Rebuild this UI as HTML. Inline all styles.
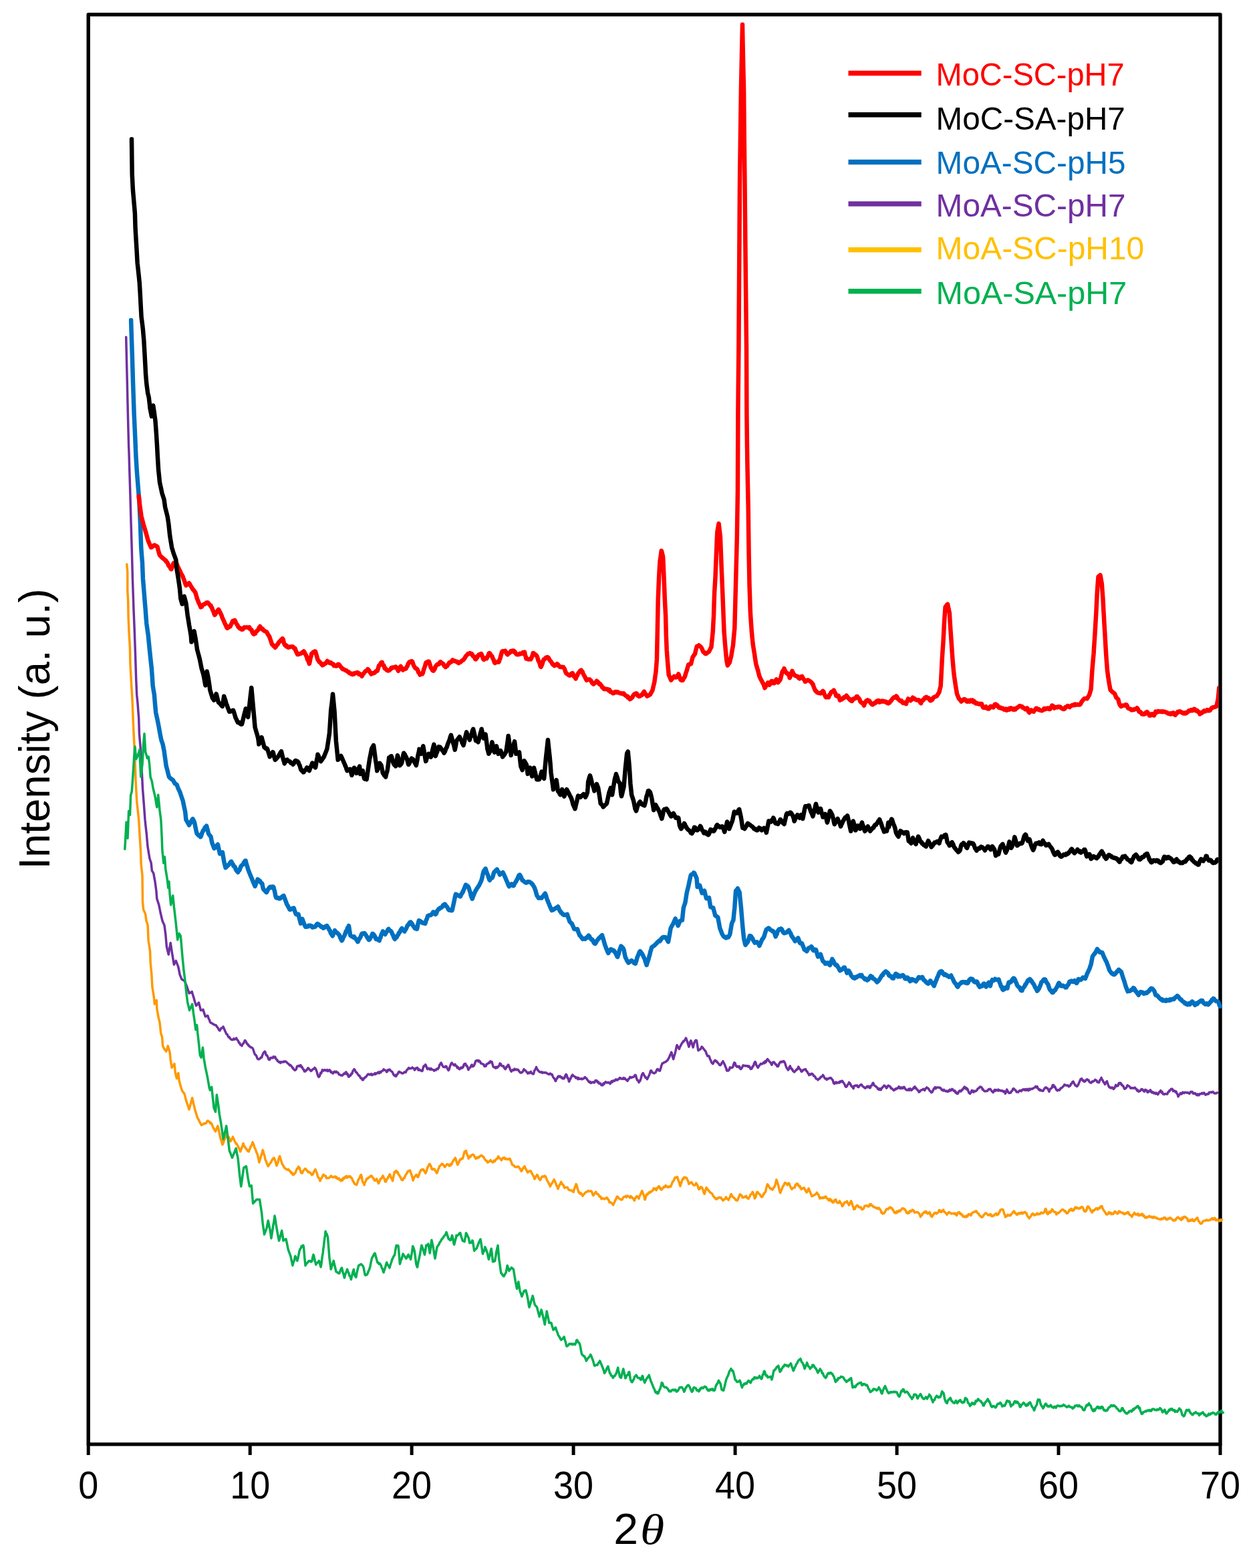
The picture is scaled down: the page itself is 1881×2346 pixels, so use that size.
<!DOCTYPE html>
<html lang="en"><head><meta charset="utf-8"><title>XRD patterns</title>
<style>html,body{margin:0;padding:0;background:#fff;width:1881px;height:2346px;overflow:hidden}svg{display:block}text{font-family:"Liberation Sans",sans-serif;fill:#000}.th{font-family:"Liberation Serif",serif;font-style:italic}</style></head><body>
<svg width="1881" height="2346" viewBox="0 0 1881 2346">
<rect width="1881" height="2346" fill="#fff"/>
<defs><clipPath id="cl"><rect x="0" y="0" width="1823.4" height="2346"/></clipPath></defs>
<g stroke="#000" stroke-width="5.4" fill="none" stroke-linecap="square">
<path d="M132.2 21.8 L1826.0 21.8 L1826.0 2160.9 L132.2 2160.9 Z" stroke-linejoin="round"/>
<path d="M132.2 2160.9 L132.2 2177" stroke-linecap="butt" stroke-width="5.0"/>
<path d="M374.2 2160.9 L374.2 2177" stroke-linecap="butt" stroke-width="5.0"/>
<path d="M616.1 2160.9 L616.1 2177" stroke-linecap="butt" stroke-width="5.0"/>
<path d="M858.1 2160.9 L858.1 2177" stroke-linecap="butt" stroke-width="5.0"/>
<path d="M1100.1 2160.9 L1100.1 2177" stroke-linecap="butt" stroke-width="5.0"/>
<path d="M1342.1 2160.9 L1342.1 2177" stroke-linecap="butt" stroke-width="5.0"/>
<path d="M1584.0 2160.9 L1584.0 2177" stroke-linecap="butt" stroke-width="5.0"/>
<path d="M1826.0 2160.9 L1826.0 2177" stroke-linecap="butt" stroke-width="5.0"/>
</g>
<path d="M188.7 504.2 L189.2 526.4 L189.8 551.0 L190.3 572.0 L191.4 620.6 L192.6 667.0 L193.1 680.0 L193.6 698.1 L194.5 726.4 L196.1 784.3 L197.2 819.1 L198.0 849.9 L198.4 865.5 L199.1 885.8 L200.0 911.9 L201.4 946.7 L202.6 981.4 L203.7 1016.2 L204.7 1039.4 L206.1 1053.3 L206.8 1063.1 L207.7 1074.2 L208.4 1097.4 L209.0 1104.7 L210.0 1115.9 L211.2 1134.5 L212.3 1155.4 L213.5 1180.0 L214.5 1193.0 L215.3 1203.2 L217.0 1226.4 L217.8 1234.1 L218.9 1244.0 L219.3 1247.2 L220.0 1255.7 L220.9 1265.8 L222.2 1273.9 L223.3 1280.7 L223.9 1284.3 L224.4 1285.8 L225.5 1289.2 L226.2 1291.3 L226.6 1295.2 L227.4 1302.9 L228.8 1305.0 L229.7 1306.4 L231.0 1313.6 L232.0 1319.1 L233.2 1328.1 L233.9 1333.0 L234.3 1338.5 L234.8 1344.6 L235.4 1346.5 L236.5 1349.9 L237.8 1353.9 L238.7 1358.3 L240.1 1365.5 L240.9 1368.8 L242.0 1373.5 L243.2 1378.3 L244.2 1380.5 L245.3 1382.7 L245.9 1384.0 L246.4 1387.6 L247.8 1398.0 L248.6 1407.4 L249.4 1416.5 L250.8 1422.3 L252.2 1428.1 L253.0 1423.4 L254.1 1417.0 L255.2 1410.7 L256.3 1418.0 L257.5 1425.8 L258.5 1431.9 L259.6 1438.8 L260.3 1443.2 L260.7 1442.6 L261.8 1440.2 L262.9 1438.1 L263.3 1437.4 L264.0 1439.4 L265.1 1442.1 L266.2 1445.0 L266.8 1446.7 L267.3 1449.1 L268.4 1454.6 L269.1 1458.3 L269.5 1459.1 L270.6 1461.9 L271.9 1465.2 L272.8 1465.5 L273.9 1466.5 L275.0 1466.8 L276.1 1467.5 L277.2 1469.9 L278.3 1472.6 L279.6 1475.6 L280.5 1478.8 L281.6 1481.6 L283.0 1486.1 L283.8 1485.5 L284.9 1485.3 L286.0 1484.4 L287.2 1483.7 L288.2 1487.3 L289.3 1490.7 L290.0 1493.1 L290.4 1494.5 L291.5 1498.4 L292.6 1501.9 L293.5 1504.6 L294.8 1503.4 L295.9 1502.0 L297.0 1500.6 L297.4 1500.0 L298.1 1502.5 L299.2 1506.6 L300.4 1511.6 L301.4 1511.4 L302.5 1511.4 L303.9 1510.4 L304.7 1513.2 L305.8 1516.3 L306.9 1519.9 L307.4 1520.9 L308.0 1520.8 L309.1 1520.6 L310.2 1519.6 L310.9 1519.8 L311.3 1520.9 L312.4 1524.4 L313.5 1526.2 L314.3 1529.0 L315.7 1530.5 L316.8 1530.8 L317.9 1531.3 L319.0 1532.4 L320.1 1532.7 L321.2 1533.6 L322.5 1533.7 L323.4 1534.1 L324.5 1536.1 L325.6 1537.3 L326.7 1538.9 L327.8 1541.2 L328.3 1541.7 L328.9 1542.0 L330.0 1540.1 L331.1 1538.2 L332.2 1538.1 L333.3 1537.3 L334.1 1536.0 L334.4 1537.0 L335.5 1539.5 L336.6 1542.2 L337.5 1544.1 L338.8 1546.9 L339.9 1547.5 L341.0 1549.8 L342.1 1551.8 L343.2 1551.6 L344.3 1553.6 L345.4 1554.9 L346.8 1555.6 L347.6 1555.8 L348.7 1555.6 L349.8 1553.9 L350.9 1555.1 L352.0 1554.5 L353.1 1553.8 L353.8 1553.2 L354.2 1555.1 L355.3 1555.9 L356.4 1557.1 L357.5 1560.3 L358.4 1560.1 L359.7 1563.1 L360.8 1563.7 L361.9 1564.8 L363.0 1562.0 L364.1 1561.5 L365.2 1559.2 L366.5 1556.6 L367.4 1557.4 L368.5 1559.4 L369.6 1561.6 L370.7 1562.3 L371.2 1563.7 L371.8 1563.4 L372.9 1565.3 L374.0 1565.8 L375.1 1566.9 L376.2 1566.9 L377.3 1567.8 L378.1 1568.4 L379.5 1571.9 L380.6 1575.6 L381.6 1577.7 L382.8 1578.5 L383.9 1580.2 L385.0 1583.5 L386.2 1584.7 L387.2 1584.8 L388.3 1584.5 L389.4 1583.3 L390.5 1582.0 L390.9 1582.4 L391.6 1582.2 L392.7 1578.7 L393.8 1576.1 L394.9 1574.4 L396.2 1573.2 L397.1 1574.3 L398.2 1578.7 L399.0 1578.6 L400.4 1580.6 L401.5 1583.8 L402.5 1585.6 L403.7 1585.5 L404.8 1582.6 L405.9 1582.4 L407.0 1582.8 L408.1 1582.9 L409.2 1580.8 L410.3 1582.3 L411.7 1581.1 L412.5 1583.1 L413.6 1585.2 L414.7 1585.7 L415.2 1587.0 L415.8 1588.0 L416.9 1588.2 L418.0 1589.5 L419.1 1588.7 L419.9 1590.4 L420.2 1589.6 L421.3 1588.9 L422.4 1588.8 L423.5 1589.2 L424.5 1588.0 L425.7 1588.8 L426.8 1587.9 L427.9 1588.4 L429.1 1589.3 L430.1 1590.7 L431.2 1591.3 L432.3 1592.4 L433.4 1593.5 L433.8 1593.9 L434.5 1593.3 L435.6 1594.7 L436.7 1595.9 L437.8 1598.0 L438.4 1597.6 L438.9 1599.1 L440.0 1600.0 L441.1 1601.3 L441.9 1601.0 L443.3 1599.7 L444.4 1595.6 L445.4 1595.0 L446.6 1594.5 L447.7 1595.5 L448.8 1593.9 L450.0 1593.7 L451.0 1596.8 L452.1 1596.3 L453.5 1599.9 L454.3 1600.0 L455.4 1603.0 L456.5 1601.6 L457.0 1603.0 L457.6 1601.7 L458.7 1601.5 L459.8 1599.5 L460.9 1597.9 L461.6 1598.4 L462.0 1598.6 L463.1 1600.4 L464.2 1600.8 L465.3 1602.5 L466.2 1601.9 L467.5 1600.2 L468.6 1599.5 L469.7 1599.2 L470.9 1597.4 L471.9 1598.5 L473.0 1600.4 L474.3 1604.2 L475.2 1607.8 L476.3 1610.5 L477.1 1611.4 L478.5 1609.7 L479.6 1605.2 L480.7 1605.7 L481.8 1602.4 L482.5 1600.6 L482.9 1601.8 L484.0 1602.2 L485.1 1600.9 L486.2 1600.6 L487.3 1601.7 L488.3 1601.9 L489.5 1600.6 L490.6 1602.7 L491.7 1602.1 L492.9 1600.7 L493.9 1601.4 L495.0 1604.2 L496.1 1603.6 L497.5 1605.7 L498.3 1606.0 L499.4 1604.1 L500.5 1603.1 L501.6 1604.3 L502.7 1604.4 L503.3 1603.2 L503.8 1604.4 L504.9 1604.5 L506.0 1604.9 L507.1 1607.6 L508.0 1607.7 L509.3 1608.3 L510.4 1609.2 L511.5 1608.8 L512.6 1609.0 L513.7 1607.3 L514.8 1606.1 L515.9 1606.8 L517.2 1604.2 L518.1 1604.1 L519.2 1607.4 L520.3 1606.9 L521.4 1610.9 L521.9 1609.9 L522.5 1610.9 L523.6 1608.7 L524.7 1609.1 L525.8 1606.3 L526.5 1606.9 L526.9 1606.4 L528.0 1602.4 L529.3 1600.7 L530.0 1599.7 L531.3 1601.2 L532.4 1604.1 L533.5 1604.5 L534.6 1605.8 L535.7 1607.7 L536.8 1609.3 L537.9 1609.2 L539.3 1612.4 L540.1 1613.3 L541.2 1613.1 L542.3 1615.7 L542.8 1614.8 L543.4 1615.7 L544.5 1613.2 L545.6 1613.1 L546.7 1611.5 L547.4 1611.4 L547.8 1611.1 L548.9 1609.5 L550.0 1607.9 L550.9 1606.9 L552.2 1607.2 L553.3 1608.0 L554.4 1607.7 L555.5 1606.6 L556.6 1608.6 L557.8 1607.7 L558.8 1607.3 L559.9 1607.5 L561.0 1605.5 L562.1 1607.2 L563.2 1605.8 L564.3 1605.8 L564.8 1605.8 L565.4 1604.4 L566.5 1604.1 L567.6 1605.7 L568.7 1603.7 L569.8 1604.6 L570.6 1603.0 L572.0 1602.1 L573.1 1601.9 L574.1 1599.9 L575.3 1600.9 L576.4 1601.2 L577.5 1601.4 L578.7 1604.0 L579.7 1603.1 L580.8 1600.6 L581.9 1601.2 L582.9 1600.0 L584.1 1601.4 L585.2 1602.5 L586.3 1603.2 L587.4 1604.3 L588.0 1605.8 L588.5 1607.1 L589.6 1608.6 L590.7 1609.7 L591.8 1608.4 L592.6 1610.4 L594.0 1607.8 L595.1 1606.7 L596.2 1604.4 L597.2 1603.3 L598.4 1604.6 L599.5 1604.4 L600.6 1605.2 L601.9 1606.1 L602.8 1605.9 L603.9 1605.2 L605.0 1604.1 L606.1 1604.0 L606.5 1604.4 L607.2 1604.5 L608.3 1601.6 L609.4 1600.5 L610.5 1599.3 L611.2 1598.2 L611.6 1597.7 L612.7 1598.9 L613.8 1598.5 L614.9 1598.6 L616.0 1598.1 L617.0 1597.0 L618.2 1598.2 L619.3 1598.6 L620.4 1601.0 L621.5 1599.9 L622.6 1597.9 L623.9 1597.6 L624.8 1597.4 L625.9 1600.9 L627.0 1600.2 L627.4 1601.1 L628.1 1600.3 L629.2 1601.2 L630.3 1602.0 L631.4 1602.6 L632.0 1602.3 L632.5 1600.4 L633.9 1595.2 L634.7 1594.5 L635.8 1594.9 L636.7 1592.8 L638.0 1595.5 L639.1 1599.0 L640.1 1599.7 L641.3 1598.2 L642.4 1598.7 L643.5 1600.4 L644.8 1598.5 L645.7 1600.2 L646.8 1600.1 L647.9 1600.6 L649.0 1600.7 L649.4 1602.1 L650.1 1601.8 L651.2 1600.7 L652.3 1601.1 L653.4 1599.2 L654.5 1599.2 L655.2 1599.7 L655.6 1598.4 L656.7 1597.4 L657.8 1592.9 L658.9 1592.7 L659.4 1590.6 L660.0 1590.1 L661.1 1592.1 L662.2 1594.6 L663.3 1596.3 L664.5 1596.4 L665.5 1596.7 L666.6 1595.3 L668.0 1595.4 L668.8 1597.7 L669.9 1599.5 L671.0 1601.4 L671.4 1601.2 L672.1 1600.1 L673.2 1595.9 L674.3 1593.3 L675.4 1590.6 L676.1 1590.1 L676.5 1591.6 L677.6 1591.9 L678.7 1593.3 L679.8 1593.9 L680.9 1592.3 L681.9 1594.6 L683.1 1594.7 L684.2 1597.7 L685.3 1596.6 L686.4 1598.9 L687.7 1599.8 L688.6 1598.4 L689.7 1597.0 L690.8 1598.3 L691.9 1597.5 L692.3 1596.2 L693.0 1596.8 L694.1 1593.0 L695.2 1591.7 L696.5 1591.4 L697.4 1594.2 L698.5 1594.2 L699.6 1596.6 L700.7 1600.3 L701.1 1600.6 L701.8 1598.2 L702.9 1597.9 L704.0 1596.7 L705.1 1594.2 L706.2 1593.1 L707.3 1595.8 L708.6 1595.0 L709.5 1594.0 L710.6 1591.1 L712.0 1587.2 L712.8 1586.8 L713.9 1587.0 L715.0 1586.6 L716.1 1588.3 L716.7 1586.9 L717.2 1587.9 L718.3 1587.9 L719.4 1590.9 L720.5 1590.9 L721.3 1591.6 L722.7 1592.3 L723.8 1592.4 L724.9 1595.4 L725.9 1595.3 L727.1 1595.2 L728.2 1592.0 L729.3 1592.0 L730.6 1590.8 L731.5 1589.9 L732.6 1590.5 L733.7 1587.8 L734.8 1589.0 L735.9 1588.5 L737.0 1592.1 L738.1 1596.1 L738.7 1596.5 L739.2 1596.8 L740.3 1596.7 L741.5 1598.1 L742.5 1596.2 L743.6 1597.6 L744.7 1597.0 L745.7 1595.3 L746.9 1594.8 L748.0 1591.1 L749.1 1591.4 L750.2 1593.9 L751.3 1594.9 L752.6 1595.0 L753.5 1595.1 L754.6 1598.1 L755.7 1598.9 L756.1 1599.7 L756.8 1599.1 L757.9 1596.1 L759.0 1596.3 L760.1 1593.4 L760.7 1593.0 L761.2 1594.3 L762.3 1596.4 L763.4 1599.9 L764.5 1602.4 L765.4 1603.2 L766.7 1600.8 L767.8 1600.4 L768.9 1601.3 L770.0 1599.2 L771.1 1600.1 L772.2 1600.8 L773.3 1599.9 L774.6 1600.7 L775.5 1600.6 L776.6 1602.5 L777.7 1603.8 L778.8 1605.0 L779.9 1605.0 L780.4 1605.1 L781.0 1604.2 L782.1 1603.8 L783.2 1601.6 L783.9 1599.7 L784.3 1600.6 L785.4 1601.3 L786.5 1601.7 L787.6 1603.4 L788.7 1604.5 L789.7 1606.1 L790.9 1604.5 L792.0 1605.7 L793.1 1605.1 L794.3 1603.3 L795.3 1605.4 L796.4 1606.3 L797.8 1607.0 L798.6 1606.2 L799.7 1601.9 L800.8 1600.6 L801.9 1598.2 L802.5 1596.5 L803.0 1598.4 L804.1 1599.8 L805.2 1601.6 L806.3 1602.6 L807.1 1603.6 L808.5 1604.3 L809.6 1604.0 L810.7 1603.8 L811.8 1605.4 L812.9 1604.5 L814.0 1604.7 L815.1 1605.0 L816.2 1604.7 L817.3 1605.0 L818.4 1605.8 L819.9 1606.9 L820.6 1607.0 L821.7 1607.4 L822.8 1606.3 L823.9 1606.3 L825.0 1607.7 L825.7 1607.9 L826.1 1607.5 L827.2 1610.5 L828.3 1612.5 L829.4 1613.6 L830.5 1615.3 L831.0 1617.2 L831.6 1617.5 L832.7 1614.1 L833.8 1613.4 L834.9 1610.7 L836.1 1610.0 L837.1 1611.2 L838.2 1610.0 L839.3 1612.0 L840.4 1611.7 L841.5 1613.6 L842.6 1612.7 L843.0 1613.6 L843.7 1614.0 L844.8 1612.5 L845.9 1609.1 L847.2 1607.4 L848.1 1608.7 L849.2 1613.0 L850.3 1613.3 L851.4 1618.2 L851.9 1618.2 L852.5 1615.8 L853.6 1614.2 L854.7 1611.7 L855.8 1609.1 L856.5 1609.2 L856.9 1608.1 L858.0 1609.9 L859.1 1610.2 L860.2 1610.8 L861.6 1612.8 L862.4 1612.0 L863.5 1612.3 L864.6 1614.6 L865.7 1612.5 L866.2 1614.0 L866.8 1614.4 L867.9 1614.1 L869.0 1614.4 L870.1 1613.6 L870.9 1614.8 L872.3 1614.1 L873.4 1613.8 L874.5 1612.2 L875.5 1611.5 L876.7 1613.1 L877.8 1613.6 L878.9 1615.7 L880.0 1616.6 L881.1 1618.6 L882.5 1619.7 L883.3 1618.4 L884.4 1620.5 L885.5 1619.9 L886.6 1619.0 L887.7 1618.9 L888.3 1619.0 L888.8 1620.0 L889.9 1619.4 L891.0 1616.5 L892.1 1616.9 L892.9 1616.7 L894.3 1619.3 L895.4 1618.7 L896.5 1621.2 L897.5 1620.9 L898.7 1621.1 L899.8 1623.6 L901.0 1623.0 L902.0 1623.7 L903.1 1620.7 L904.2 1621.7 L905.3 1619.8 L906.4 1618.5 L906.8 1619.6 L907.5 1619.7 L908.6 1620.1 L909.7 1619.3 L910.8 1620.0 L911.9 1619.7 L912.6 1620.9 L913.0 1621.6 L914.1 1619.8 L915.2 1617.5 L916.3 1619.1 L917.2 1617.1 L918.5 1617.0 L919.6 1617.3 L920.7 1615.5 L921.9 1614.9 L922.9 1616.0 L924.0 1615.9 L925.1 1614.7 L926.2 1614.5 L927.3 1612.6 L928.4 1612.8 L929.3 1613.9 L930.0 1614.0 L930.6 1614.2 L931.7 1614.4 L932.8 1612.7 L933.9 1614.4 L934.6 1613.3 L935.0 1613.0 L936.1 1614.7 L937.2 1615.8 L938.3 1615.6 L938.8 1617.3 L939.4 1616.8 L940.5 1614.6 L941.6 1613.8 L942.8 1611.3 L943.8 1611.9 L944.9 1612.6 L946.0 1611.4 L947.4 1611.6 L948.2 1611.3 L949.3 1610.0 L950.4 1608.3 L950.9 1608.5 L951.5 1609.0 L952.6 1613.8 L953.2 1614.7 L953.7 1616.3 L954.8 1616.2 L956.0 1619.5 L957.0 1618.1 L958.1 1616.6 L959.0 1613.7 L960.3 1608.7 L961.4 1606.5 L962.0 1605.6 L962.5 1605.7 L963.6 1608.4 L964.8 1610.1 L965.8 1612.2 L966.9 1612.3 L968.3 1614.7 L969.1 1613.5 L970.2 1611.0 L971.3 1609.0 L972.4 1606.0 L973.6 1601.9 L974.6 1601.7 L975.7 1604.3 L976.8 1604.9 L977.5 1605.4 L977.9 1605.5 L979.0 1605.9 L980.1 1604.9 L981.0 1604.8 L982.3 1601.9 L983.4 1599.9 L983.8 1600.2 L984.5 1599.7 L985.6 1601.7 L986.7 1601.4 L987.5 1602.1 L988.9 1597.6 L990.0 1593.7 L990.8 1591.7 L991.1 1591.0 L992.2 1590.8 L993.3 1589.9 L994.5 1589.3 L995.5 1589.1 L996.6 1588.4 L997.7 1587.1 L998.4 1586.9 L998.8 1586.6 L999.9 1584.7 L1001.0 1582.6 L1001.4 1582.3 L1002.1 1580.1 L1003.2 1577.4 L1004.3 1575.6 L1004.7 1574.2 L1005.4 1576.3 L1006.5 1581.1 L1007.7 1584.6 L1008.7 1580.6 L1010.0 1576.5 L1010.9 1572.9 L1012.0 1567.5 L1013.0 1563.7 L1014.2 1565.9 L1015.3 1567.9 L1016.3 1569.5 L1017.5 1566.4 L1018.6 1564.5 L1019.3 1562.6 L1019.7 1562.4 L1020.8 1560.3 L1021.9 1559.4 L1022.3 1558.0 L1023.0 1558.4 L1024.1 1556.7 L1025.2 1555.9 L1026.3 1553.1 L1026.9 1553.7 L1027.4 1556.0 L1028.5 1558.2 L1029.6 1562.2 L1030.9 1566.2 L1031.8 1563.6 L1032.9 1558.6 L1033.9 1556.9 L1035.1 1560.6 L1036.2 1563.7 L1037.1 1567.1 L1038.4 1561.8 L1039.4 1559.0 L1040.6 1556.8 L1041.7 1556.2 L1042.5 1556.9 L1042.8 1558.7 L1043.9 1566.0 L1044.8 1571.8 L1046.1 1570.8 L1047.2 1570.2 L1048.3 1569.6 L1049.4 1567.6 L1050.1 1566.1 L1050.5 1566.8 L1051.6 1567.4 L1052.7 1569.1 L1054.1 1570.7 L1054.9 1572.2 L1056.0 1573.0 L1056.4 1574.2 L1057.1 1576.4 L1058.2 1578.7 L1058.7 1580.0 L1059.3 1580.1 L1060.4 1580.0 L1061.0 1580.0 L1061.5 1581.4 L1062.6 1584.8 L1063.7 1586.7 L1064.5 1589.3 L1065.9 1590.9 L1066.8 1591.7 L1068.1 1588.9 L1069.1 1587.0 L1070.3 1586.4 L1071.4 1588.0 L1072.5 1587.7 L1073.3 1589.5 L1074.7 1590.5 L1075.8 1592.1 L1076.9 1593.6 L1077.9 1593.8 L1079.1 1592.5 L1080.2 1589.8 L1081.3 1589.4 L1081.9 1587.7 L1082.4 1589.3 L1083.5 1590.8 L1084.2 1592.7 L1084.6 1593.1 L1085.7 1596.4 L1086.8 1598.3 L1087.2 1601.0 L1087.9 1602.1 L1089.0 1601.0 L1090.0 1601.8 L1091.2 1600.4 L1092.3 1596.9 L1093.4 1598.0 L1094.5 1597.4 L1095.8 1597.3 L1096.7 1596.3 L1097.8 1592.1 L1098.8 1589.9 L1100.0 1590.5 L1101.1 1594.8 L1102.2 1594.8 L1102.8 1596.2 L1103.3 1595.0 L1104.4 1595.6 L1105.5 1596.8 L1106.2 1595.3 L1106.6 1595.7 L1107.7 1599.0 L1108.6 1599.6 L1109.9 1598.2 L1111.0 1596.1 L1112.0 1593.9 L1113.2 1594.6 L1114.3 1594.3 L1115.5 1595.0 L1116.5 1594.6 L1117.6 1595.0 L1119.0 1594.7 L1119.8 1596.2 L1120.9 1595.1 L1122.0 1596.6 L1123.1 1599.5 L1124.3 1599.3 L1125.3 1598.3 L1126.4 1595.2 L1127.1 1595.0 L1127.5 1594.7 L1128.6 1590.7 L1129.9 1588.6 L1130.8 1589.6 L1131.9 1593.8 L1133.0 1595.4 L1134.1 1597.5 L1135.2 1595.6 L1136.3 1594.1 L1137.5 1592.8 L1138.5 1591.4 L1139.6 1592.1 L1141.0 1591.6 L1141.8 1590.7 L1142.9 1589.3 L1144.0 1590.8 L1144.5 1589.4 L1145.1 1587.6 L1146.2 1589.2 L1147.3 1586.5 L1148.4 1584.6 L1149.1 1585.2 L1149.5 1585.9 L1150.6 1587.2 L1151.7 1588.9 L1152.6 1589.2 L1153.9 1591.4 L1154.5 1592.7 L1155.0 1593.2 L1156.1 1590.2 L1157.2 1588.9 L1158.4 1589.2 L1159.4 1590.7 L1160.5 1592.7 L1161.9 1592.7 L1162.7 1595.2 L1163.8 1594.3 L1164.2 1595.6 L1164.9 1594.7 L1166.0 1591.3 L1167.1 1590.1 L1167.7 1588.7 L1168.2 1589.0 L1169.3 1589.3 L1170.4 1588.1 L1171.5 1588.8 L1172.6 1587.6 L1173.5 1588.4 L1174.8 1590.9 L1175.9 1594.6 L1177.0 1597.5 L1178.1 1598.9 L1179.3 1601.0 L1180.3 1599.9 L1181.4 1596.2 L1182.3 1594.9 L1183.6 1598.6 L1184.7 1598.7 L1185.1 1600.3 L1185.8 1600.0 L1186.9 1602.9 L1188.0 1603.1 L1188.6 1604.0 L1189.1 1603.2 L1190.2 1602.3 L1191.3 1601.0 L1192.0 1600.1 L1192.4 1600.5 L1193.5 1599.4 L1194.8 1596.1 L1195.7 1597.4 L1196.8 1599.7 L1197.9 1600.1 L1199.0 1603.2 L1200.1 1603.3 L1201.2 1601.8 L1202.3 1600.5 L1203.4 1600.7 L1204.8 1599.7 L1205.6 1599.8 L1206.7 1602.5 L1207.8 1603.0 L1208.9 1605.6 L1210.0 1606.5 L1210.6 1608.6 L1211.1 1608.0 L1212.2 1606.9 L1213.3 1607.8 L1214.8 1606.3 L1215.5 1606.7 L1216.6 1607.5 L1217.7 1610.0 L1218.8 1609.9 L1219.9 1611.1 L1221.0 1613.7 L1222.1 1614.3 L1223.2 1614.4 L1224.0 1615.8 L1225.4 1613.9 L1226.5 1613.9 L1227.6 1612.5 L1228.0 1611.3 L1228.7 1611.5 L1229.8 1610.7 L1230.9 1609.7 L1231.4 1608.4 L1232.0 1609.0 L1233.1 1611.2 L1234.2 1613.3 L1235.3 1614.1 L1236.4 1613.7 L1237.2 1615.4 L1238.6 1614.0 L1239.7 1613.9 L1240.7 1613.0 L1241.9 1613.3 L1243.0 1612.5 L1244.2 1613.6 L1245.2 1615.1 L1246.3 1616.3 L1247.4 1620.6 L1248.1 1620.6 L1248.5 1621.6 L1249.6 1619.7 L1250.7 1619.0 L1251.8 1620.7 L1252.3 1619.4 L1252.9 1619.5 L1254.0 1620.0 L1255.1 1619.3 L1255.8 1620.1 L1256.2 1618.6 L1257.3 1617.9 L1258.4 1618.9 L1259.3 1617.3 L1260.6 1617.3 L1261.7 1619.4 L1262.8 1620.6 L1263.9 1622.4 L1265.0 1625.3 L1266.2 1626.3 L1267.2 1625.5 L1268.3 1623.2 L1269.4 1622.1 L1270.5 1619.4 L1270.9 1620.0 L1271.6 1620.3 L1272.7 1622.9 L1273.2 1622.7 L1273.8 1624.8 L1274.9 1625.9 L1276.0 1625.8 L1276.7 1628.2 L1277.1 1628.7 L1278.2 1624.8 L1279.3 1624.5 L1280.1 1623.9 L1281.5 1624.6 L1282.6 1623.9 L1283.7 1626.3 L1284.8 1626.5 L1285.9 1624.6 L1287.0 1623.8 L1288.1 1622.8 L1289.4 1622.8 L1290.3 1624.7 L1291.4 1625.4 L1292.5 1626.6 L1293.6 1627.4 L1294.1 1626.9 L1294.7 1628.2 L1295.8 1626.9 L1296.9 1627.0 L1297.5 1625.2 L1298.0 1626.8 L1299.1 1625.3 L1300.2 1625.2 L1301.3 1627.8 L1302.2 1627.6 L1303.5 1624.2 L1304.6 1624.1 L1305.7 1621.2 L1306.1 1620.5 L1306.8 1620.3 L1307.9 1623.4 L1309.0 1624.6 L1310.3 1625.0 L1311.2 1626.1 L1312.3 1626.7 L1313.4 1629.0 L1314.5 1629.8 L1314.9 1628.6 L1315.6 1630.4 L1316.7 1628.9 L1317.8 1630.7 L1318.4 1630.5 L1318.9 1628.3 L1320.0 1627.8 L1321.1 1626.2 L1322.2 1625.7 L1323.0 1624.0 L1324.4 1624.9 L1325.5 1625.7 L1326.5 1628.1 L1327.7 1626.5 L1328.8 1624.7 L1329.3 1624.1 L1330.0 1625.0 L1331.0 1625.0 L1332.1 1625.7 L1333.2 1628.4 L1334.2 1628.1 L1335.4 1629.4 L1336.5 1630.4 L1337.6 1631.5 L1338.1 1631.1 L1338.7 1630.9 L1339.8 1629.0 L1340.9 1629.6 L1341.6 1628.4 L1342.0 1628.3 L1343.1 1628.4 L1344.2 1627.3 L1345.1 1625.7 L1346.4 1628.3 L1347.5 1626.8 L1348.1 1628.5 L1348.6 1628.0 L1349.7 1627.0 L1350.8 1628.3 L1352.0 1626.4 L1353.0 1626.2 L1354.1 1628.6 L1355.5 1629.9 L1356.3 1630.7 L1357.4 1631.0 L1358.5 1630.9 L1359.6 1629.3 L1360.1 1630.3 L1360.7 1631.2 L1361.8 1628.7 L1362.9 1630.1 L1364.0 1631.3 L1364.8 1630.1 L1366.2 1629.0 L1367.3 1627.0 L1368.4 1628.0 L1369.0 1625.8 L1369.5 1628.1 L1370.6 1627.6 L1371.7 1629.4 L1372.8 1630.5 L1373.9 1631.8 L1375.2 1634.0 L1376.1 1633.6 L1377.2 1631.5 L1378.3 1631.0 L1378.7 1631.1 L1379.4 1630.8 L1380.5 1630.3 L1381.6 1629.3 L1382.7 1630.5 L1383.3 1630.7 L1383.8 1631.3 L1384.9 1628.7 L1386.0 1628.3 L1386.8 1626.9 L1388.2 1628.2 L1389.3 1628.6 L1390.3 1630.5 L1391.5 1632.2 L1392.6 1632.8 L1393.7 1634.6 L1394.5 1634.1 L1394.8 1634.2 L1395.9 1632.3 L1397.0 1629.7 L1397.7 1628.4 L1398.1 1629.1 L1399.2 1626.6 L1400.3 1628.6 L1401.4 1627.2 L1401.9 1627.0 L1402.5 1626.9 L1403.6 1627.1 L1404.7 1627.1 L1405.4 1627.6 L1405.8 1627.6 L1406.9 1627.3 L1408.0 1628.6 L1409.1 1630.7 L1410.0 1630.3 L1411.3 1631.9 L1412.4 1630.3 L1413.5 1632.1 L1414.6 1631.9 L1415.7 1632.9 L1416.8 1632.0 L1418.1 1633.4 L1419.0 1632.1 L1420.1 1632.7 L1421.2 1630.2 L1421.6 1630.5 L1422.3 1631.8 L1423.4 1631.5 L1424.5 1629.4 L1425.1 1629.9 L1425.6 1629.7 L1426.7 1631.8 L1427.8 1632.5 L1428.6 1632.4 L1428.9 1631.8 L1430.0 1635.0 L1431.1 1634.2 L1432.0 1636.4 L1433.3 1636.3 L1434.4 1634.1 L1435.5 1632.2 L1436.6 1631.8 L1437.7 1632.9 L1438.8 1632.3 L1439.4 1630.5 L1439.9 1630.9 L1441.0 1629.4 L1442.5 1627.0 L1443.2 1626.0 L1444.3 1628.4 L1445.5 1627.3 L1446.5 1629.9 L1447.6 1628.9 L1448.7 1631.6 L1449.8 1634.6 L1450.9 1636.0 L1451.7 1636.4 L1453.1 1634.1 L1454.2 1631.3 L1454.8 1631.7 L1455.3 1633.5 L1456.4 1632.0 L1457.1 1634.1 L1457.5 1632.6 L1458.6 1632.5 L1459.7 1632.7 L1461.0 1631.8 L1461.9 1631.4 L1463.0 1628.9 L1464.0 1628.5 L1465.2 1627.6 L1466.3 1626.2 L1467.3 1625.9 L1468.5 1626.7 L1469.6 1627.9 L1470.3 1630.1 L1470.7 1629.5 L1471.8 1630.9 L1472.9 1632.6 L1473.8 1632.8 L1475.1 1632.6 L1476.2 1632.2 L1477.3 1632.5 L1478.4 1631.1 L1479.5 1629.6 L1480.6 1629.8 L1481.9 1629.2 L1482.8 1630.9 L1483.9 1632.1 L1485.4 1633.9 L1486.1 1634.5 L1487.2 1632.5 L1488.3 1630.7 L1489.4 1632.3 L1490.0 1630.5 L1490.5 1631.0 L1491.6 1631.1 L1492.7 1631.6 L1493.8 1630.2 L1494.6 1631.9 L1496.0 1631.1 L1497.1 1631.6 L1498.2 1632.3 L1499.3 1631.8 L1500.4 1631.9 L1501.5 1633.6 L1502.8 1632.6 L1503.7 1633.5 L1504.4 1636.2 L1504.8 1635.4 L1505.9 1632.7 L1506.7 1630.1 L1508.1 1632.9 L1509.2 1635.0 L1510.4 1635.5 L1511.4 1634.8 L1512.5 1635.0 L1513.2 1633.4 L1513.6 1632.7 L1514.7 1632.2 L1515.8 1629.2 L1516.7 1628.6 L1518.0 1629.8 L1519.1 1630.9 L1520.2 1631.9 L1521.3 1633.9 L1522.4 1633.7 L1523.5 1634.2 L1524.6 1632.7 L1525.9 1631.7 L1526.8 1631.4 L1527.9 1632.7 L1529.0 1631.2 L1529.4 1631.7 L1530.1 1630.3 L1531.2 1629.8 L1532.3 1630.4 L1533.4 1631.1 L1534.1 1629.6 L1534.5 1630.8 L1535.6 1631.2 L1536.7 1629.3 L1537.5 1630.9 L1538.9 1631.6 L1540.0 1629.0 L1541.1 1630.5 L1541.5 1629.3 L1542.2 1629.8 L1543.3 1628.9 L1544.5 1629.4 L1545.5 1628.5 L1546.6 1628.1 L1548.0 1627.1 L1548.8 1626.8 L1549.9 1625.3 L1551.0 1626.9 L1551.4 1626.0 L1552.1 1625.6 L1553.2 1628.3 L1554.5 1630.4 L1555.4 1629.6 L1556.5 1631.6 L1557.6 1630.9 L1558.4 1631.6 L1559.8 1632.3 L1560.9 1632.2 L1561.9 1630.4 L1563.1 1628.5 L1564.2 1627.2 L1565.3 1626.9 L1566.1 1627.3 L1566.4 1628.2 L1567.5 1628.2 L1568.6 1630.2 L1570.0 1633.3 L1570.8 1630.7 L1571.9 1629.0 L1573.0 1628.4 L1574.1 1627.3 L1575.2 1623.5 L1575.8 1623.9 L1576.3 1623.3 L1577.4 1626.4 L1578.5 1625.7 L1579.3 1627.2 L1580.7 1630.6 L1581.8 1631.0 L1582.3 1631.8 L1582.9 1630.8 L1584.0 1630.4 L1585.1 1631.2 L1586.2 1630.1 L1587.3 1627.9 L1588.4 1627.9 L1589.7 1626.9 L1590.6 1625.6 L1591.7 1624.8 L1592.8 1622.8 L1593.2 1623.0 L1593.9 1623.0 L1595.0 1624.0 L1596.1 1624.1 L1596.7 1624.0 L1597.2 1623.7 L1598.3 1624.2 L1599.4 1625.9 L1600.5 1624.4 L1601.6 1624.4 L1602.5 1621.7 L1603.8 1621.2 L1604.9 1618.7 L1605.5 1618.5 L1606.0 1618.0 L1607.1 1620.3 L1608.3 1622.6 L1609.3 1624.2 L1610.4 1624.2 L1611.5 1625.5 L1612.4 1624.7 L1613.7 1622.5 L1614.8 1619.7 L1615.7 1617.8 L1617.0 1614.7 L1618.1 1614.0 L1618.7 1613.8 L1619.2 1615.1 L1620.3 1616.9 L1621.4 1616.3 L1622.2 1618.4 L1623.6 1618.1 L1624.7 1616.6 L1625.7 1615.4 L1626.9 1614.8 L1628.0 1616.3 L1629.1 1616.1 L1630.2 1618.7 L1631.3 1619.4 L1632.6 1620.2 L1633.5 1619.4 L1634.6 1617.9 L1635.6 1618.4 L1636.8 1617.6 L1637.9 1616.7 L1638.9 1615.4 L1640.1 1616.4 L1641.2 1616.9 L1641.9 1618.9 L1642.3 1618.9 L1643.4 1619.4 L1644.5 1619.7 L1644.9 1618.7 L1645.6 1616.4 L1646.7 1615.3 L1648.1 1612.4 L1648.9 1615.2 L1650.0 1615.9 L1651.2 1619.0 L1652.2 1620.0 L1653.5 1622.5 L1654.4 1620.1 L1655.5 1618.6 L1656.5 1617.7 L1657.7 1621.7 L1658.8 1624.4 L1659.3 1626.0 L1659.9 1625.9 L1661.0 1627.4 L1662.1 1627.0 L1662.8 1628.0 L1663.2 1627.7 L1664.3 1627.0 L1665.4 1627.7 L1666.2 1629.5 L1667.6 1628.2 L1669.0 1625.0 L1669.8 1623.3 L1670.9 1625.2 L1672.0 1624.2 L1672.7 1623.8 L1673.1 1624.5 L1674.2 1620.6 L1675.3 1620.8 L1676.0 1620.0 L1676.4 1621.7 L1677.5 1620.8 L1678.6 1623.5 L1679.0 1623.0 L1679.7 1624.4 L1680.8 1624.7 L1681.9 1627.7 L1682.9 1629.3 L1684.1 1628.7 L1685.2 1627.5 L1686.3 1625.9 L1687.1 1623.7 L1688.5 1624.6 L1689.6 1625.2 L1690.6 1626.0 L1691.8 1628.1 L1692.9 1627.6 L1694.1 1628.1 L1695.1 1627.7 L1696.2 1628.3 L1697.3 1627.5 L1698.2 1627.1 L1699.5 1628.9 L1700.6 1629.5 L1701.0 1630.5 L1701.7 1631.9 L1702.8 1631.0 L1703.8 1633.3 L1705.0 1632.7 L1706.1 1632.1 L1707.2 1631.1 L1708.0 1629.6 L1709.4 1629.8 L1710.5 1631.0 L1711.4 1632.6 L1712.7 1633.1 L1713.8 1630.4 L1714.9 1630.9 L1716.0 1631.4 L1717.1 1634.3 L1718.4 1634.0 L1719.3 1632.2 L1720.4 1632.7 L1721.5 1630.8 L1721.9 1631.6 L1722.6 1633.7 L1723.7 1634.7 L1724.8 1633.6 L1725.4 1635.1 L1725.9 1634.2 L1727.0 1635.8 L1728.1 1635.1 L1729.3 1636.6 L1730.3 1635.0 L1731.5 1636.3 L1732.5 1637.6 L1732.9 1636.9 L1733.6 1636.2 L1734.7 1633.9 L1735.8 1633.4 L1736.8 1631.6 L1738.0 1634.6 L1739.1 1633.5 L1740.2 1636.8 L1740.8 1637.0 L1741.3 1636.5 L1742.4 1637.5 L1743.5 1636.6 L1744.6 1636.6 L1745.7 1636.8 L1746.1 1637.1 L1746.8 1637.0 L1747.9 1634.0 L1749.0 1633.8 L1749.6 1632.1 L1750.1 1632.3 L1751.2 1630.9 L1752.4 1629.4 L1753.4 1629.0 L1754.5 1629.6 L1755.6 1632.6 L1756.6 1632.0 L1757.8 1632.0 L1758.9 1633.9 L1760.0 1633.2 L1761.1 1636.1 L1762.2 1637.3 L1763.1 1640.7 L1764.4 1638.3 L1765.5 1637.3 L1766.6 1635.4 L1767.0 1636.1 L1767.7 1637.0 L1768.8 1636.3 L1769.9 1634.1 L1771.0 1635.3 L1771.6 1635.0 L1772.1 1635.5 L1773.2 1634.2 L1774.3 1634.6 L1775.6 1634.8 L1776.5 1635.2 L1777.6 1634.7 L1778.7 1635.2 L1779.8 1636.4 L1780.9 1634.9 L1782.0 1633.3 L1783.2 1633.7 L1784.2 1633.5 L1785.3 1636.0 L1786.4 1636.4 L1787.2 1635.4 L1788.6 1635.8 L1789.7 1637.7 L1790.8 1638.3 L1791.4 1638.6 L1791.9 1636.9 L1793.0 1638.3 L1794.1 1638.8 L1795.2 1636.6 L1796.0 1636.8 L1797.4 1636.7 L1798.5 1635.3 L1799.6 1636.4 L1800.2 1635.5 L1800.7 1635.4 L1801.8 1635.0 L1802.9 1636.9 L1804.0 1638.2 L1805.3 1637.7 L1806.2 1636.6 L1807.3 1637.0 L1808.4 1636.8 L1809.5 1634.3 L1809.9 1634.9 L1810.6 1634.3 L1811.7 1633.9 L1812.8 1634.5 L1814.1 1634.0 L1815.0 1633.4 L1816.1 1634.6 L1817.2 1635.9 L1818.1 1635.6 L1819.4 1636.0 L1820.5 1634.9 L1821.6 1635.1 L1822.7 1634.9" fill="none" stroke="#7030A0" stroke-width="3.5" stroke-linejoin="round" stroke-linecap="round" clip-path="url(#cl)"/>
<path d="M189.8 844.2 L190.4 851.3 L190.8 856.2 L190.8 884.1 L191.7 898.0 L192.1 923.5 L192.6 934.3 L193.1 946.7 L193.7 956.7 L194.5 969.9 L194.9 993.0 L195.9 1010.8 L196.8 1027.8 L197.7 1041.7 L198.1 1050.0 L198.6 1062.6 L199.2 1077.4 L199.6 1088.1 L200.3 1100.9 L200.7 1109.0 L201.4 1122.9 L202.3 1143.8 L203.0 1167.0 L203.7 1180.0 L204.7 1198.6 L205.8 1208.8 L206.9 1218.9 L207.7 1226.4 L208.8 1244.9 L210.5 1272.8 L211.2 1293.6 L212.4 1304.3 L213.0 1309.9 L213.5 1349.3 L214.6 1360.9 L215.7 1363.3 L216.8 1365.8 L217.7 1367.8 L218.8 1377.1 L220.1 1380.9 L221.1 1384.1 L222.1 1407.2 L223.4 1415.6 L224.6 1423.5 L225.1 1439.7 L225.6 1444.8 L226.9 1458.3 L227.9 1476.8 L228.9 1482.9 L230.2 1490.7 L231.3 1502.3 L232.2 1500.7 L233.3 1498.6 L234.3 1496.5 L234.8 1509.3 L235.5 1512.9 L236.6 1519.0 L237.1 1522.0 L237.7 1524.4 L239.0 1530.1 L239.9 1537.9 L240.8 1546.4 L242.1 1550.0 L242.5 1551.0 L243.2 1559.5 L243.6 1564.9 L244.3 1566.2 L245.4 1568.5 L245.9 1569.6 L246.5 1570.3 L247.6 1571.5 L248.7 1573.1 L249.8 1569.8 L250.9 1566.3 L251.3 1564.9 L252.0 1567.3 L253.1 1571.0 L254.1 1574.2 L255.2 1585.8 L256.4 1593.2 L257.1 1597.4 L257.5 1596.6 L258.6 1595.1 L259.7 1593.6 L261.0 1591.6 L262.2 1604.3 L263.0 1607.6 L264.1 1612.0 L264.5 1613.6 L265.2 1611.2 L266.3 1607.4 L266.8 1605.5 L267.4 1610.6 L268.0 1616.0 L268.5 1618.0 L269.6 1622.4 L270.3 1625.2 L270.7 1626.3 L271.8 1629.7 L272.6 1632.2 L274.0 1633.9 L275.1 1635.4 L276.1 1636.8 L277.3 1641.7 L278.4 1646.1 L279.5 1649.4 L280.7 1653.1 L281.7 1655.6 L283.0 1660.0 L283.9 1656.6 L285.0 1652.8 L286.1 1648.5 L287.2 1644.2 L287.7 1642.6 L288.3 1645.3 L289.4 1650.3 L290.0 1653.0 L290.5 1654.8 L291.6 1659.8 L292.3 1662.4 L292.7 1663.2 L293.8 1667.1 L295.1 1671.5 L296.0 1673.3 L297.1 1675.0 L298.1 1677.4 L299.3 1679.5 L300.4 1681.7 L301.6 1683.4 L302.6 1682.2 L303.7 1682.5 L304.8 1681.5 L305.9 1680.6 L306.2 1681.2 L307.0 1680.8 L308.1 1680.7 L309.2 1679.1 L310.3 1677.1 L310.9 1677.6 L311.4 1676.9 L312.5 1678.1 L313.6 1678.5 L314.7 1681.0 L315.5 1679.9 L316.9 1681.6 L318.0 1684.3 L319.0 1687.0 L320.2 1688.7 L321.3 1691.1 L322.5 1692.8 L323.5 1690.4 L324.6 1687.8 L325.9 1684.6 L326.8 1688.0 L327.9 1693.9 L329.0 1698.4 L329.4 1701.0 L330.1 1703.6 L331.2 1706.2 L332.3 1710.8 L332.9 1712.6 L333.4 1712.0 L334.5 1708.9 L335.6 1705.7 L336.4 1703.1 L337.8 1701.1 L338.9 1697.4 L339.9 1696.1 L341.1 1700.6 L342.2 1700.9 L343.3 1704.3 L344.5 1707.8 L345.5 1706.7 L346.6 1704.8 L347.7 1702.5 L348.4 1700.9 L349.9 1704.3 L351.0 1707.2 L352.1 1708.8 L352.6 1710.2 L353.2 1711.3 L354.3 1711.4 L355.4 1713.9 L356.1 1714.7 L356.5 1716.3 L357.6 1717.6 L358.7 1720.9 L359.6 1723.0 L360.9 1719.9 L362.0 1716.8 L363.1 1714.2 L363.7 1711.1 L364.2 1710.8 L365.3 1715.2 L366.4 1715.7 L367.7 1718.3 L368.6 1719.0 L369.7 1720.1 L370.8 1722.2 L371.9 1721.6 L372.3 1723.0 L373.0 1720.4 L374.1 1718.3 L375.2 1715.3 L376.3 1713.8 L377.4 1710.9 L378.1 1708.9 L378.5 1710.5 L379.6 1711.9 L380.7 1716.6 L381.6 1718.1 L382.9 1721.2 L384.0 1724.8 L385.1 1726.4 L386.2 1731.3 L387.3 1736.5 L387.9 1739.1 L388.4 1737.2 L389.5 1733.8 L390.6 1729.6 L391.7 1726.2 L392.8 1722.5 L393.2 1720.6 L393.9 1722.5 L395.0 1727.3 L396.1 1729.9 L396.7 1733.3 L397.2 1735.7 L398.3 1737.5 L399.4 1741.1 L400.5 1743.4 L401.3 1744.8 L402.7 1742.6 L403.8 1740.9 L404.9 1739.7 L405.9 1738.1 L407.1 1735.7 L408.2 1733.6 L409.3 1733.9 L410.1 1732.4 L411.5 1735.7 L412.6 1739.0 L413.7 1743.5 L414.1 1743.9 L414.8 1741.5 L415.9 1739.4 L417.0 1733.9 L418.1 1731.1 L418.7 1729.8 L419.2 1732.2 L420.3 1735.3 L421.4 1739.0 L422.2 1741.4 L423.6 1743.5 L424.7 1745.7 L425.8 1747.3 L426.8 1748.4 L428.0 1749.0 L429.1 1749.7 L430.2 1750.3 L431.3 1749.4 L432.6 1750.8 L433.5 1752.2 L434.6 1752.7 L435.7 1755.1 L436.8 1754.6 L437.9 1757.4 L439.0 1756.3 L439.6 1757.7 L440.1 1756.2 L441.2 1755.7 L442.3 1754.2 L443.0 1751.9 L444.5 1748.5 L445.6 1748.1 L446.7 1745.5 L447.2 1746.2 L447.8 1746.5 L448.9 1749.3 L450.0 1753.6 L451.2 1755.2 L452.2 1755.2 L453.3 1752.6 L454.4 1751.2 L455.5 1749.7 L456.6 1748.4 L457.0 1748.4 L457.7 1749.8 L458.8 1750.4 L459.9 1752.4 L461.0 1752.4 L461.6 1754.1 L462.1 1754.1 L463.2 1753.8 L464.3 1755.0 L465.4 1755.5 L466.5 1757.9 L467.4 1757.7 L468.7 1756.1 L469.8 1752.7 L470.9 1751.2 L472.0 1749.5 L473.1 1752.8 L474.2 1755.0 L475.5 1760.0 L476.4 1762.0 L477.5 1762.6 L478.6 1765.6 L479.0 1766.9 L479.7 1764.6 L480.8 1763.2 L481.9 1761.4 L483.0 1758.9 L483.6 1757.9 L484.1 1757.3 L485.2 1759.1 L486.3 1759.1 L487.4 1759.5 L488.5 1762.7 L489.4 1762.4 L490.7 1762.4 L491.8 1762.6 L492.9 1761.9 L494.0 1761.0 L495.1 1759.4 L496.4 1759.9 L497.3 1761.3 L498.4 1761.6 L499.5 1761.0 L500.6 1761.0 L501.7 1760.0 L502.8 1762.4 L503.3 1761.0 L503.9 1761.4 L505.0 1763.9 L506.1 1763.7 L507.2 1762.9 L508.3 1765.6 L509.4 1765.5 L510.3 1766.9 L511.6 1764.3 L512.7 1765.9 L513.8 1762.4 L514.9 1763.3 L516.1 1761.2 L517.1 1762.0 L518.2 1759.6 L519.3 1762.1 L520.4 1761.1 L521.5 1759.9 L522.6 1760.8 L523.7 1759.9 L524.2 1760.0 L524.8 1761.9 L525.9 1761.9 L527.0 1764.0 L528.1 1767.1 L529.3 1768.2 L530.0 1770.4 L531.4 1771.6 L532.5 1772.2 L533.5 1772.8 L534.7 1770.1 L535.8 1766.1 L537.0 1763.7 L538.0 1762.7 L539.1 1759.3 L540.4 1757.7 L541.3 1760.6 L542.4 1767.1 L542.8 1768.1 L543.5 1769.3 L544.6 1771.1 L545.1 1773.0 L545.7 1770.4 L546.8 1767.7 L547.9 1766.2 L548.6 1763.4 L549.0 1763.3 L550.1 1763.6 L551.2 1762.1 L552.0 1761.5 L553.4 1761.1 L554.5 1759.5 L555.6 1759.0 L556.7 1760.1 L557.8 1762.3 L558.9 1762.8 L560.1 1765.9 L561.1 1766.6 L562.2 1765.8 L563.6 1763.8 L564.4 1765.5 L565.5 1768.7 L566.6 1770.6 L567.7 1767.8 L568.8 1765.2 L569.4 1763.7 L569.9 1764.0 L571.0 1762.7 L572.1 1761.0 L572.9 1759.1 L574.3 1762.1 L575.4 1764.4 L576.4 1768.1 L577.6 1768.0 L578.7 1764.3 L579.9 1763.6 L580.9 1761.0 L582.0 1759.2 L583.3 1756.9 L584.2 1758.9 L585.3 1762.7 L586.4 1763.3 L587.5 1766.9 L588.6 1761.3 L589.7 1756.4 L590.3 1753.3 L590.8 1754.4 L591.9 1753.0 L593.1 1751.5 L594.1 1754.3 L595.2 1753.9 L596.3 1757.1 L597.2 1757.7 L598.5 1760.3 L599.6 1762.0 L600.7 1764.9 L601.9 1765.7 L602.9 1765.4 L604.0 1762.8 L605.1 1762.6 L606.5 1759.0 L607.3 1757.6 L608.4 1755.9 L609.5 1754.8 L610.0 1753.1 L610.6 1752.3 L611.7 1751.8 L612.8 1751.6 L613.5 1751.0 L613.9 1752.7 L615.0 1755.3 L616.1 1758.6 L617.2 1762.5 L618.1 1766.1 L619.4 1762.6 L620.5 1760.4 L621.6 1759.5 L622.8 1757.7 L623.8 1757.7 L624.9 1761.1 L625.5 1761.3 L626.0 1760.2 L627.1 1757.7 L628.2 1753.8 L629.3 1751.9 L629.7 1750.8 L630.4 1751.1 L631.5 1749.5 L632.6 1750.3 L633.2 1749.7 L633.7 1749.8 L634.8 1752.3 L635.9 1753.8 L636.7 1755.4 L638.1 1752.4 L639.2 1748.6 L640.3 1745.7 L640.8 1745.1 L641.4 1744.0 L642.5 1741.7 L643.2 1741.5 L643.6 1743.5 L644.7 1743.9 L645.9 1748.6 L646.9 1749.8 L648.0 1748.7 L649.4 1749.1 L650.2 1749.3 L651.3 1751.9 L652.4 1752.3 L653.5 1755.1 L654.1 1754.7 L654.6 1753.6 L655.7 1749.4 L656.8 1747.8 L657.5 1745.1 L659.0 1743.8 L660.1 1742.9 L661.2 1741.3 L662.2 1741.6 L663.4 1742.8 L664.5 1744.5 L665.7 1746.1 L666.7 1744.7 L667.8 1743.2 L669.1 1741.7 L670.0 1742.2 L671.1 1742.6 L672.2 1744.3 L673.3 1742.4 L673.8 1743.9 L674.4 1741.9 L675.5 1742.7 L676.6 1739.7 L677.7 1737.5 L678.4 1737.0 L678.8 1735.5 L679.9 1734.7 L681.2 1732.3 L682.1 1734.2 L683.2 1738.4 L684.3 1741.4 L684.9 1742.7 L685.4 1741.2 L686.5 1739.6 L687.6 1736.6 L688.8 1734.6 L689.8 1734.9 L690.9 1733.2 L692.3 1733.4 L693.1 1730.8 L694.2 1726.6 L695.1 1723.1 L696.4 1723.1 L697.4 1721.7 L698.6 1726.5 L699.7 1729.1 L700.8 1731.3 L701.1 1733.4 L701.9 1731.8 L703.0 1730.0 L704.1 1730.9 L705.1 1728.7 L706.3 1727.9 L707.4 1727.5 L708.6 1727.5 L709.6 1729.6 L710.7 1731.5 L712.0 1733.6 L712.9 1731.9 L714.0 1732.6 L715.1 1731.7 L715.5 1732.5 L716.2 1730.7 L717.3 1731.3 L718.4 1729.8 L719.5 1729.0 L720.6 1728.7 L721.7 1729.5 L722.8 1731.1 L723.9 1731.1 L724.8 1733.5 L726.1 1735.3 L727.2 1736.4 L728.3 1736.7 L729.4 1739.2 L730.5 1738.9 L731.6 1737.8 L732.7 1737.3 L734.1 1735.6 L734.9 1736.8 L736.0 1738.4 L737.1 1738.7 L737.5 1739.2 L738.2 1738.6 L739.3 1736.4 L740.4 1737.6 L741.5 1735.9 L742.6 1734.2 L743.7 1733.8 L744.8 1731.9 L745.7 1730.0 L747.0 1732.9 L748.1 1733.0 L749.2 1733.9 L750.3 1736.0 L751.4 1734.4 L752.5 1732.5 L753.8 1732.2 L754.7 1732.1 L755.8 1734.1 L756.9 1733.2 L758.0 1734.1 L758.4 1734.6 L759.1 1734.6 L760.2 1734.6 L761.3 1733.7 L762.4 1734.7 L763.0 1733.6 L763.5 1734.9 L764.6 1737.3 L765.7 1739.9 L766.5 1742.9 L767.9 1743.2 L769.0 1743.8 L770.1 1745.5 L771.2 1746.1 L772.3 1746.2 L773.4 1745.8 L774.5 1745.8 L775.8 1745.2 L776.7 1747.0 L777.8 1748.1 L778.9 1750.0 L780.0 1752.3 L780.4 1752.1 L781.1 1751.4 L782.2 1748.3 L783.3 1747.8 L784.4 1745.2 L785.1 1745.1 L785.5 1746.4 L786.6 1748.6 L787.7 1750.4 L788.8 1752.8 L789.7 1754.2 L791.0 1752.8 L792.1 1752.1 L793.2 1751.9 L794.3 1752.0 L795.4 1754.8 L796.5 1756.3 L797.6 1758.9 L798.7 1760.1 L799.8 1764.0 L800.1 1763.8 L800.9 1762.6 L802.0 1759.9 L803.1 1759.3 L803.6 1757.7 L804.2 1758.0 L805.3 1760.4 L806.4 1763.5 L807.5 1764.0 L808.3 1765.8 L809.7 1762.8 L810.8 1760.9 L811.7 1760.1 L813.0 1760.2 L814.1 1760.5 L815.2 1759.3 L816.4 1760.1 L817.4 1762.5 L818.5 1765.5 L819.9 1768.1 L820.7 1769.5 L821.8 1772.0 L822.9 1774.0 L823.3 1775.1 L824.0 1773.7 L825.1 1771.5 L826.2 1770.3 L827.3 1768.2 L828.4 1766.5 L829.1 1764.8 L830.6 1767.6 L831.7 1770.7 L832.8 1773.8 L833.9 1775.3 L834.9 1778.8 L836.1 1775.6 L837.2 1772.8 L838.3 1771.9 L839.6 1768.4 L840.5 1769.7 L841.6 1772.0 L842.7 1772.7 L843.8 1774.7 L844.2 1776.5 L844.9 1777.3 L846.0 1776.4 L847.1 1776.6 L848.2 1776.7 L848.8 1776.5 L849.3 1776.6 L850.4 1779.1 L851.5 1780.4 L852.6 1780.8 L853.5 1780.9 L854.8 1780.9 L855.9 1781.5 L857.0 1782.5 L858.1 1783.5 L859.2 1779.6 L860.3 1776.3 L861.4 1773.8 L862.1 1771.6 L862.5 1772.3 L863.6 1775.8 L864.7 1779.9 L865.8 1783.5 L866.2 1783.1 L866.9 1784.9 L868.0 1786.1 L869.1 1784.9 L870.2 1786.4 L871.3 1788.5 L872.0 1789.3 L873.5 1786.8 L874.6 1786.0 L875.7 1784.5 L876.8 1783.6 L877.8 1783.2 L879.0 1782.9 L880.1 1781.6 L881.2 1782.6 L882.3 1782.4 L883.6 1782.0 L884.5 1782.1 L885.6 1783.2 L886.7 1786.6 L887.8 1788.7 L888.3 1788.1 L888.9 1787.1 L890.0 1785.3 L891.1 1784.6 L891.7 1783.2 L892.2 1784.0 L893.3 1786.1 L894.4 1786.6 L895.5 1787.1 L896.4 1789.2 L897.7 1790.7 L898.8 1790.3 L899.9 1793.8 L901.0 1793.7 L902.1 1792.8 L903.2 1793.1 L904.3 1794.0 L905.4 1793.8 L906.5 1792.6 L907.6 1791.8 L908.0 1792.7 L908.7 1792.3 L909.8 1794.7 L910.9 1795.2 L912.0 1798.9 L912.6 1798.4 L913.1 1799.0 L914.2 1799.2 L915.3 1800.1 L916.4 1801.1 L917.7 1802.9 L918.6 1800.5 L919.7 1798.3 L920.8 1795.7 L921.9 1794.1 L923.0 1790.5 L924.1 1790.2 L925.2 1792.0 L926.3 1793.1 L927.4 1793.6 L928.5 1794.5 L929.3 1794.9 L930.0 1794.5 L930.7 1795.0 L931.8 1793.3 L932.9 1791.2 L934.0 1790.6 L935.1 1790.3 L935.8 1789.8 L936.2 1789.9 L937.3 1791.4 L938.4 1789.1 L939.5 1789.5 L940.4 1790.2 L941.7 1790.7 L942.8 1792.1 L943.9 1789.6 L945.1 1790.8 L946.1 1792.3 L947.2 1792.6 L948.3 1794.8 L949.0 1795.7 L949.4 1796.3 L950.5 1792.6 L951.6 1791.8 L952.7 1789.7 L953.2 1790.0 L953.8 1790.6 L954.9 1791.5 L956.0 1793.4 L957.1 1789.3 L958.3 1787.6 L959.3 1784.9 L960.6 1781.9 L961.5 1783.1 L962.6 1786.8 L963.6 1788.5 L964.8 1794.4 L965.2 1794.9 L965.9 1793.0 L967.0 1788.8 L967.6 1787.4 L968.1 1786.4 L969.2 1787.1 L970.3 1785.3 L971.4 1783.8 L971.7 1784.2 L972.5 1784.5 L973.6 1782.7 L974.7 1782.9 L975.9 1781.7 L976.9 1781.2 L978.0 1778.1 L978.7 1778.3 L979.1 1779.4 L980.2 1778.0 L981.3 1779.9 L982.2 1780.8 L983.5 1777.3 L984.6 1776.7 L985.7 1774.8 L986.8 1775.7 L987.9 1778.6 L989.0 1778.1 L989.8 1780.2 L991.2 1778.3 L992.6 1777.1 L993.4 1775.5 L994.5 1776.2 L995.6 1774.5 L996.1 1773.6 L996.7 1775.1 L997.8 1775.7 L998.9 1775.0 L999.6 1776.0 L1000.0 1776.4 L1001.1 1775.4 L1002.2 1774.9 L1003.3 1775.8 L1003.7 1774.9 L1004.4 1773.8 L1005.5 1770.7 L1006.5 1768.0 L1007.7 1767.2 L1008.8 1764.7 L1010.0 1761.9 L1011.0 1762.3 L1012.1 1761.5 L1013.5 1760.8 L1014.3 1763.5 L1015.4 1766.8 L1016.3 1769.0 L1017.6 1774.0 L1018.1 1774.7 L1018.7 1772.2 L1019.8 1768.9 L1020.9 1765.3 L1021.6 1764.2 L1022.0 1763.3 L1023.1 1763.7 L1023.9 1761.4 L1025.3 1761.6 L1026.4 1762.2 L1027.4 1762.2 L1028.6 1764.9 L1029.7 1767.2 L1030.9 1771.4 L1031.9 1770.6 L1033.0 1770.1 L1034.1 1768.8 L1034.8 1768.9 L1035.2 1769.4 L1036.3 1771.3 L1037.4 1772.8 L1038.5 1773.1 L1039.0 1773.5 L1039.6 1773.5 L1040.7 1772.5 L1041.8 1770.1 L1042.9 1771.9 L1044.0 1774.1 L1045.1 1777.9 L1045.9 1779.5 L1047.3 1778.5 L1048.7 1775.8 L1049.5 1776.4 L1050.6 1776.9 L1051.7 1779.6 L1052.8 1783.3 L1054.1 1786.5 L1055.0 1783.9 L1056.1 1779.4 L1057.1 1776.9 L1058.3 1778.3 L1059.4 1780.2 L1060.5 1781.6 L1061.0 1781.8 L1061.6 1782.8 L1062.7 1784.0 L1063.8 1785.1 L1065.0 1785.3 L1066.0 1786.5 L1067.1 1789.4 L1068.0 1790.0 L1069.3 1792.1 L1070.4 1792.3 L1071.4 1794.1 L1072.6 1794.2 L1073.7 1792.3 L1074.9 1792.7 L1075.9 1791.5 L1077.0 1791.5 L1078.1 1792.3 L1078.9 1791.9 L1080.3 1794.5 L1081.4 1794.5 L1081.9 1796.4 L1082.5 1794.6 L1083.6 1794.8 L1084.7 1794.0 L1085.8 1792.6 L1086.5 1790.9 L1086.9 1792.0 L1088.0 1793.8 L1089.1 1793.9 L1090.0 1795.5 L1091.3 1792.8 L1092.4 1790.9 L1093.5 1787.4 L1094.2 1786.5 L1094.6 1787.6 L1095.7 1789.5 L1096.8 1791.3 L1098.1 1791.9 L1099.0 1792.7 L1100.1 1794.1 L1101.2 1795.7 L1102.3 1795.2 L1102.8 1796.2 L1103.4 1796.0 L1104.5 1794.0 L1105.6 1790.6 L1106.7 1789.0 L1107.4 1786.9 L1107.8 1788.4 L1108.9 1787.9 L1110.0 1789.0 L1111.1 1791.9 L1112.0 1791.7 L1113.3 1791.4 L1114.4 1790.2 L1115.5 1791.0 L1116.7 1789.4 L1117.7 1791.8 L1118.8 1793.0 L1120.1 1793.4 L1121.0 1791.8 L1122.1 1789.8 L1123.2 1786.9 L1124.3 1786.6 L1125.4 1785.6 L1125.9 1783.5 L1126.5 1783.5 L1127.6 1786.6 L1128.7 1790.0 L1129.4 1793.1 L1129.8 1792.4 L1130.9 1790.5 L1132.0 1785.5 L1132.9 1783.5 L1134.2 1783.9 L1135.3 1786.0 L1136.4 1786.5 L1137.5 1787.5 L1138.6 1789.8 L1139.9 1791.1 L1140.8 1790.4 L1141.9 1788.6 L1143.0 1785.5 L1143.3 1786.6 L1144.1 1784.9 L1145.2 1783.1 L1145.7 1783.0 L1146.3 1779.1 L1147.4 1775.1 L1148.4 1771.8 L1149.6 1773.4 L1150.7 1775.5 L1151.8 1777.1 L1152.1 1777.8 L1152.9 1777.6 L1154.0 1779.3 L1155.1 1779.0 L1156.1 1780.2 L1157.3 1777.3 L1158.4 1776.7 L1159.1 1774.9 L1159.5 1774.4 L1160.6 1770.8 L1161.9 1765.0 L1162.8 1767.5 L1163.9 1771.4 L1164.7 1773.5 L1166.1 1779.9 L1167.2 1783.8 L1167.7 1784.9 L1168.3 1782.5 L1169.4 1780.7 L1170.7 1777.0 L1171.6 1774.7 L1172.7 1773.9 L1173.8 1770.9 L1174.6 1769.5 L1176.0 1770.4 L1177.1 1771.2 L1178.1 1773.0 L1179.3 1771.1 L1180.4 1770.1 L1180.9 1771.0 L1181.5 1771.9 L1182.6 1775.4 L1183.7 1777.2 L1185.1 1779.3 L1185.9 1777.8 L1187.0 1777.3 L1188.1 1777.1 L1188.6 1777.1 L1189.2 1776.9 L1190.3 1772.8 L1191.4 1773.0 L1192.0 1771.0 L1192.5 1772.1 L1193.6 1771.1 L1194.7 1773.2 L1195.8 1775.3 L1196.2 1774.7 L1196.9 1774.6 L1198.0 1777.8 L1199.1 1777.8 L1199.4 1779.6 L1200.2 1778.4 L1201.3 1777.6 L1202.4 1778.0 L1203.2 1777.1 L1204.6 1779.9 L1205.7 1782.1 L1207.1 1784.1 L1207.9 1783.2 L1209.0 1780.4 L1210.1 1778.1 L1211.2 1781.0 L1212.3 1783.5 L1213.4 1786.0 L1214.8 1789.8 L1215.6 1789.3 L1216.7 1789.2 L1217.8 1788.1 L1218.7 1787.8 L1220.0 1787.2 L1221.1 1785.9 L1222.2 1785.5 L1222.6 1784.2 L1223.3 1786.4 L1224.4 1786.6 L1225.5 1789.7 L1226.8 1793.2 L1227.7 1791.8 L1228.8 1791.8 L1229.9 1792.6 L1231.0 1791.7 L1231.4 1792.7 L1232.1 1791.6 L1233.2 1792.1 L1234.3 1790.5 L1235.4 1791.8 L1236.1 1790.3 L1236.5 1792.1 L1237.6 1792.9 L1238.7 1794.0 L1239.6 1795.6 L1240.9 1796.1 L1242.0 1793.5 L1242.6 1794.7 L1243.1 1796.4 L1244.2 1795.7 L1245.3 1798.4 L1246.5 1799.2 L1247.5 1798.8 L1248.6 1795.8 L1250.0 1795.0 L1250.8 1794.7 L1251.9 1798.5 L1253.0 1799.3 L1253.5 1799.2 L1254.1 1799.9 L1255.2 1799.7 L1256.3 1796.9 L1257.0 1797.8 L1257.4 1799.3 L1258.5 1800.1 L1259.6 1802.6 L1260.4 1804.8 L1261.8 1803.2 L1262.9 1800.3 L1263.9 1799.1 L1265.1 1798.9 L1266.2 1798.4 L1267.4 1797.2 L1268.4 1799.8 L1269.5 1800.9 L1270.4 1803.2 L1271.7 1800.8 L1272.8 1797.9 L1273.7 1796.9 L1275.0 1800.6 L1276.1 1804.5 L1277.2 1807.4 L1277.8 1809.4 L1278.3 1808.3 L1279.4 1808.6 L1280.5 1805.3 L1281.6 1804.6 L1282.5 1803.4 L1283.8 1804.0 L1284.9 1806.1 L1286.0 1806.4 L1287.1 1806.4 L1288.2 1806.0 L1289.3 1809.1 L1290.4 1809.8 L1291.3 1808.8 L1292.6 1807.9 L1293.7 1804.5 L1294.8 1804.3 L1295.2 1803.9 L1295.9 1804.0 L1297.0 1803.6 L1298.1 1805.0 L1299.2 1804.9 L1300.3 1805.0 L1301.4 1801.7 L1302.5 1803.6 L1303.3 1801.7 L1304.7 1803.3 L1305.8 1804.3 L1306.9 1805.7 L1307.5 1805.4 L1308.0 1806.1 L1309.1 1806.5 L1310.2 1806.5 L1311.4 1807.8 L1312.4 1807.4 L1313.5 1808.6 L1314.6 1807.2 L1315.4 1807.4 L1316.8 1809.4 L1317.9 1810.8 L1319.0 1814.6 L1319.6 1814.4 L1320.1 1814.1 L1321.2 1816.0 L1322.3 1815.2 L1323.0 1815.3 L1324.5 1812.9 L1325.6 1810.9 L1326.1 1809.5 L1326.7 1809.2 L1327.8 1808.7 L1328.9 1809.3 L1329.3 1808.3 L1330.0 1808.0 L1331.1 1806.5 L1332.2 1806.2 L1333.3 1807.5 L1334.6 1807.4 L1335.5 1809.4 L1336.6 1810.5 L1337.7 1812.9 L1338.8 1814.7 L1339.3 1814.9 L1339.9 1813.5 L1341.0 1814.8 L1342.1 1812.2 L1343.2 1813.8 L1343.9 1812.8 L1344.3 1811.9 L1345.4 1811.1 L1346.5 1812.3 L1347.6 1811.4 L1348.1 1810.3 L1348.7 1809.8 L1349.8 1808.1 L1350.9 1807.8 L1352.0 1808.7 L1353.1 1808.4 L1354.3 1810.2 L1355.3 1810.9 L1356.4 1814.3 L1357.5 1815.0 L1357.8 1814.7 L1358.6 1815.4 L1359.7 1813.4 L1360.8 1814.3 L1361.9 1811.6 L1362.5 1812.5 L1363.0 1812.1 L1364.1 1812.3 L1365.2 1810.0 L1365.9 1810.4 L1367.4 1811.3 L1368.5 1814.1 L1369.4 1813.7 L1370.7 1813.7 L1371.8 1813.8 L1372.9 1813.5 L1374.0 1814.4 L1375.1 1815.3 L1375.9 1816.1 L1377.5 1820.7 L1378.4 1818.7 L1379.5 1818.4 L1380.6 1815.5 L1381.0 1815.7 L1381.7 1815.2 L1382.8 1813.7 L1383.9 1812.9 L1384.5 1812.8 L1385.0 1814.3 L1386.1 1812.6 L1387.2 1814.4 L1388.0 1815.8 L1389.4 1815.8 L1390.8 1813.6 L1391.6 1814.4 L1392.7 1818.3 L1393.8 1820.1 L1394.5 1820.1 L1394.9 1820.5 L1396.0 1817.6 L1397.1 1817.0 L1398.4 1814.7 L1399.3 1815.3 L1400.4 1814.5 L1401.5 1816.0 L1402.3 1815.0 L1403.7 1814.3 L1404.8 1812.2 L1405.4 1810.4 L1405.9 1810.4 L1407.0 1813.2 L1408.4 1813.4 L1409.2 1811.7 L1410.3 1812.4 L1411.6 1810.1 L1412.5 1812.5 L1413.6 1813.5 L1414.6 1814.0 L1415.8 1815.6 L1417.0 1817.3 L1418.0 1815.1 L1419.1 1814.9 L1420.0 1813.6 L1421.3 1814.4 L1422.4 1815.2 L1423.5 1815.7 L1423.9 1816.0 L1424.6 1815.5 L1425.7 1815.5 L1426.8 1815.7 L1427.9 1816.1 L1428.6 1815.0 L1429.0 1816.6 L1430.1 1815.7 L1431.2 1817.9 L1431.6 1818.6 L1432.3 1816.9 L1433.4 1814.1 L1434.3 1813.9 L1435.6 1813.7 L1436.7 1816.4 L1437.8 1815.6 L1438.9 1817.5 L1440.0 1817.6 L1441.1 1820.3 L1441.8 1819.4 L1442.2 1819.7 L1443.3 1820.9 L1444.4 1820.1 L1445.5 1819.7 L1445.9 1820.9 L1446.6 1818.8 L1447.7 1819.9 L1448.8 1818.0 L1449.4 1816.5 L1449.9 1817.3 L1451.0 1817.1 L1452.1 1816.6 L1452.9 1818.6 L1454.3 1815.5 L1455.4 1814.3 L1456.5 1813.7 L1457.1 1813.7 L1457.6 1813.3 L1458.7 1813.1 L1459.8 1812.1 L1460.3 1812.4 L1460.9 1811.8 L1462.0 1813.8 L1463.1 1815.3 L1464.5 1815.8 L1465.3 1817.8 L1466.4 1818.9 L1467.5 1819.8 L1468.7 1821.2 L1469.7 1821.3 L1470.8 1820.3 L1471.9 1817.9 L1473.0 1817.2 L1474.1 1815.4 L1474.9 1814.9 L1476.3 1815.5 L1477.4 1817.0 L1478.4 1818.0 L1479.6 1817.5 L1480.7 1818.3 L1481.9 1816.4 L1482.9 1817.3 L1484.0 1819.7 L1485.4 1819.7 L1486.2 1818.8 L1487.3 1818.8 L1488.4 1817.0 L1489.5 1816.5 L1490.6 1815.5 L1491.7 1818.0 L1492.8 1817.2 L1493.5 1817.1 L1493.9 1816.8 L1495.0 1813.8 L1496.1 1813.2 L1497.0 1810.1 L1498.3 1809.8 L1499.4 1809.3 L1500.4 1809.4 L1501.6 1811.6 L1502.8 1816.3 L1503.8 1818.1 L1504.4 1821.0 L1504.9 1819.6 L1506.0 1820.1 L1507.1 1818.5 L1508.1 1817.4 L1509.3 1818.8 L1510.4 1818.5 L1511.5 1817.8 L1512.0 1818.8 L1512.6 1817.5 L1513.7 1816.2 L1514.8 1815.2 L1515.5 1814.0 L1515.9 1813.9 L1517.0 1812.1 L1518.3 1813.4 L1519.2 1815.3 L1520.3 1815.5 L1521.3 1817.3 L1522.5 1817.2 L1523.6 1815.5 L1524.8 1814.9 L1525.8 1815.9 L1526.9 1814.5 L1528.3 1815.5 L1529.1 1814.1 L1530.2 1815.8 L1531.3 1814.4 L1531.7 1814.0 L1532.4 1814.7 L1533.5 1813.4 L1534.6 1814.3 L1535.9 1815.0 L1536.8 1817.9 L1537.5 1819.5 L1539.0 1821.1 L1540.1 1822.9 L1540.6 1822.0 L1541.2 1821.2 L1542.3 1820.1 L1543.4 1818.1 L1544.5 1816.2 L1545.6 1815.6 L1546.7 1817.4 L1548.0 1818.4 L1548.9 1817.3 L1550.0 1816.7 L1551.1 1817.1 L1551.4 1815.8 L1552.2 1815.3 L1553.3 1815.8 L1554.4 1816.9 L1555.4 1816.6 L1556.6 1816.1 L1557.7 1814.2 L1558.8 1814.3 L1559.6 1815.1 L1561.0 1814.9 L1562.1 1814.3 L1563.0 1812.5 L1564.3 1808.7 L1564.7 1808.6 L1565.4 1809.9 L1566.5 1814.8 L1567.7 1816.6 L1568.7 1816.2 L1569.8 1813.3 L1571.2 1813.1 L1572.0 1814.1 L1573.1 1811.7 L1574.2 1809.4 L1574.6 1810.1 L1575.3 1810.2 L1576.4 1812.3 L1577.5 1813.2 L1578.6 1813.5 L1579.7 1813.6 L1580.8 1817.0 L1581.6 1816.4 L1583.0 1814.8 L1584.1 1814.7 L1585.1 1814.0 L1586.3 1812.5 L1587.4 1811.8 L1588.5 1810.4 L1589.2 1809.7 L1590.7 1809.7 L1591.8 1810.8 L1593.2 1812.7 L1594.0 1811.9 L1595.1 1813.1 L1596.2 1815.4 L1596.7 1815.1 L1597.3 1815.3 L1598.4 1814.0 L1599.5 1812.2 L1600.1 1811.1 L1600.6 1809.8 L1601.7 1811.0 L1602.8 1809.8 L1603.2 1808.5 L1603.9 1808.8 L1605.0 1811.5 L1605.9 1811.1 L1607.2 1810.2 L1608.3 1807.2 L1609.4 1806.2 L1610.5 1807.8 L1611.6 1806.8 L1612.7 1807.2 L1613.4 1807.5 L1613.8 1808.4 L1614.9 1808.2 L1616.0 1807.4 L1616.4 1807.9 L1617.1 1807.2 L1618.2 1805.8 L1619.4 1805.8 L1620.4 1806.7 L1621.7 1810.5 L1622.6 1812.2 L1623.7 1811.1 L1624.5 1812.6 L1625.9 1810.8 L1627.0 1805.9 L1628.0 1804.9 L1629.2 1805.7 L1630.3 1807.8 L1631.4 1809.3 L1632.5 1811.7 L1633.6 1812.9 L1634.2 1814.0 L1634.7 1813.6 L1635.8 1810.7 L1636.9 1811.4 L1637.2 1810.4 L1638.0 1810.3 L1639.1 1809.0 L1640.3 1807.8 L1641.3 1807.7 L1642.4 1809.7 L1643.5 1808.8 L1644.6 1807.1 L1645.7 1807.8 L1646.8 1805.4 L1648.1 1804.7 L1649.0 1804.8 L1650.1 1808.4 L1651.2 1810.2 L1652.3 1811.7 L1653.5 1813.6 L1654.5 1814.7 L1655.6 1817.0 L1656.5 1817.1 L1657.8 1816.4 L1658.9 1814.8 L1659.3 1813.7 L1660.0 1815.2 L1661.1 1815.7 L1662.2 1814.4 L1662.8 1815.1 L1663.3 1816.6 L1664.4 1815.8 L1665.8 1816.4 L1666.6 1815.6 L1667.7 1812.8 L1668.6 1812.7 L1669.9 1813.5 L1671.0 1815.2 L1672.0 1815.8 L1673.2 1815.7 L1674.3 1812.3 L1675.5 1812.5 L1676.5 1813.2 L1677.6 1814.1 L1679.0 1814.8 L1679.8 1814.4 L1680.9 1815.7 L1682.0 1815.0 L1682.5 1816.7 L1683.1 1815.7 L1684.2 1816.1 L1685.3 1815.1 L1686.4 1814.7 L1687.1 1813.6 L1687.5 1815.1 L1688.6 1813.8 L1689.7 1816.9 L1690.6 1817.4 L1691.9 1818.2 L1693.0 1818.9 L1693.6 1820.8 L1694.1 1820.1 L1695.2 1817.6 L1696.3 1816.7 L1696.8 1815.8 L1697.4 1814.4 L1698.5 1816.0 L1699.6 1817.2 L1701.0 1816.6 L1701.8 1817.5 L1702.9 1815.8 L1704.0 1818.7 L1704.5 1817.9 L1705.1 1818.5 L1706.2 1817.3 L1707.3 1818.0 L1708.0 1816.6 L1708.4 1817.4 L1709.5 1816.1 L1710.6 1819.2 L1711.7 1819.8 L1712.1 1818.7 L1712.8 1820.8 L1713.9 1822.0 L1714.9 1822.0 L1716.1 1820.6 L1717.2 1821.2 L1718.3 1820.9 L1719.6 1819.4 L1720.5 1820.5 L1721.6 1820.1 L1722.7 1821.5 L1723.8 1820.6 L1724.2 1820.6 L1724.9 1822.1 L1726.0 1821.8 L1727.1 1820.4 L1728.2 1822.1 L1729.3 1822.1 L1730.4 1821.7 L1731.5 1823.1 L1732.6 1823.6 L1733.7 1823.5 L1734.8 1824.0 L1735.9 1824.3 L1736.8 1824.5 L1738.1 1823.0 L1739.2 1824.1 L1740.3 1823.9 L1741.5 1821.8 L1742.5 1821.7 L1743.6 1821.9 L1744.7 1824.5 L1746.1 1824.0 L1746.9 1824.7 L1748.0 1823.1 L1749.1 1823.5 L1750.2 1822.1 L1750.8 1822.9 L1751.3 1822.1 L1752.4 1823.0 L1753.5 1823.8 L1754.7 1824.9 L1755.7 1826.3 L1756.8 1826.2 L1757.9 1825.1 L1758.9 1825.9 L1760.1 1823.4 L1761.2 1821.9 L1762.3 1821.7 L1763.1 1821.2 L1764.5 1823.1 L1765.6 1823.0 L1767.0 1825.0 L1767.8 1825.4 L1768.9 1821.8 L1770.0 1823.4 L1771.1 1821.0 L1771.6 1820.5 L1772.2 1821.3 L1773.3 1820.4 L1774.4 1821.3 L1775.6 1822.5 L1776.6 1822.7 L1777.7 1826.7 L1778.8 1826.5 L1779.3 1827.2 L1779.9 1826.6 L1781.0 1825.1 L1782.1 1826.4 L1783.2 1825.2 L1784.3 1824.2 L1785.4 1826.7 L1786.5 1825.8 L1787.2 1827.0 L1787.6 1826.7 L1788.7 1824.8 L1789.8 1823.4 L1790.9 1822.7 L1791.4 1822.1 L1792.0 1822.1 L1793.1 1826.5 L1794.2 1827.3 L1794.8 1828.1 L1795.3 1829.3 L1796.4 1830.5 L1797.2 1830.9 L1798.6 1830.2 L1799.7 1827.6 L1801.1 1826.7 L1801.9 1826.3 L1803.0 1826.4 L1804.1 1826.3 L1805.3 1825.0 L1806.3 1825.2 L1807.4 1826.2 L1808.8 1825.9 L1809.6 1825.6 L1810.7 1825.5 L1811.8 1824.3 L1812.9 1824.4 L1813.4 1824.0 L1814.0 1822.6 L1815.1 1824.5 L1816.2 1824.5 L1816.9 1822.7 L1817.3 1822.3 L1818.4 1823.2 L1819.5 1825.9 L1820.4 1825.8 L1821.7 1824.8 L1822.8 1825.9 L1823.9 1826.2 L1825.0 1827.0 L1826.1 1824.7 L1827.2 1826.4 L1828.5 1824.9" fill="none" stroke="#FF9900" stroke-width="3.5" stroke-linejoin="round" stroke-linecap="round"/>
<path d="M186.8 1270.4 L187.4 1260.6 L188.0 1249.6 L188.5 1241.2 L189.1 1229.9 L189.6 1235.5 L191.0 1254.2 L191.8 1234.8 L192.6 1213.6 L194.0 1217.8 L194.5 1219.4 L195.1 1203.9 L195.6 1189.3 L196.2 1187.8 L197.2 1184.6 L198.4 1168.4 L199.1 1157.7 L199.5 1152.0 L200.7 1132.2 L201.9 1117.1 L202.8 1125.9 L203.7 1135.7 L205.0 1133.1 L206.1 1130.8 L206.5 1129.9 L207.2 1127.6 L208.3 1123.6 L208.8 1121.7 L209.4 1132.9 L210.7 1162.2 L211.6 1155.6 L212.7 1145.8 L213.0 1143.8 L213.8 1129.6 L214.6 1113.6 L216.0 1097.8 L217.1 1115.3 L217.7 1125.2 L218.2 1126.8 L219.3 1130.6 L220.4 1134.5 L221.5 1133.3 L222.3 1132.2 L223.9 1146.1 L225.1 1162.3 L225.9 1164.6 L227.0 1168.0 L227.4 1169.3 L228.1 1173.2 L229.2 1180.0 L230.3 1184.2 L231.4 1188.8 L232.0 1191.6 L232.5 1194.1 L233.6 1200.6 L234.8 1207.8 L235.8 1198.3 L236.7 1189.3 L238.0 1202.2 L239.0 1212.5 L240.2 1221.3 L240.8 1226.4 L241.3 1234.8 L242.0 1249.6 L242.4 1258.6 L242.9 1272.8 L243.5 1278.1 L244.8 1291.3 L245.7 1286.3 L246.4 1282.0 L246.8 1286.8 L247.8 1300.6 L249.0 1307.6 L250.1 1314.5 L251.2 1323.5 L251.7 1328.4 L252.3 1324.2 L252.9 1319.1 L253.4 1326.6 L254.1 1337.7 L254.5 1341.7 L255.7 1353.9 L256.7 1349.4 L257.8 1344.3 L258.7 1340.0 L260.0 1352.6 L260.3 1356.2 L261.1 1362.7 L262.2 1372.5 L263.3 1381.9 L264.0 1388.7 L265.7 1406.1 L266.6 1402.5 L268.0 1396.8 L268.8 1398.0 L269.9 1399.7 L270.3 1400.3 L271.0 1407.9 L271.9 1418.8 L273.3 1435.1 L274.3 1444.7 L274.9 1451.3 L275.4 1454.8 L276.5 1463.6 L277.2 1469.9 L278.9 1486.1 L279.8 1492.8 L280.7 1500.0 L282.0 1505.2 L283.1 1509.7 L283.5 1511.6 L284.2 1510.1 L285.3 1507.7 L286.4 1505.3 L287.7 1502.3 L288.6 1508.9 L289.5 1516.2 L290.8 1525.0 L291.2 1527.8 L291.9 1533.4 L292.8 1540.6 L294.1 1535.8 L294.6 1533.6 L295.2 1539.5 L295.8 1546.4 L296.3 1550.4 L297.4 1560.3 L298.5 1570.7 L299.3 1578.8 L300.7 1581.4 L301.1 1582.3 L301.8 1578.2 L302.9 1571.1 L303.4 1567.2 L304.0 1572.4 L305.1 1583.5 L306.2 1590.1 L307.4 1597.4 L308.4 1601.8 L309.5 1607.0 L310.4 1611.3 L311.7 1618.7 L312.8 1625.0 L313.2 1627.5 L313.9 1629.6 L314.3 1631.0 L315.0 1629.8 L316.1 1627.5 L316.7 1626.4 L317.2 1630.9 L318.3 1641.5 L319.4 1650.9 L320.1 1657.7 L321.6 1661.3 L322.5 1663.5 L323.8 1645.7 L324.3 1638.0 L324.9 1641.6 L326.0 1648.6 L326.6 1653.0 L327.1 1656.8 L328.3 1667.0 L329.3 1672.6 L330.6 1680.0 L331.5 1686.2 L332.6 1693.9 L333.7 1701.7 L334.1 1704.4 L334.8 1701.3 L335.9 1696.7 L337.0 1692.1 L338.1 1687.3 L338.7 1684.6 L339.2 1688.3 L340.3 1697.3 L341.0 1703.2 L342.5 1715.0 L343.3 1721.8 L344.7 1724.8 L345.8 1728.1 L346.9 1730.6 L347.5 1732.2 L348.0 1731.0 L349.1 1728.2 L350.2 1725.5 L351.3 1722.8 L352.4 1720.0 L353.1 1718.2 L353.5 1719.9 L354.6 1726.1 L355.7 1731.1 L356.1 1733.4 L356.8 1739.6 L357.9 1751.5 L358.4 1756.4 L359.0 1761.4 L360.1 1770.1 L360.7 1775.1 L361.2 1772.0 L362.3 1764.4 L363.4 1756.3 L364.7 1747.2 L365.6 1746.6 L366.7 1745.9 L367.8 1745.3 L368.4 1744.9 L368.9 1747.9 L370.0 1755.6 L371.2 1763.5 L372.2 1768.8 L373.5 1775.1 L374.4 1774.7 L375.5 1774.1 L376.3 1773.9 L377.7 1790.1 L378.6 1800.6 L379.9 1799.1 L381.0 1797.9 L382.1 1796.9 L383.2 1795.5 L383.9 1794.8 L385.4 1794.8 L386.5 1794.7 L387.6 1794.9 L388.6 1794.8 L389.8 1802.9 L390.9 1810.0 L391.6 1814.5 L392.0 1818.6 L393.2 1830.7 L394.2 1837.5 L395.5 1847.0 L396.4 1844.6 L397.5 1841.6 L398.6 1838.6 L399.0 1837.7 L399.7 1834.4 L400.8 1828.1 L401.3 1826.2 L401.9 1829.7 L403.0 1835.1 L403.6 1837.8 L404.1 1839.9 L405.2 1847.5 L405.9 1852.7 L407.4 1843.4 L408.5 1835.2 L409.6 1829.1 L410.7 1822.1 L411.0 1819.1 L411.8 1822.9 L412.9 1830.6 L414.1 1837.7 L415.1 1843.9 L416.2 1850.0 L417.5 1856.4 L418.4 1853.6 L419.5 1849.7 L420.6 1845.5 L421.7 1841.2 L422.8 1847.9 L424.0 1856.2 L425.0 1855.8 L426.1 1854.8 L427.2 1854.1 L428.0 1853.9 L429.4 1860.3 L430.5 1865.9 L431.4 1870.2 L432.7 1873.4 L433.8 1876.5 L434.9 1879.4 L436.0 1884.6 L437.1 1889.5 L437.9 1893.4 L439.3 1887.8 L440.4 1886.1 L441.5 1880.1 L441.9 1879.4 L442.6 1881.2 L443.7 1882.3 L444.9 1886.4 L445.9 1882.3 L447.0 1877.1 L448.1 1871.5 L449.2 1868.6 L450.3 1867.5 L451.2 1864.4 L452.5 1865.2 L453.6 1863.2 L454.2 1864.3 L454.7 1868.3 L455.8 1881.8 L457.0 1893.5 L458.0 1891.2 L459.1 1890.4 L460.2 1889.0 L461.3 1887.8 L462.1 1886.4 L463.5 1886.4 L464.6 1887.7 L465.7 1886.5 L466.2 1887.6 L466.8 1886.8 L467.9 1881.2 L469.0 1877.1 L470.1 1880.8 L471.2 1886.4 L472.3 1889.7 L472.7 1892.2 L473.4 1890.8 L474.5 1889.7 L475.6 1888.9 L476.7 1887.1 L477.4 1886.3 L477.8 1887.5 L478.9 1891.8 L480.1 1895.6 L481.1 1889.6 L482.2 1880.2 L483.3 1874.0 L483.6 1870.0 L484.4 1864.7 L485.5 1854.8 L486.6 1847.5 L487.1 1842.2 L487.7 1844.8 L488.8 1845.8 L489.9 1849.0 L490.6 1851.5 L491.0 1857.6 L492.1 1870.8 L492.9 1881.8 L494.3 1891.9 L495.2 1899.1 L496.5 1895.0 L497.6 1891.6 L498.7 1888.0 L499.2 1886.4 L499.8 1889.1 L500.9 1893.6 L502.0 1898.5 L502.9 1902.6 L504.2 1903.3 L505.3 1903.8 L506.4 1905.0 L507.5 1905.2 L508.0 1905.0 L508.6 1903.2 L509.7 1900.2 L510.8 1897.5 L511.4 1896.9 L511.9 1898.4 L513.0 1903.4 L514.1 1906.7 L515.4 1911.9 L516.3 1908.0 L517.4 1904.7 L518.5 1902.4 L519.6 1899.1 L520.7 1902.5 L521.8 1904.5 L522.9 1908.8 L524.0 1909.8 L525.4 1914.3 L526.2 1910.5 L527.3 1906.3 L528.4 1902.0 L529.3 1899.2 L530.0 1904.9 L530.6 1907.3 L531.7 1909.7 L532.8 1911.0 L533.9 1904.7 L535.0 1900.1 L536.1 1895.7 L536.5 1893.6 L537.2 1893.1 L538.3 1892.5 L539.4 1891.8 L540.4 1891.3 L541.6 1892.7 L542.7 1893.6 L543.9 1895.8 L544.9 1901.1 L546.2 1907.5 L547.1 1908.0 L548.2 1906.7 L549.3 1907.0 L549.7 1906.2 L550.4 1904.7 L551.5 1901.4 L552.6 1899.6 L553.2 1897.0 L553.7 1896.1 L554.8 1890.3 L555.9 1885.2 L556.7 1881.9 L558.1 1880.0 L559.2 1877.0 L560.3 1876.2 L560.8 1875.0 L561.4 1875.8 L562.5 1880.6 L563.6 1884.1 L564.8 1888.9 L565.8 1888.7 L566.9 1891.1 L568.0 1890.2 L569.0 1891.2 L570.2 1893.6 L571.3 1897.1 L572.4 1898.4 L572.9 1900.4 L573.5 1903.0 L574.1 1903.8 L574.6 1901.7 L575.7 1899.1 L576.8 1895.3 L577.9 1891.0 L578.7 1888.8 L580.1 1892.3 L581.2 1893.5 L582.3 1895.8 L582.9 1897.0 L583.4 1895.2 L584.5 1891.6 L585.6 1888.5 L586.8 1884.3 L587.8 1882.7 L588.9 1879.9 L590.3 1878.2 L591.1 1874.5 L592.2 1867.5 L593.1 1863.4 L594.4 1863.5 L595.5 1863.4 L596.1 1864.6 L596.6 1869.9 L597.7 1882.6 L598.4 1891.2 L598.8 1890.0 L599.9 1885.4 L601.0 1883.8 L602.1 1879.5 L603.0 1876.0 L604.3 1878.1 L605.4 1879.4 L606.5 1881.1 L607.7 1883.0 L608.7 1882.0 L609.8 1879.0 L611.2 1877.1 L612.0 1879.6 L613.1 1881.2 L614.2 1882.8 L614.6 1884.3 L615.3 1879.7 L616.4 1874.3 L617.7 1864.6 L618.6 1866.3 L619.7 1869.8 L620.4 1872.5 L621.9 1884.0 L622.8 1891.2 L624.1 1895.2 L624.6 1896.0 L625.2 1891.8 L626.3 1886.6 L627.4 1882.0 L628.5 1876.3 L629.6 1870.0 L630.9 1863.2 L631.8 1865.7 L632.9 1868.6 L634.0 1872.5 L635.1 1876.1 L635.5 1877.2 L636.2 1873.5 L637.3 1866.3 L637.8 1863.3 L638.4 1863.8 L639.5 1862.7 L640.8 1861.0 L641.7 1865.0 L642.8 1872.4 L643.2 1875.0 L643.9 1870.9 L645.0 1862.2 L645.9 1855.3 L647.2 1861.3 L648.3 1866.3 L648.7 1869.2 L649.4 1873.4 L650.5 1879.9 L651.0 1883.0 L651.6 1879.5 L652.7 1873.1 L654.1 1865.6 L654.9 1864.7 L656.0 1862.8 L657.1 1861.6 L657.5 1859.9 L658.2 1858.7 L659.3 1857.3 L660.4 1855.3 L661.0 1854.0 L661.5 1853.7 L662.6 1852.6 L663.7 1850.5 L664.5 1849.5 L665.9 1848.1 L667.0 1846.2 L668.0 1843.6 L669.2 1847.4 L670.3 1850.8 L671.4 1854.0 L672.5 1853.8 L673.6 1855.6 L674.9 1855.0 L675.8 1850.6 L676.6 1848.4 L678.0 1854.1 L679.1 1860.9 L679.6 1862.1 L680.2 1860.2 L681.3 1855.8 L682.4 1852.0 L683.0 1848.3 L683.5 1849.4 L684.6 1848.4 L685.7 1847.7 L686.8 1846.2 L687.9 1844.9 L688.8 1844.6 L690.1 1850.0 L691.2 1852.9 L692.3 1856.4 L693.4 1856.8 L694.5 1857.4 L695.1 1857.7 L695.6 1855.0 L696.7 1849.5 L697.4 1844.8 L698.9 1847.2 L700.0 1850.0 L701.1 1851.6 L702.2 1856.7 L702.8 1859.8 L703.3 1858.6 L704.4 1859.3 L705.5 1859.2 L706.6 1856.0 L707.4 1856.4 L708.8 1865.6 L709.7 1871.4 L711.0 1869.5 L712.1 1868.7 L713.2 1868.0 L714.3 1864.8 L715.4 1862.2 L716.7 1858.5 L717.6 1856.8 L719.0 1854.0 L719.8 1858.5 L720.9 1866.1 L722.0 1873.2 L722.5 1876.1 L723.1 1873.1 L724.2 1872.4 L725.3 1868.7 L725.9 1865.6 L726.4 1867.4 L727.5 1869.5 L728.6 1873.1 L729.0 1873.7 L729.7 1877.0 L730.8 1882.1 L731.3 1884.2 L731.9 1882.2 L733.0 1878.4 L734.1 1872.0 L735.2 1868.2 L736.3 1877.0 L737.5 1887.7 L738.5 1887.3 L739.6 1887.2 L740.6 1886.5 L741.8 1879.6 L742.9 1872.6 L744.0 1867.6 L745.0 1863.4 L746.2 1876.9 L746.8 1884.2 L747.3 1886.9 L748.4 1895.1 L749.5 1903.0 L749.8 1905.1 L750.6 1905.3 L751.7 1907.0 L752.8 1908.9 L753.8 1909.7 L755.0 1907.8 L756.1 1905.5 L757.2 1904.0 L758.3 1898.4 L759.1 1893.5 L760.5 1897.0 L761.9 1901.5 L762.7 1899.8 L763.8 1898.5 L764.9 1898.0 L765.4 1896.4 L766.0 1897.0 L767.1 1897.9 L768.4 1899.2 L769.3 1904.7 L770.4 1911.5 L771.2 1916.6 L772.6 1923.4 L773.5 1928.3 L774.8 1922.8 L775.8 1917.8 L777.0 1925.0 L778.1 1931.8 L779.2 1934.5 L780.3 1938.0 L780.9 1939.9 L781.4 1938.8 L782.5 1935.7 L783.6 1933.0 L783.9 1931.7 L784.7 1931.0 L785.8 1931.5 L786.9 1930.5 L788.0 1935.0 L789.1 1939.5 L789.7 1943.3 L790.2 1945.1 L791.3 1952.7 L792.0 1956.0 L793.5 1951.3 L794.6 1947.1 L795.7 1943.4 L796.8 1940.2 L797.1 1938.7 L797.9 1941.6 L799.0 1946.8 L800.1 1951.4 L801.2 1953.5 L802.3 1954.2 L803.6 1956.1 L804.5 1959.6 L805.6 1964.1 L806.7 1968.0 L807.1 1970.0 L807.8 1967.4 L808.9 1964.2 L810.1 1959.6 L811.1 1963.5 L812.2 1968.1 L812.9 1971.2 L813.3 1972.8 L814.4 1977.4 L815.2 1981.7 L816.6 1972.2 L817.7 1965.8 L818.2 1961.8 L818.8 1965.0 L819.9 1969.8 L821.0 1975.1 L821.7 1979.2 L822.1 1979.3 L823.2 1978.9 L824.3 1979.0 L825.0 1979.3 L825.4 1981.3 L826.5 1985.0 L827.6 1988.5 L828.0 1989.8 L828.7 1989.0 L829.8 1987.9 L830.9 1986.6 L831.4 1986.2 L832.0 1988.1 L833.1 1991.4 L834.2 1993.9 L834.9 1996.6 L836.4 1999.2 L837.5 2001.0 L838.6 2002.9 L839.6 2004.8 L840.8 2003.9 L841.9 2002.8 L843.0 2001.6 L844.2 2000.1 L845.2 2004.7 L846.3 2007.6 L847.7 2014.0 L848.5 2014.2 L849.6 2013.3 L850.7 2012.7 L851.8 2010.7 L852.3 2010.6 L852.9 2010.7 L854.0 2010.5 L855.1 2011.2 L856.2 2010.6 L857.0 2011.8 L858.4 2010.4 L859.5 2010.8 L860.4 2011.8 L861.7 2009.5 L862.8 2005.3 L863.2 2004.9 L863.9 2005.3 L865.0 2007.9 L866.1 2008.5 L867.4 2010.6 L868.3 2014.0 L869.4 2020.4 L870.5 2025.6 L870.9 2026.7 L871.6 2027.1 L872.7 2028.2 L873.8 2029.3 L874.3 2029.1 L874.9 2029.9 L876.0 2032.3 L877.4 2036.1 L878.2 2034.5 L879.3 2032.8 L880.4 2031.6 L881.5 2030.3 L882.6 2029.3 L883.6 2026.7 L884.8 2028.9 L885.9 2031.9 L887.1 2034.7 L888.1 2038.1 L889.4 2043.0 L890.3 2043.3 L891.4 2042.4 L892.5 2042.2 L893.6 2042.4 L894.1 2041.9 L894.7 2040.7 L895.8 2038.9 L896.9 2037.8 L897.5 2036.1 L898.0 2036.5 L899.1 2040.0 L900.2 2041.8 L901.0 2044.3 L902.4 2047.6 L903.5 2050.8 L904.5 2054.6 L905.7 2052.6 L906.8 2050.6 L907.9 2047.6 L909.0 2046.1 L909.8 2044.2 L911.2 2049.4 L912.6 2054.7 L913.4 2054.7 L914.5 2058.1 L915.6 2058.4 L916.7 2059.9 L917.2 2061.6 L917.8 2061.0 L918.9 2058.8 L920.0 2058.8 L921.1 2056.2 L921.9 2055.7 L923.3 2051.4 L924.7 2046.3 L925.5 2051.4 L926.6 2055.2 L927.7 2060.4 L928.8 2060.8 L929.3 2061.5 L930.0 2059.7 L931.0 2055.1 L932.1 2050.4 L932.8 2048.1 L933.2 2050.2 L934.3 2054.8 L935.4 2060.1 L935.8 2062.1 L936.5 2061.5 L937.6 2058.3 L938.7 2057.2 L939.3 2057.3 L939.8 2056.4 L940.9 2052.8 L941.6 2052.5 L942.0 2054.3 L943.1 2061.8 L943.4 2064.4 L944.2 2065.4 L945.3 2067.8 L946.2 2067.9 L947.5 2064.9 L948.6 2063.4 L949.7 2059.5 L950.8 2059.0 L952.0 2057.3 L953.0 2058.6 L954.1 2061.2 L955.4 2061.8 L956.3 2061.7 L957.4 2061.9 L958.5 2064.2 L958.9 2064.4 L959.6 2063.8 L960.7 2059.8 L961.2 2058.6 L961.8 2058.8 L962.9 2064.3 L964.0 2066.5 L964.7 2068.8 L965.1 2067.8 L966.2 2065.7 L967.3 2063.0 L968.2 2062.0 L969.5 2060.0 L970.6 2058.8 L971.2 2057.3 L971.7 2059.4 L972.8 2062.6 L974.0 2066.5 L975.0 2068.6 L976.1 2071.4 L977.4 2074.7 L978.3 2076.8 L979.4 2078.8 L980.5 2082.6 L980.9 2082.7 L981.6 2083.7 L982.7 2082.6 L983.8 2085.1 L985.1 2084.7 L986.0 2081.8 L987.1 2079.1 L987.8 2078.2 L989.3 2072.6 L990.2 2068.8 L991.5 2069.7 L992.6 2073.6 L993.6 2074.7 L994.8 2075.7 L995.9 2075.8 L997.1 2075.7 L998.1 2076.9 L999.2 2077.9 L1000.6 2080.3 L1001.4 2081.7 L1002.5 2080.9 L1003.6 2082.0 L1004.0 2081.4 L1004.7 2080.8 L1005.8 2079.6 L1006.9 2079.2 L1008.0 2080.0 L1008.7 2079.3 L1009.1 2080.2 L1010.2 2079.1 L1011.3 2079.7 L1012.4 2082.2 L1013.3 2081.6 L1014.6 2080.4 L1015.7 2078.6 L1016.8 2076.1 L1017.9 2076.0 L1019.0 2075.6 L1020.1 2075.6 L1021.4 2076.8 L1022.3 2078.7 L1023.7 2082.3 L1024.5 2081.0 L1025.6 2077.7 L1026.7 2075.5 L1027.2 2075.7 L1027.8 2074.2 L1028.9 2073.1 L1029.5 2072.4 L1030.0 2072.3 L1031.1 2073.5 L1032.2 2075.3 L1032.9 2077.1 L1034.4 2080.5 L1035.3 2082.5 L1036.6 2081.3 L1037.7 2076.5 L1038.7 2075.7 L1039.9 2076.4 L1041.0 2076.6 L1042.2 2079.4 L1043.2 2080.7 L1044.3 2079.8 L1045.7 2081.8 L1046.5 2081.2 L1047.6 2077.8 L1048.7 2078.2 L1049.1 2076.8 L1049.8 2076.0 L1050.9 2076.0 L1052.0 2077.0 L1053.1 2076.0 L1054.2 2074.6 L1054.9 2074.7 L1056.4 2075.1 L1057.5 2077.4 L1058.4 2079.1 L1059.7 2080.6 L1060.8 2079.3 L1061.9 2080.4 L1063.0 2078.5 L1064.1 2079.5 L1065.3 2078.0 L1066.3 2078.0 L1067.4 2080.5 L1068.8 2080.6 L1069.6 2079.8 L1070.7 2075.4 L1071.8 2072.4 L1072.3 2071.0 L1072.9 2071.1 L1074.0 2069.2 L1075.3 2065.5 L1076.2 2067.0 L1077.3 2068.8 L1078.1 2070.1 L1079.5 2077.0 L1079.9 2079.3 L1080.6 2079.7 L1081.7 2080.1 L1082.7 2080.5 L1083.9 2075.7 L1085.0 2071.5 L1085.5 2068.9 L1086.1 2066.3 L1087.2 2062.7 L1088.5 2059.7 L1089.4 2058.3 L1090.8 2053.9 L1091.6 2051.7 L1092.7 2050.4 L1093.8 2047.9 L1094.9 2049.3 L1096.0 2051.5 L1097.0 2051.3 L1098.2 2056.2 L1099.3 2060.5 L1100.0 2064.3 L1101.5 2065.1 L1102.6 2067.4 L1103.5 2067.7 L1104.8 2067.3 L1105.9 2066.4 L1107.0 2065.3 L1108.1 2068.0 L1109.2 2072.3 L1110.5 2076.0 L1111.4 2073.3 L1112.5 2072.1 L1113.6 2070.3 L1113.9 2070.1 L1114.7 2070.9 L1115.8 2069.6 L1116.9 2069.0 L1117.4 2070.1 L1118.0 2068.1 L1119.1 2067.3 L1120.2 2065.5 L1121.3 2067.0 L1122.4 2068.1 L1123.2 2069.0 L1124.6 2065.6 L1125.7 2064.3 L1126.6 2063.0 L1127.9 2063.5 L1129.0 2060.6 L1130.1 2060.9 L1131.2 2062.1 L1132.3 2061.0 L1133.6 2062.0 L1134.5 2061.5 L1135.6 2060.6 L1136.4 2058.5 L1137.8 2061.5 L1138.9 2061.5 L1139.4 2063.2 L1140.0 2062.5 L1141.1 2057.6 L1141.7 2056.3 L1142.2 2056.7 L1143.3 2051.7 L1144.0 2051.5 L1144.4 2052.4 L1145.5 2056.2 L1146.6 2058.5 L1147.0 2058.6 L1147.7 2057.9 L1148.8 2060.9 L1149.8 2060.7 L1151.0 2060.2 L1152.1 2060.4 L1153.3 2059.5 L1154.3 2062.3 L1154.9 2064.1 L1155.4 2062.7 L1156.5 2057.6 L1157.9 2050.5 L1158.7 2050.6 L1159.8 2049.1 L1160.9 2048.1 L1161.3 2046.9 L1162.0 2046.0 L1163.1 2044.8 L1164.2 2044.6 L1164.8 2043.4 L1165.3 2045.3 L1166.4 2050.0 L1167.1 2052.6 L1168.6 2051.1 L1169.7 2047.9 L1170.8 2046.8 L1171.8 2044.5 L1173.0 2044.6 L1174.1 2041.9 L1175.2 2042.2 L1176.3 2042.2 L1177.4 2043.7 L1178.5 2043.1 L1179.9 2044.7 L1180.7 2042.8 L1181.8 2041.8 L1182.9 2040.9 L1183.3 2039.9 L1184.0 2041.3 L1185.1 2045.7 L1186.2 2047.3 L1186.8 2050.2 L1187.3 2050.8 L1188.4 2048.5 L1189.5 2045.2 L1190.3 2044.4 L1191.7 2040.9 L1192.8 2039.7 L1193.7 2037.7 L1195.0 2035.4 L1196.1 2034.2 L1197.2 2033.6 L1197.9 2032.9 L1198.3 2034.4 L1199.4 2037.4 L1200.7 2039.0 L1201.6 2040.2 L1202.7 2043.4 L1203.8 2046.7 L1204.1 2047.9 L1204.9 2046.1 L1206.0 2042.4 L1207.1 2041.0 L1207.6 2038.8 L1208.2 2040.5 L1209.3 2043.8 L1209.9 2044.5 L1210.4 2044.6 L1211.5 2045.8 L1212.2 2048.0 L1213.7 2046.0 L1214.8 2045.7 L1215.9 2042.2 L1216.9 2042.3 L1218.1 2043.6 L1219.2 2045.9 L1220.3 2046.9 L1221.4 2048.4 L1222.5 2050.6 L1223.8 2053.9 L1224.7 2052.7 L1225.8 2050.7 L1226.9 2048.9 L1227.3 2048.0 L1228.0 2049.9 L1229.1 2050.9 L1230.2 2054.6 L1230.8 2055.0 L1231.3 2054.5 L1232.4 2057.7 L1233.5 2059.6 L1234.6 2060.0 L1235.4 2061.8 L1236.8 2059.9 L1237.9 2056.7 L1238.8 2055.0 L1240.1 2054.1 L1241.2 2055.1 L1242.3 2053.9 L1243.5 2053.7 L1244.5 2055.5 L1245.6 2055.4 L1246.9 2058.6 L1247.8 2059.5 L1248.9 2062.7 L1250.0 2066.5 L1250.4 2067.6 L1251.1 2067.0 L1252.2 2064.5 L1253.3 2064.9 L1253.9 2063.0 L1254.4 2061.9 L1255.5 2062.5 L1256.6 2061.5 L1257.7 2060.9 L1258.5 2059.6 L1259.9 2060.2 L1261.0 2060.2 L1262.1 2061.0 L1263.1 2062.9 L1264.3 2065.0 L1265.4 2065.4 L1266.6 2067.7 L1267.6 2066.8 L1268.7 2065.4 L1270.1 2065.5 L1270.9 2063.7 L1272.0 2063.0 L1273.1 2062.3 L1273.6 2061.8 L1274.2 2065.4 L1275.3 2072.2 L1275.9 2076.0 L1276.4 2076.1 L1277.5 2074.4 L1278.6 2074.2 L1279.7 2075.5 L1280.5 2074.6 L1281.9 2071.8 L1283.0 2071.4 L1284.0 2070.1 L1285.2 2069.8 L1286.3 2068.9 L1287.4 2068.9 L1288.5 2068.6 L1289.6 2072.5 L1290.9 2072.5 L1291.8 2070.8 L1292.9 2070.6 L1294.0 2070.9 L1294.4 2071.3 L1295.1 2072.3 L1296.2 2072.8 L1297.3 2072.1 L1297.8 2073.4 L1298.4 2074.1 L1299.5 2077.8 L1300.6 2078.7 L1301.7 2081.5 L1302.5 2082.8 L1303.9 2081.9 L1305.0 2080.6 L1306.1 2080.2 L1307.1 2078.0 L1308.3 2078.3 L1309.4 2078.8 L1310.5 2078.8 L1311.7 2080.4 L1312.7 2079.7 L1313.8 2078.7 L1315.2 2075.6 L1316.0 2078.0 L1317.1 2078.7 L1318.2 2082.0 L1319.3 2084.8 L1319.8 2085.1 L1320.4 2083.6 L1321.5 2079.8 L1322.6 2077.4 L1323.7 2075.2 L1324.4 2073.7 L1325.9 2077.2 L1326.8 2079.3 L1328.1 2082.0 L1329.3 2084.0 L1330.0 2084.6 L1331.4 2083.7 L1332.5 2082.6 L1333.6 2083.5 L1334.6 2082.4 L1335.8 2082.8 L1336.9 2083.0 L1338.0 2082.0 L1339.1 2082.9 L1340.4 2082.4 L1341.3 2083.1 L1342.4 2083.3 L1342.7 2084.9 L1343.5 2086.7 L1344.6 2088.7 L1345.7 2089.6 L1346.8 2087.7 L1347.9 2083.2 L1348.5 2082.9 L1349.0 2080.9 L1350.1 2081.6 L1351.3 2078.6 L1352.3 2078.9 L1353.4 2082.3 L1354.3 2083.4 L1355.6 2082.6 L1356.7 2082.1 L1357.8 2082.7 L1358.9 2084.4 L1360.0 2085.8 L1361.2 2088.0 L1362.2 2089.5 L1363.3 2090.5 L1364.7 2093.3 L1365.5 2090.9 L1366.6 2090.5 L1367.7 2086.6 L1368.2 2086.8 L1368.8 2086.2 L1369.9 2086.7 L1371.2 2087.0 L1372.1 2090.1 L1372.8 2092.3 L1373.2 2092.5 L1374.3 2089.8 L1375.4 2088.5 L1376.5 2087.1 L1377.4 2085.7 L1378.7 2087.8 L1379.7 2090.7 L1380.9 2091.8 L1382.0 2093.0 L1382.7 2093.3 L1384.2 2092.0 L1385.5 2090.2 L1386.4 2091.3 L1387.5 2093.0 L1387.8 2092.2 L1388.6 2089.8 L1389.7 2089.4 L1390.6 2086.4 L1391.9 2088.1 L1393.0 2089.8 L1393.6 2091.4 L1394.1 2093.5 L1395.2 2095.3 L1395.9 2098.0 L1397.4 2094.6 L1398.5 2094.6 L1398.9 2093.2 L1399.6 2091.4 L1400.7 2089.8 L1401.7 2088.3 L1402.9 2089.7 L1404.0 2090.9 L1404.5 2090.9 L1405.1 2089.8 L1406.2 2090.6 L1407.5 2089.6 L1408.4 2086.3 L1409.5 2082.4 L1409.8 2081.7 L1410.6 2083.8 L1411.7 2083.8 L1412.1 2084.9 L1412.8 2088.2 L1413.7 2093.1 L1415.0 2096.9 L1416.1 2098.3 L1416.8 2099.4 L1417.2 2099.5 L1418.3 2095.7 L1419.4 2094.0 L1419.8 2094.2 L1420.5 2093.7 L1421.6 2092.1 L1422.1 2091.4 L1422.7 2092.5 L1423.8 2096.0 L1424.4 2096.0 L1424.9 2096.5 L1426.0 2098.3 L1427.2 2098.9 L1428.2 2099.4 L1429.3 2098.0 L1429.9 2096.1 L1430.4 2095.5 L1431.5 2098.3 L1432.6 2099.4 L1432.9 2098.7 L1433.7 2098.1 L1434.8 2095.8 L1435.9 2096.2 L1436.9 2094.6 L1438.1 2096.7 L1439.2 2098.3 L1439.9 2098.4 L1440.3 2098.9 L1441.4 2097.5 L1442.5 2097.1 L1442.9 2097.9 L1443.6 2095.0 L1444.5 2091.5 L1445.8 2092.6 L1446.8 2093.0 L1448.0 2096.7 L1448.4 2098.9 L1449.1 2099.1 L1450.2 2100.2 L1451.5 2103.6 L1452.4 2102.4 L1453.5 2101.7 L1454.6 2098.8 L1454.9 2099.2 L1455.7 2100.4 L1456.8 2099.3 L1457.7 2101.1 L1459.0 2100.2 L1460.1 2095.9 L1460.7 2096.1 L1461.2 2096.9 L1462.3 2095.8 L1463.4 2093.3 L1463.7 2093.1 L1464.5 2094.0 L1465.6 2095.4 L1466.5 2096.0 L1467.8 2096.4 L1468.8 2098.4 L1470.0 2099.0 L1471.1 2102.9 L1471.6 2103.0 L1472.2 2103.0 L1473.3 2100.3 L1474.6 2097.9 L1475.5 2097.3 L1476.6 2095.6 L1477.7 2093.8 L1478.1 2093.2 L1478.8 2094.5 L1479.9 2097.1 L1480.4 2096.6 L1481.0 2098.2 L1482.1 2100.6 L1482.7 2103.1 L1483.2 2103.8 L1484.3 2105.1 L1485.4 2103.5 L1486.2 2104.5 L1487.6 2103.9 L1488.7 2104.5 L1489.6 2106.0 L1490.9 2104.7 L1492.0 2101.9 L1493.1 2100.2 L1494.2 2100.4 L1495.3 2100.3 L1496.6 2098.6 L1497.5 2099.0 L1498.6 2101.2 L1499.7 2104.2 L1500.0 2103.7 L1500.8 2104.0 L1501.9 2102.6 L1503.0 2103.5 L1503.5 2103.3 L1504.1 2102.1 L1505.2 2099.9 L1506.3 2096.9 L1507.0 2095.5 L1507.4 2096.1 L1508.5 2096.6 L1509.6 2097.4 L1510.0 2096.3 L1510.7 2096.7 L1511.8 2100.7 L1512.8 2104.2 L1514.0 2101.7 L1515.1 2102.0 L1516.2 2101.4 L1517.3 2098.8 L1518.4 2096.7 L1519.2 2096.5 L1520.6 2098.8 L1521.7 2097.1 L1522.8 2097.4 L1523.2 2099.0 L1523.9 2099.7 L1525.0 2100.5 L1526.1 2104.9 L1526.6 2104.6 L1527.2 2105.0 L1528.3 2101.9 L1529.4 2101.4 L1530.5 2100.0 L1531.6 2098.6 L1532.4 2099.2 L1533.8 2101.0 L1534.9 2102.9 L1535.4 2102.4 L1536.0 2103.4 L1537.1 2101.2 L1538.2 2102.4 L1539.3 2099.5 L1540.4 2098.6 L1541.0 2098.6 L1541.5 2098.1 L1542.6 2100.7 L1544.0 2103.7 L1544.8 2105.5 L1545.9 2106.4 L1547.0 2109.2 L1547.5 2110.1 L1548.1 2109.3 L1549.2 2105.6 L1550.3 2103.5 L1550.9 2102.6 L1551.4 2102.0 L1552.5 2096.4 L1553.3 2094.1 L1554.7 2094.3 L1555.6 2094.2 L1556.9 2099.6 L1557.9 2102.3 L1559.1 2104.2 L1560.2 2105.6 L1560.9 2107.2 L1561.3 2106.4 L1562.4 2104.5 L1563.5 2101.7 L1564.8 2100.0 L1565.7 2100.8 L1566.8 2103.4 L1567.9 2104.2 L1568.3 2104.6 L1569.0 2103.5 L1570.1 2104.4 L1571.2 2104.1 L1572.3 2102.2 L1572.9 2103.0 L1573.4 2103.8 L1574.5 2105.6 L1575.6 2105.6 L1576.4 2106.3 L1577.8 2104.4 L1578.9 2104.5 L1580.0 2106.5 L1581.0 2104.9 L1582.2 2102.9 L1583.3 2102.9 L1584.5 2103.6 L1585.5 2104.1 L1586.6 2103.5 L1588.0 2104.0 L1588.8 2103.3 L1589.9 2103.6 L1591.0 2102.3 L1591.4 2101.7 L1592.1 2102.2 L1593.2 2102.6 L1594.3 2104.0 L1595.4 2104.4 L1596.0 2104.8 L1596.5 2105.4 L1597.6 2104.7 L1598.7 2103.9 L1599.5 2103.2 L1600.9 2105.1 L1602.0 2104.9 L1603.1 2105.3 L1604.1 2106.4 L1605.3 2107.5 L1606.4 2105.4 L1607.6 2105.7 L1608.6 2103.4 L1609.7 2102.9 L1610.8 2103.0 L1611.8 2102.6 L1613.0 2104.2 L1614.1 2103.5 L1615.2 2102.7 L1615.7 2104.0 L1616.3 2104.3 L1617.4 2104.8 L1618.5 2105.1 L1619.2 2105.9 L1619.6 2106.9 L1620.7 2109.2 L1622.0 2110.1 L1622.9 2109.7 L1624.0 2106.5 L1625.1 2104.4 L1625.7 2103.0 L1626.2 2102.1 L1627.3 2103.0 L1628.4 2101.3 L1629.6 2099.5 L1630.6 2102.4 L1631.7 2102.6 L1632.6 2104.5 L1633.9 2108.5 L1635.0 2109.9 L1635.4 2110.7 L1636.1 2111.3 L1637.2 2108.5 L1638.3 2110.7 L1638.8 2109.3 L1639.4 2108.4 L1640.5 2106.7 L1641.9 2104.9 L1642.7 2104.4 L1643.8 2106.9 L1645.1 2107.0 L1646.0 2105.3 L1647.1 2107.1 L1648.2 2105.8 L1648.8 2104.6 L1649.3 2105.1 L1650.4 2105.9 L1651.5 2109.5 L1652.0 2109.2 L1652.6 2110.5 L1653.7 2110.0 L1655.0 2111.0 L1655.9 2109.8 L1657.0 2110.2 L1658.1 2107.8 L1658.5 2107.3 L1659.2 2105.9 L1660.3 2105.5 L1661.4 2104.7 L1662.0 2103.7 L1662.5 2102.6 L1663.6 2102.4 L1664.7 2103.8 L1665.8 2103.8 L1666.6 2102.5 L1668.0 2103.2 L1669.1 2104.8 L1670.1 2104.9 L1671.3 2107.6 L1672.4 2107.9 L1673.6 2109.5 L1674.6 2111.0 L1675.9 2111.6 L1676.8 2111.6 L1677.9 2109.3 L1679.0 2106.7 L1679.3 2107.1 L1680.1 2107.1 L1681.2 2110.5 L1682.3 2110.4 L1682.8 2112.3 L1683.4 2113.2 L1684.5 2113.8 L1685.6 2114.9 L1686.3 2114.1 L1686.7 2114.9 L1687.8 2113.4 L1688.9 2113.5 L1689.7 2111.5 L1691.1 2111.2 L1692.2 2110.6 L1693.3 2112.1 L1694.4 2110.6 L1695.5 2108.4 L1696.6 2109.3 L1697.7 2107.1 L1699.0 2106.9 L1699.9 2106.2 L1701.0 2104.5 L1702.1 2104.4 L1702.9 2103.5 L1704.3 2107.1 L1705.4 2106.1 L1705.9 2108.2 L1706.5 2110.9 L1707.6 2113.2 L1708.3 2115.5 L1708.7 2115.5 L1709.8 2115.1 L1710.9 2112.8 L1711.7 2112.8 L1713.1 2112.1 L1714.2 2111.0 L1715.3 2111.9 L1716.4 2110.5 L1717.5 2110.0 L1718.6 2110.7 L1719.7 2109.6 L1721.0 2111.2 L1721.9 2109.8 L1723.0 2110.9 L1724.1 2108.4 L1725.2 2108.1 L1725.6 2108.0 L1726.3 2108.5 L1727.4 2108.5 L1728.5 2109.8 L1729.3 2109.4 L1730.8 2110.0 L1731.8 2108.6 L1732.2 2108.7 L1732.9 2109.4 L1734.0 2108.9 L1735.1 2108.2 L1735.7 2106.7 L1736.2 2107.6 L1737.3 2108.0 L1737.8 2109.2 L1738.4 2109.6 L1739.5 2112.9 L1740.5 2112.7 L1741.7 2110.7 L1742.9 2109.2 L1743.9 2111.8 L1745.0 2114.9 L1745.4 2115.0 L1746.1 2114.6 L1747.2 2112.8 L1748.2 2111.6 L1749.4 2109.3 L1750.5 2110.1 L1751.0 2108.5 L1751.6 2107.9 L1752.7 2108.8 L1753.1 2107.9 L1753.8 2107.8 L1754.9 2110.1 L1755.9 2110.2 L1757.1 2109.5 L1758.2 2112.4 L1758.6 2112.2 L1759.3 2110.9 L1760.4 2111.6 L1761.5 2112.4 L1762.1 2111.3 L1762.6 2111.1 L1763.7 2109.1 L1764.9 2107.2 L1765.9 2109.0 L1767.0 2109.3 L1768.1 2113.2 L1769.1 2117.0 L1770.3 2117.6 L1771.2 2119.0 L1772.5 2118.1 L1773.2 2115.6 L1774.7 2111.3 L1775.8 2109.4 L1776.9 2110.5 L1778.0 2110.5 L1778.5 2109.4 L1779.1 2109.2 L1780.2 2111.4 L1780.9 2113.4 L1781.3 2113.3 L1782.4 2114.9 L1783.7 2116.5 L1784.6 2116.8 L1785.7 2116.0 L1786.5 2114.4 L1787.9 2114.0 L1789.3 2112.7 L1790.1 2114.2 L1791.2 2114.7 L1792.0 2114.8 L1793.4 2114.8 L1794.5 2117.7 L1794.8 2116.9 L1795.6 2115.2 L1796.7 2116.0 L1797.6 2114.2 L1798.9 2114.5 L1800.0 2112.9 L1801.1 2114.8 L1802.5 2117.2 L1803.3 2116.3 L1804.4 2117.8 L1805.0 2119.1 L1805.5 2118.6 L1806.6 2118.4 L1807.7 2117.6 L1808.0 2116.3 L1808.8 2115.2 L1809.9 2116.7 L1811.0 2116.3 L1811.5 2115.6 L1812.1 2114.6 L1813.2 2114.9 L1814.3 2113.9 L1815.4 2113.4 L1816.5 2114.3 L1817.1 2114.5 L1817.6 2114.6 L1818.7 2116.3 L1819.9 2116.6 L1820.9 2115.2 L1822.0 2113.4 L1822.7 2114.1 L1823.1 2112.8 L1824.2 2113.6 L1825.4 2112.2 L1826.4 2112.8 L1827.8 2110.6 L1828.6 2111.8 L1829.7 2113.8 L1830.3 2113.6" fill="none" stroke="#00B050" stroke-width="3.5" stroke-linejoin="round" stroke-linecap="round"/>
<path d="M196.1 479.1 L196.6 495.6 L197.7 527.8 L199.1 574.2 L199.9 598.1 L200.7 620.6 L202.3 655.4 L203.3 680.0 L204.7 703.2 L205.4 712.8 L206.5 726.4 L207.6 740.3 L208.4 749.6 L208.7 757.3 L210.0 784.3 L211.2 819.1 L212.0 830.1 L213.0 842.3 L213.9 865.5 L215.3 882.9 L215.8 888.7 L216.4 896.7 L217.7 911.9 L218.6 924.5 L219.3 932.8 L219.7 936.0 L220.8 943.7 L221.6 949.0 L223.2 965.2 L224.1 974.4 L225.1 983.8 L226.3 994.8 L226.9 1000.0 L227.4 1007.6 L227.9 1013.9 L228.6 1025.5 L229.6 1032.0 L230.9 1039.4 L232.0 1053.3 L233.2 1066.1 L234.0 1069.9 L235.1 1074.9 L235.5 1076.5 L236.2 1080.2 L237.3 1085.7 L237.8 1088.1 L238.4 1091.6 L239.4 1097.4 L240.6 1103.3 L241.3 1106.7 L241.7 1108.0 L242.8 1111.3 L243.6 1113.6 L245.0 1120.7 L245.5 1122.9 L246.1 1127.6 L247.1 1134.5 L248.3 1143.3 L248.7 1146.1 L249.4 1148.7 L250.6 1153.0 L251.6 1157.3 L252.9 1162.3 L253.8 1163.2 L255.2 1164.6 L256.0 1165.2 L257.1 1166.0 L258.2 1166.8 L258.7 1167.0 L259.3 1167.9 L260.4 1170.0 L261.5 1171.9 L262.2 1172.8 L262.6 1172.8 L263.7 1173.5 L264.5 1173.9 L265.9 1177.7 L266.8 1180.0 L268.1 1182.6 L269.1 1184.6 L270.3 1188.2 L271.4 1191.5 L272.5 1194.8 L273.8 1198.5 L274.7 1203.1 L275.8 1208.3 L277.2 1214.8 L278.0 1222.6 L278.4 1226.4 L279.1 1227.6 L280.2 1229.5 L281.3 1231.5 L282.4 1233.5 L283.0 1234.5 L283.5 1233.5 L284.6 1231.8 L285.7 1229.9 L286.8 1227.7 L287.9 1225.9 L288.4 1225.2 L289.0 1226.3 L290.1 1228.5 L291.2 1231.0 L292.3 1236.8 L293.4 1242.2 L294.6 1247.2 L295.6 1248.1 L296.7 1249.5 L297.8 1250.4 L298.9 1250.1 L300.0 1252.2 L300.4 1251.9 L301.1 1250.3 L302.2 1246.6 L303.3 1244.5 L303.9 1242.6 L304.4 1242.6 L305.5 1241.0 L306.6 1238.1 L307.7 1237.4 L309.0 1235.7 L309.9 1239.1 L311.0 1243.0 L312.0 1247.2 L313.2 1249.2 L314.3 1250.2 L315.5 1251.8 L316.5 1257.2 L317.4 1261.2 L318.7 1264.5 L319.8 1267.6 L320.6 1269.3 L322.0 1267.8 L323.1 1266.6 L324.2 1265.5 L325.3 1264.2 L325.9 1263.5 L326.4 1265.7 L327.5 1270.7 L329.0 1277.4 L329.7 1276.8 L330.8 1276.7 L331.9 1275.8 L332.9 1275.1 L334.1 1282.1 L335.2 1289.0 L336.3 1293.2 L337.5 1298.3 L338.5 1297.4 L339.6 1296.1 L340.7 1295.4 L342.2 1293.7 L342.9 1293.0 L344.0 1291.4 L345.1 1289.6 L346.1 1288.9 L347.3 1291.6 L348.4 1292.7 L349.5 1295.8 L350.3 1295.9 L351.7 1297.3 L352.8 1300.6 L353.9 1302.7 L355.0 1303.6 L356.1 1305.1 L357.2 1302.3 L358.3 1302.2 L359.4 1298.9 L360.5 1296.2 L361.9 1294.6 L362.7 1294.2 L363.8 1293.2 L364.9 1290.4 L366.0 1289.0 L367.1 1287.7 L367.7 1287.8 L368.2 1290.4 L369.3 1294.1 L370.4 1297.7 L371.2 1300.6 L371.5 1301.4 L372.6 1304.2 L373.7 1307.1 L374.8 1309.9 L375.8 1312.1 L377.0 1314.8 L378.1 1317.9 L379.2 1320.5 L380.3 1323.0 L381.6 1326.1 L382.5 1323.7 L383.6 1320.6 L384.7 1317.9 L385.5 1315.6 L386.9 1316.5 L388.0 1317.7 L389.1 1318.1 L390.2 1320.5 L391.3 1321.4 L392.0 1321.5 L392.4 1322.5 L393.5 1328.4 L394.3 1330.6 L395.7 1332.1 L396.8 1333.1 L397.9 1334.5 L398.5 1335.2 L399.0 1335.1 L400.1 1332.8 L401.2 1330.4 L402.3 1329.0 L403.6 1327.3 L404.5 1326.8 L405.6 1327.9 L406.7 1327.9 L407.8 1326.6 L408.9 1326.8 L409.4 1327.2 L410.0 1330.1 L411.1 1333.8 L412.2 1339.8 L412.9 1342.3 L413.3 1343.2 L414.4 1343.4 L415.5 1343.8 L416.6 1343.3 L417.7 1344.6 L418.7 1344.6 L419.9 1343.8 L421.0 1342.8 L422.1 1341.5 L423.2 1340.8 L424.5 1340.1 L425.4 1342.7 L426.5 1345.3 L427.6 1348.3 L428.7 1351.5 L429.1 1352.8 L429.8 1353.7 L430.9 1355.8 L432.0 1357.8 L433.1 1360.0 L433.8 1360.9 L434.2 1360.4 L435.3 1360.6 L436.4 1359.8 L437.5 1359.3 L438.6 1358.7 L439.6 1358.6 L440.8 1362.2 L441.9 1365.3 L443.0 1367.9 L444.1 1368.3 L445.2 1367.9 L446.5 1367.8 L447.4 1371.7 L448.5 1375.9 L449.6 1380.1 L450.0 1381.7 L450.7 1379.2 L451.8 1376.2 L452.3 1374.8 L452.9 1376.2 L454.0 1379.5 L455.1 1382.1 L456.2 1384.9 L457.0 1386.3 L457.3 1386.8 L458.4 1386.5 L459.5 1386.5 L460.6 1386.4 L461.7 1384.9 L462.8 1385.3 L463.9 1384.7 L465.0 1385.0 L466.1 1385.4 L467.2 1387.5 L468.6 1387.5 L469.4 1386.7 L470.5 1386.8 L471.6 1386.6 L472.7 1385.0 L473.8 1383.2 L474.9 1382.2 L475.5 1383.0 L476.0 1383.9 L477.1 1383.2 L478.2 1384.4 L479.3 1385.0 L480.4 1386.6 L481.5 1386.3 L482.6 1387.1 L483.6 1388.6 L484.8 1388.3 L485.9 1387.4 L487.0 1385.9 L488.1 1386.8 L489.4 1385.2 L490.3 1387.6 L491.4 1388.2 L492.5 1391.2 L493.6 1391.9 L494.1 1393.5 L494.7 1395.7 L495.8 1397.5 L496.9 1399.2 L497.5 1400.3 L498.0 1399.7 L499.1 1396.0 L500.2 1394.6 L501.0 1392.2 L502.4 1394.2 L503.5 1395.5 L504.6 1395.6 L505.7 1397.0 L506.8 1397.9 L507.9 1399.2 L509.0 1402.6 L510.1 1404.9 L511.4 1407.3 L512.3 1406.5 L513.4 1403.3 L514.5 1401.2 L515.6 1399.2 L516.1 1398.0 L516.7 1396.8 L517.8 1393.2 L518.9 1392.7 L520.0 1388.3 L521.1 1387.9 L521.9 1385.1 L522.2 1386.6 L523.3 1394.1 L524.2 1399.2 L525.5 1400.6 L526.6 1401.1 L527.7 1401.4 L528.8 1402.5 L530.0 1401.5 L531.0 1403.6 L532.1 1404.3 L533.2 1405.9 L534.3 1407.5 L535.4 1409.1 L535.8 1408.5 L536.5 1406.9 L537.6 1404.6 L538.7 1403.3 L539.8 1401.2 L540.9 1398.1 L541.6 1396.9 L542.0 1397.4 L543.1 1397.0 L544.2 1396.4 L545.3 1396.1 L546.2 1397.1 L547.5 1399.1 L548.6 1400.8 L549.7 1402.8 L550.8 1404.4 L552.0 1406.1 L553.0 1405.5 L554.1 1403.6 L555.2 1401.5 L556.3 1399.9 L557.4 1397.0 L557.8 1396.9 L558.5 1397.6 L559.6 1398.6 L560.7 1400.5 L561.8 1403.6 L562.5 1403.9 L562.9 1405.1 L564.0 1404.5 L565.1 1404.8 L566.2 1406.3 L567.6 1407.3 L568.4 1404.7 L569.5 1402.6 L570.6 1398.5 L571.7 1396.2 L572.9 1393.5 L573.9 1395.2 L575.0 1395.9 L576.4 1398.0 L577.2 1396.2 L578.3 1394.7 L579.4 1393.2 L580.5 1390.7 L581.5 1389.9 L582.7 1392.0 L583.8 1392.4 L584.9 1392.9 L585.7 1394.6 L586.0 1394.5 L587.1 1397.5 L588.2 1399.2 L589.3 1402.6 L590.8 1405.1 L591.5 1403.2 L592.6 1403.2 L593.7 1402.0 L594.8 1399.7 L596.1 1398.2 L597.0 1395.7 L598.1 1395.1 L599.2 1392.4 L600.3 1390.4 L601.4 1388.9 L602.5 1390.3 L603.6 1391.8 L604.7 1392.4 L605.4 1393.6 L605.8 1391.9 L606.9 1391.0 L608.0 1389.0 L609.1 1386.1 L610.0 1384.3 L611.3 1383.8 L612.4 1381.2 L613.5 1380.0 L614.6 1379.5 L615.7 1381.3 L616.8 1382.2 L617.9 1384.8 L619.3 1386.6 L620.1 1388.0 L621.2 1389.1 L622.3 1388.4 L623.4 1388.7 L623.9 1390.0 L624.5 1388.0 L625.6 1381.9 L626.9 1377.2 L627.8 1377.7 L628.9 1378.3 L630.0 1378.9 L631.1 1379.5 L632.0 1380.7 L633.3 1381.2 L634.4 1381.2 L635.5 1381.4 L636.2 1381.9 L636.6 1381.0 L637.7 1377.0 L638.8 1374.8 L640.1 1370.3 L641.0 1370.2 L642.1 1369.4 L643.2 1369.3 L644.3 1369.2 L644.8 1369.1 L645.4 1368.4 L646.5 1367.2 L647.6 1365.5 L648.3 1364.6 L648.7 1364.6 L649.8 1365.7 L650.9 1367.6 L651.7 1368.1 L653.1 1366.2 L654.2 1362.9 L655.3 1361.5 L656.4 1359.9 L657.5 1360.0 L658.6 1358.3 L659.7 1358.2 L661.0 1357.6 L661.9 1356.4 L663.0 1354.4 L664.1 1355.0 L665.2 1352.8 L665.7 1352.8 L666.3 1353.4 L667.4 1355.2 L668.5 1356.3 L669.6 1357.7 L670.7 1360.2 L671.4 1361.0 L671.8 1361.7 L672.9 1361.7 L674.0 1361.2 L675.1 1362.4 L676.6 1362.2 L677.3 1358.8 L678.4 1353.9 L679.5 1349.0 L680.6 1343.3 L681.9 1337.9 L682.8 1338.2 L683.9 1338.7 L685.0 1339.7 L686.1 1339.8 L687.2 1340.6 L688.3 1340.9 L688.8 1341.3 L689.4 1340.3 L690.5 1337.5 L691.6 1336.6 L692.3 1334.3 L692.7 1334.5 L693.8 1331.6 L694.9 1329.0 L696.0 1326.1 L697.0 1323.8 L698.2 1325.4 L699.3 1325.3 L700.4 1326.2 L701.5 1328.5 L702.6 1332.0 L703.7 1335.2 L704.8 1340.2 L705.9 1343.2 L706.7 1344.9 L708.1 1340.9 L709.2 1338.2 L710.3 1335.6 L711.4 1333.3 L712.0 1332.0 L712.5 1331.5 L713.6 1329.5 L714.7 1327.9 L715.8 1326.2 L716.7 1325.0 L718.0 1322.5 L719.1 1320.0 L720.1 1318.1 L721.3 1313.8 L722.4 1308.6 L723.6 1304.1 L724.6 1302.1 L725.7 1300.9 L726.6 1299.6 L727.9 1303.8 L729.0 1306.9 L729.9 1308.8 L731.2 1312.9 L732.3 1316.2 L732.9 1317.0 L733.4 1315.3 L734.5 1314.4 L735.6 1313.9 L736.7 1313.2 L737.5 1311.3 L738.9 1306.1 L739.9 1304.2 L741.1 1303.5 L742.2 1302.2 L743.3 1301.7 L743.8 1300.7 L744.4 1302.2 L745.5 1304.2 L746.6 1305.2 L748.0 1308.7 L748.8 1307.7 L749.9 1307.3 L751.0 1306.2 L752.1 1306.0 L752.6 1305.3 L753.2 1306.6 L754.3 1308.8 L755.4 1311.5 L756.5 1313.7 L757.2 1315.8 L757.6 1316.5 L758.7 1319.0 L759.8 1321.7 L760.9 1324.7 L761.9 1326.2 L763.1 1324.5 L764.2 1323.2 L765.4 1322.7 L766.4 1324.2 L767.5 1325.3 L768.8 1325.0 L769.7 1322.7 L770.8 1320.7 L771.9 1319.4 L773.0 1317.3 L773.5 1315.9 L774.1 1315.6 L775.2 1312.6 L776.3 1310.0 L777.7 1309.0 L778.5 1309.9 L779.6 1312.1 L780.7 1314.8 L781.6 1317.1 L782.9 1317.4 L784.0 1318.9 L785.1 1319.5 L786.2 1320.4 L787.3 1320.8 L788.4 1320.6 L789.5 1319.2 L790.6 1319.6 L792.0 1319.2 L792.8 1319.9 L793.9 1320.4 L795.0 1321.2 L796.1 1322.7 L796.7 1322.8 L797.2 1323.8 L798.3 1325.3 L799.4 1327.5 L800.1 1328.6 L800.5 1330.1 L801.6 1333.2 L802.7 1337.5 L803.6 1340.2 L804.9 1341.8 L805.9 1343.7 L807.1 1343.3 L808.2 1343.6 L809.3 1343.2 L810.6 1343.7 L811.5 1342.2 L812.6 1340.8 L813.7 1339.3 L814.8 1337.8 L815.7 1336.7 L817.0 1340.0 L818.1 1343.9 L819.2 1347.2 L819.9 1348.2 L820.3 1349.8 L821.4 1352.1 L822.5 1355.0 L823.6 1357.5 L824.7 1360.1 L825.7 1362.1 L826.9 1361.4 L828.0 1361.4 L829.1 1359.9 L830.3 1359.8 L831.3 1358.7 L832.4 1358.2 L833.5 1357.6 L834.9 1356.4 L835.7 1358.0 L836.8 1360.7 L837.9 1363.3 L839.0 1363.8 L839.6 1365.6 L840.1 1365.6 L841.2 1366.5 L842.3 1368.2 L843.4 1368.3 L844.2 1369.1 L845.6 1368.8 L846.7 1368.9 L847.8 1368.3 L848.8 1367.9 L850.0 1371.7 L851.1 1374.8 L852.3 1378.5 L853.3 1379.6 L854.4 1380.9 L855.8 1381.9 L856.6 1384.0 L857.7 1386.2 L858.8 1389.2 L859.3 1390.0 L859.9 1390.2 L861.0 1390.3 L862.1 1390.2 L863.2 1390.2 L863.9 1390.0 L864.3 1390.9 L865.4 1394.5 L866.5 1397.2 L867.4 1399.4 L868.7 1400.5 L869.8 1402.2 L870.9 1403.7 L872.0 1405.1 L873.1 1404.6 L874.2 1404.3 L875.3 1404.9 L876.7 1404.0 L877.5 1402.7 L878.6 1403.0 L879.7 1401.0 L880.8 1399.8 L881.3 1400.6 L881.9 1400.7 L883.0 1403.1 L884.1 1404.4 L885.2 1406.1 L885.9 1406.2 L886.3 1405.6 L887.4 1407.4 L888.5 1410.2 L889.6 1411.7 L890.6 1412.0 L891.8 1410.5 L892.9 1408.0 L894.0 1406.5 L895.2 1405.1 L896.2 1403.5 L897.3 1403.5 L898.4 1401.5 L899.5 1401.3 L900.6 1399.4 L901.0 1399.2 L901.7 1401.8 L902.8 1404.7 L903.9 1409.2 L904.5 1410.9 L905.0 1413.2 L906.1 1415.7 L906.8 1417.9 L907.2 1419.1 L908.3 1421.7 L909.4 1424.2 L910.3 1426.0 L911.6 1423.5 L912.7 1421.9 L913.8 1420.2 L914.9 1420.4 L916.0 1421.6 L917.1 1422.4 L918.2 1421.9 L919.6 1423.5 L920.4 1425.1 L921.5 1426.7 L922.6 1428.9 L923.7 1431.6 L924.2 1431.8 L924.8 1429.5 L925.9 1426.6 L927.0 1421.5 L927.7 1420.2 L928.1 1419.2 L929.3 1415.6 L930.0 1416.3 L931.4 1417.5 L932.5 1418.8 L933.5 1420.9 L934.7 1427.2 L935.8 1432.4 L936.9 1434.1 L938.0 1436.9 L939.1 1438.5 L940.4 1440.6 L941.3 1439.5 L942.4 1439.3 L943.5 1438.0 L944.6 1437.3 L945.1 1437.1 L945.7 1437.7 L946.8 1438.6 L947.9 1438.7 L949.0 1441.1 L950.1 1441.0 L950.9 1441.8 L951.2 1440.4 L952.3 1437.4 L953.2 1433.5 L954.5 1430.1 L955.6 1427.9 L956.7 1424.6 L957.8 1423.1 L958.9 1424.2 L960.0 1425.9 L961.3 1427.8 L962.2 1429.6 L963.3 1432.2 L964.8 1434.8 L965.5 1437.6 L966.6 1441.0 L967.6 1444.0 L968.8 1439.8 L969.9 1436.7 L971.0 1433.1 L971.7 1430.1 L972.1 1429.3 L973.2 1424.1 L974.3 1420.7 L975.2 1417.3 L976.5 1416.4 L977.6 1415.6 L978.7 1414.9 L979.9 1413.9 L980.9 1412.8 L982.0 1412.1 L983.1 1410.5 L984.5 1409.2 L985.3 1408.6 L986.4 1407.3 L987.5 1408.1 L988.0 1406.9 L988.6 1406.8 L989.7 1404.1 L990.8 1403.9 L991.4 1402.4 L991.9 1402.4 L993.0 1401.9 L994.1 1402.4 L995.2 1402.3 L996.1 1402.3 L997.4 1404.5 L998.5 1406.6 L999.6 1408.5 L1000.0 1409.2 L1000.7 1405.4 L1001.8 1399.4 L1002.9 1392.8 L1003.7 1388.5 L1005.1 1386.0 L1006.2 1384.0 L1007.7 1381.4 L1008.4 1379.5 L1009.5 1377.0 L1010.7 1374.5 L1011.7 1377.3 L1012.8 1380.1 L1013.9 1382.9 L1014.6 1385.0 L1015.0 1384.2 L1016.1 1381.6 L1017.2 1378.8 L1017.7 1378.0 L1018.3 1377.6 L1019.4 1377.2 L1020.5 1376.8 L1020.9 1376.8 L1021.6 1369.4 L1022.8 1358.3 L1023.8 1355.2 L1024.9 1351.9 L1025.5 1350.1 L1026.0 1346.8 L1027.4 1337.4 L1028.2 1333.8 L1029.3 1329.3 L1030.2 1325.8 L1031.5 1319.4 L1032.6 1314.4 L1033.7 1309.6 L1034.8 1308.4 L1035.9 1308.1 L1037.0 1307.8 L1038.1 1305.6 L1039.0 1306.2 L1040.3 1309.1 L1041.4 1311.4 L1042.5 1314.2 L1043.6 1326.9 L1044.7 1326.2 L1045.8 1325.5 L1047.1 1324.6 L1048.0 1328.0 L1049.1 1331.4 L1050.6 1336.2 L1051.3 1335.6 L1052.4 1334.2 L1053.5 1333.4 L1054.1 1332.8 L1054.6 1335.1 L1055.7 1339.3 L1057.1 1344.3 L1057.9 1344.0 L1059.0 1343.8 L1060.1 1343.6 L1061.0 1343.2 L1062.3 1351.3 L1063.3 1357.1 L1064.5 1357.5 L1065.6 1357.9 L1066.7 1358.0 L1067.3 1358.2 L1067.8 1360.5 L1068.9 1364.5 L1070.3 1369.8 L1071.1 1370.3 L1072.2 1371.1 L1073.3 1371.5 L1074.2 1372.2 L1075.5 1379.3 L1076.6 1385.0 L1077.2 1388.4 L1077.7 1389.8 L1078.8 1392.8 L1079.9 1395.5 L1080.7 1397.6 L1082.1 1399.9 L1083.2 1401.3 L1084.2 1402.3 L1085.4 1402.0 L1086.5 1403.3 L1087.6 1401.9 L1088.7 1402.4 L1090.0 1402.3 L1090.9 1400.5 L1092.3 1397.7 L1093.1 1392.9 L1094.2 1386.5 L1095.1 1381.5 L1096.4 1378.7 L1097.4 1376.8 L1098.6 1364.5 L1099.3 1358.3 L1099.7 1352.0 L1101.1 1332.8 L1101.9 1331.8 L1103.0 1330.8 L1103.9 1329.2 L1105.2 1332.3 L1106.3 1334.4 L1106.7 1335.1 L1107.4 1342.7 L1108.5 1353.6 L1109.0 1358.2 L1109.6 1366.0 L1110.9 1381.4 L1111.8 1391.2 L1113.2 1404.6 L1114.0 1408.0 L1115.1 1412.5 L1115.5 1413.9 L1116.2 1412.9 L1117.3 1411.4 L1118.4 1410.1 L1119.0 1409.3 L1119.5 1407.6 L1120.6 1404.4 L1122.0 1400.1 L1122.8 1400.2 L1123.9 1400.7 L1125.0 1403.6 L1125.9 1403.6 L1127.2 1407.1 L1128.3 1408.5 L1129.4 1410.5 L1130.5 1409.4 L1131.6 1410.2 L1132.9 1409.4 L1133.8 1410.8 L1134.9 1411.9 L1136.4 1415.1 L1137.1 1413.2 L1138.2 1411.1 L1139.3 1408.2 L1139.9 1406.9 L1140.4 1405.5 L1141.5 1404.5 L1142.6 1402.7 L1143.3 1401.1 L1143.7 1400.4 L1144.8 1396.3 L1145.9 1393.1 L1146.8 1390.7 L1148.1 1389.8 L1149.2 1389.0 L1150.3 1388.5 L1151.4 1389.4 L1152.5 1390.9 L1153.6 1391.6 L1154.9 1392.0 L1155.8 1393.2 L1156.9 1393.0 L1158.0 1394.7 L1158.4 1395.2 L1159.1 1396.5 L1160.2 1399.9 L1160.7 1401.3 L1161.3 1399.1 L1162.4 1398.0 L1163.5 1393.7 L1164.7 1391.9 L1165.7 1390.4 L1166.8 1391.0 L1167.9 1390.7 L1168.8 1389.5 L1170.1 1390.7 L1171.2 1393.4 L1172.3 1395.3 L1173.4 1396.2 L1174.5 1396.1 L1175.6 1395.2 L1177.0 1395.2 L1177.8 1394.2 L1178.9 1393.0 L1180.0 1392.4 L1180.4 1391.8 L1181.1 1393.3 L1182.2 1395.0 L1183.3 1396.8 L1184.4 1400.1 L1185.1 1401.3 L1185.5 1401.1 L1186.6 1403.3 L1187.7 1404.7 L1188.8 1406.4 L1189.7 1408.1 L1191.0 1406.9 L1192.1 1405.6 L1193.2 1404.5 L1194.3 1403.5 L1195.4 1406.3 L1196.7 1410.4 L1197.6 1411.2 L1198.7 1410.7 L1200.1 1411.5 L1200.9 1413.8 L1202.0 1416.2 L1203.1 1419.1 L1203.6 1420.9 L1204.2 1420.9 L1205.3 1421.7 L1206.4 1422.6 L1207.1 1423.3 L1207.5 1423.0 L1208.6 1420.8 L1209.7 1418.7 L1210.6 1418.5 L1211.9 1417.5 L1213.0 1417.7 L1214.1 1416.1 L1215.2 1417.6 L1216.3 1421.0 L1217.5 1422.2 L1218.5 1421.2 L1219.6 1420.6 L1221.0 1420.9 L1221.8 1423.7 L1222.9 1427.6 L1224.0 1431.3 L1225.1 1430.7 L1226.2 1429.0 L1227.3 1428.8 L1228.0 1427.8 L1228.4 1429.2 L1229.5 1432.7 L1230.6 1435.9 L1231.4 1438.3 L1232.8 1439.1 L1233.9 1439.8 L1234.9 1441.9 L1236.1 1441.6 L1237.2 1441.5 L1238.3 1440.5 L1239.6 1440.7 L1240.5 1442.9 L1241.9 1444.1 L1242.7 1442.3 L1243.8 1438.6 L1244.9 1436.6 L1245.4 1434.8 L1246.0 1436.7 L1247.1 1437.6 L1248.2 1440.0 L1248.8 1441.6 L1249.3 1442.5 L1250.4 1443.7 L1251.5 1444.5 L1252.3 1443.9 L1253.7 1446.4 L1254.8 1448.1 L1255.9 1450.5 L1257.0 1452.3 L1258.1 1451.3 L1259.2 1451.0 L1260.4 1450.0 L1261.4 1448.8 L1262.5 1447.8 L1263.9 1447.5 L1264.7 1450.1 L1265.8 1451.5 L1266.9 1454.1 L1267.4 1455.8 L1268.0 1454.6 L1269.1 1452.4 L1269.7 1452.3 L1270.2 1452.4 L1271.3 1454.5 L1272.4 1456.3 L1273.5 1459.1 L1274.3 1460.3 L1275.7 1461.9 L1276.8 1463.1 L1277.9 1462.4 L1279.0 1463.7 L1280.1 1461.9 L1281.2 1462.7 L1282.3 1461.9 L1283.6 1460.4 L1284.5 1460.6 L1285.6 1460.1 L1286.7 1458.9 L1287.8 1460.4 L1288.9 1459.3 L1289.4 1459.0 L1290.0 1460.9 L1291.1 1461.9 L1292.2 1462.8 L1292.9 1463.6 L1293.3 1464.0 L1294.4 1465.2 L1295.5 1464.4 L1296.6 1465.7 L1297.7 1466.7 L1298.7 1466.0 L1299.9 1465.0 L1301.0 1463.0 L1302.1 1461.3 L1302.9 1460.2 L1303.2 1460.9 L1304.3 1462.8 L1305.4 1461.7 L1306.5 1464.2 L1308.0 1464.8 L1308.7 1465.0 L1309.8 1466.2 L1310.9 1467.6 L1312.0 1469.0 L1312.6 1469.5 L1313.1 1467.8 L1314.2 1467.9 L1315.3 1466.5 L1316.4 1464.6 L1317.2 1463.7 L1318.6 1460.9 L1319.7 1459.1 L1320.8 1459.2 L1321.9 1456.7 L1323.0 1455.4 L1324.1 1454.6 L1325.4 1453.3 L1326.3 1453.8 L1327.4 1455.4 L1328.5 1455.7 L1329.3 1456.6 L1330.0 1459.1 L1330.7 1459.9 L1331.8 1459.7 L1332.9 1460.6 L1333.5 1461.5 L1334.0 1461.1 L1335.1 1463.4 L1336.2 1463.3 L1337.0 1463.6 L1337.3 1462.4 L1338.4 1460.7 L1339.5 1458.4 L1340.4 1456.8 L1341.7 1457.6 L1342.8 1458.2 L1343.9 1461.3 L1344.4 1460.9 L1345.0 1461.0 L1346.1 1460.0 L1347.2 1461.1 L1348.1 1460.1 L1349.4 1460.0 L1350.5 1459.1 L1351.3 1459.1 L1352.7 1460.6 L1353.8 1463.0 L1354.3 1464.1 L1354.9 1463.5 L1356.0 1464.4 L1357.1 1462.6 L1357.8 1462.4 L1358.2 1462.7 L1359.3 1463.8 L1360.4 1466.1 L1361.5 1467.2 L1362.0 1468.2 L1362.6 1467.5 L1363.7 1465.0 L1364.8 1464.9 L1365.9 1466.4 L1367.0 1465.8 L1368.1 1466.6 L1369.2 1467.3 L1370.6 1468.3 L1371.4 1467.0 L1372.5 1465.7 L1373.6 1464.1 L1374.7 1462.1 L1375.2 1462.5 L1375.8 1462.0 L1376.9 1462.6 L1378.0 1463.3 L1379.1 1462.8 L1379.9 1462.3 L1380.2 1461.9 L1381.3 1464.0 L1382.4 1466.4 L1383.5 1467.0 L1384.5 1467.7 L1385.7 1469.7 L1386.8 1470.1 L1387.9 1471.2 L1389.1 1471.7 L1390.1 1470.6 L1391.2 1468.8 L1392.1 1467.3 L1393.4 1469.0 L1394.5 1469.9 L1395.4 1471.7 L1396.7 1473.5 L1397.7 1475.2 L1398.9 1471.7 L1400.0 1469.2 L1401.1 1466.3 L1401.9 1464.7 L1402.2 1463.1 L1403.3 1461.3 L1404.4 1458.5 L1405.4 1455.6 L1406.6 1454.0 L1407.7 1454.7 L1408.8 1453.1 L1409.9 1453.9 L1411.0 1456.8 L1412.1 1456.8 L1413.0 1458.5 L1414.3 1457.6 L1415.4 1459.0 L1416.5 1458.7 L1417.0 1459.1 L1417.6 1460.3 L1418.7 1460.5 L1420.0 1461.7 L1420.9 1461.1 L1422.0 1460.4 L1423.2 1459.4 L1424.2 1462.1 L1425.3 1463.6 L1426.2 1465.5 L1427.5 1468.6 L1428.6 1470.2 L1429.7 1471.7 L1430.8 1472.3 L1431.9 1475.3 L1433.2 1476.5 L1434.1 1475.4 L1435.2 1473.0 L1436.7 1471.8 L1437.4 1471.5 L1438.5 1469.8 L1439.6 1470.1 L1440.1 1469.4 L1440.7 1469.2 L1441.8 1469.5 L1442.9 1469.2 L1444.1 1470.2 L1445.1 1469.5 L1446.2 1470.9 L1447.3 1469.9 L1448.3 1470.7 L1449.5 1468.5 L1450.6 1465.8 L1451.7 1464.8 L1452.8 1464.4 L1453.9 1465.6 L1455.2 1464.9 L1456.1 1466.2 L1457.2 1468.4 L1458.3 1469.0 L1458.7 1469.5 L1459.4 1469.3 L1460.5 1468.5 L1461.6 1468.4 L1462.2 1469.3 L1462.7 1470.0 L1463.8 1473.4 L1464.9 1475.1 L1465.7 1476.3 L1466.0 1476.7 L1467.1 1475.0 L1468.2 1475.9 L1469.1 1475.4 L1470.4 1475.0 L1471.5 1472.0 L1472.6 1471.6 L1473.7 1473.5 L1474.8 1475.4 L1475.6 1476.4 L1477.0 1473.9 L1478.1 1471.7 L1479.6 1470.0 L1480.3 1470.9 L1481.4 1473.9 L1481.9 1475.2 L1482.5 1472.2 L1483.6 1468.9 L1484.9 1466.0 L1485.8 1466.4 L1486.9 1466.9 L1488.0 1466.2 L1489.1 1464.8 L1490.0 1465.5 L1491.3 1465.9 L1492.4 1465.8 L1493.5 1466.2 L1494.6 1465.5 L1495.7 1469.6 L1496.8 1472.0 L1497.4 1474.2 L1497.9 1475.8 L1499.0 1476.3 L1500.1 1480.2 L1501.1 1481.1 L1502.3 1480.1 L1503.4 1479.7 L1504.4 1477.7 L1505.6 1477.1 L1506.7 1478.3 L1507.4 1478.6 L1507.8 1476.6 L1508.9 1471.8 L1509.7 1469.4 L1511.1 1469.3 L1512.2 1469.7 L1513.7 1468.2 L1514.4 1466.4 L1515.5 1464.8 L1516.7 1463.5 L1517.7 1463.9 L1519.0 1466.1 L1519.9 1468.9 L1521.0 1470.8 L1522.0 1474.0 L1523.2 1475.7 L1524.3 1476.7 L1525.4 1477.1 L1525.9 1478.6 L1526.5 1479.3 L1527.6 1481.5 L1528.7 1480.8 L1529.4 1482.1 L1529.8 1480.9 L1530.9 1478.5 L1532.0 1477.2 L1533.1 1475.8 L1533.6 1475.2 L1534.2 1473.1 L1535.3 1472.3 L1536.4 1470.1 L1537.5 1468.2 L1538.6 1466.3 L1539.7 1467.1 L1541.0 1464.8 L1541.9 1465.7 L1543.0 1467.1 L1544.1 1468.3 L1545.2 1470.6 L1546.3 1471.8 L1547.4 1473.5 L1548.5 1476.1 L1549.1 1477.5 L1549.6 1477.7 L1550.7 1479.9 L1552.1 1482.7 L1552.9 1481.8 L1554.0 1480.1 L1554.9 1478.8 L1556.2 1475.5 L1557.3 1473.2 L1558.4 1469.4 L1559.5 1468.7 L1560.6 1467.9 L1561.4 1465.9 L1562.8 1465.2 L1564.2 1465.4 L1565.0 1468.1 L1566.1 1469.7 L1567.2 1471.5 L1567.7 1471.8 L1568.3 1472.8 L1569.4 1476.5 L1570.5 1479.4 L1571.2 1481.1 L1571.6 1481.2 L1572.7 1482.4 L1573.8 1484.0 L1574.6 1485.0 L1576.0 1484.7 L1577.1 1482.0 L1578.1 1482.3 L1579.3 1481.0 L1580.4 1478.5 L1581.6 1477.1 L1582.6 1474.7 L1583.7 1472.1 L1584.6 1470.7 L1585.9 1472.5 L1587.0 1474.6 L1587.9 1475.3 L1589.2 1475.2 L1590.3 1474.5 L1591.6 1475.1 L1592.5 1476.0 L1593.6 1476.2 L1594.3 1477.4 L1594.7 1476.5 L1595.8 1477.2 L1596.9 1474.4 L1597.8 1474.1 L1599.1 1472.3 L1600.2 1468.9 L1601.3 1468.2 L1602.4 1468.9 L1603.5 1467.7 L1604.8 1468.6 L1605.7 1468.9 L1606.8 1468.0 L1607.8 1467.1 L1609.0 1468.5 L1610.1 1470.6 L1611.0 1471.0 L1612.3 1469.2 L1613.4 1465.0 L1614.1 1464.8 L1614.5 1465.0 L1615.6 1465.5 L1616.7 1465.9 L1617.5 1465.9 L1618.9 1464.5 L1620.3 1462.5 L1621.1 1462.9 L1622.2 1463.5 L1623.3 1463.5 L1624.0 1464.1 L1624.4 1463.0 L1625.5 1460.3 L1626.8 1456.6 L1627.7 1455.0 L1628.8 1452.8 L1629.9 1450.3 L1630.3 1449.7 L1631.0 1447.4 L1632.1 1444.1 L1632.6 1442.8 L1633.2 1439.7 L1634.3 1434.1 L1634.9 1431.1 L1635.4 1430.2 L1636.5 1428.8 L1637.6 1427.2 L1638.4 1426.6 L1639.8 1424.0 L1640.9 1422.1 L1641.9 1420.0 L1643.1 1422.2 L1644.2 1422.2 L1645.4 1424.6 L1646.4 1424.3 L1647.5 1424.6 L1648.6 1425.7 L1649.5 1425.4 L1650.8 1428.7 L1651.9 1431.6 L1652.3 1432.3 L1653.0 1433.7 L1654.1 1436.1 L1655.2 1438.1 L1655.8 1439.3 L1656.3 1440.5 L1657.4 1443.6 L1658.1 1445.1 L1658.5 1446.5 L1659.6 1449.9 L1660.4 1452.0 L1661.8 1454.0 L1662.9 1455.4 L1663.9 1456.6 L1665.1 1456.6 L1666.2 1458.0 L1667.3 1458.2 L1668.1 1457.8 L1669.5 1456.1 L1670.9 1454.4 L1671.7 1453.2 L1672.8 1453.0 L1673.9 1450.8 L1674.3 1450.8 L1675.0 1451.6 L1676.1 1452.4 L1677.2 1453.7 L1677.8 1453.9 L1678.3 1455.5 L1679.4 1459.1 L1680.1 1461.4 L1680.5 1462.8 L1681.6 1465.8 L1682.5 1468.3 L1683.8 1473.0 L1685.2 1477.5 L1686.0 1479.2 L1687.1 1481.9 L1687.6 1483.3 L1688.2 1482.9 L1689.3 1482.6 L1690.4 1482.9 L1691.5 1482.1 L1692.2 1482.1 L1692.6 1481.3 L1693.7 1480.5 L1694.8 1480.8 L1695.9 1478.1 L1696.4 1478.8 L1697.0 1478.6 L1698.1 1480.2 L1699.2 1483.0 L1699.9 1483.4 L1700.3 1483.3 L1701.4 1485.4 L1702.5 1486.8 L1703.8 1488.7 L1704.7 1486.8 L1705.8 1485.6 L1706.9 1484.1 L1707.5 1484.5 L1708.0 1484.3 L1709.1 1484.7 L1710.2 1485.0 L1711.4 1486.7 L1712.4 1486.3 L1713.5 1486.3 L1714.6 1485.5 L1715.7 1484.8 L1716.1 1485.7 L1716.8 1484.7 L1717.9 1483.7 L1719.0 1483.5 L1719.6 1482.2 L1720.1 1481.2 L1721.2 1480.9 L1722.3 1478.9 L1723.0 1478.7 L1723.4 1479.4 L1724.5 1479.3 L1725.6 1480.6 L1727.0 1482.1 L1727.8 1484.1 L1728.9 1487.5 L1729.3 1488.7 L1730.0 1488.3 L1731.1 1489.6 L1731.5 1489.3 L1732.2 1489.9 L1733.3 1491.2 L1734.4 1492.7 L1735.7 1493.9 L1736.6 1494.7 L1737.7 1495.8 L1738.8 1495.1 L1739.9 1497.3 L1740.8 1497.1 L1742.1 1496.6 L1743.2 1497.1 L1744.3 1497.7 L1745.4 1496.0 L1746.1 1497.1 L1746.5 1497.1 L1747.6 1496.7 L1748.7 1496.1 L1749.8 1496.8 L1750.9 1495.5 L1751.9 1496.2 L1753.1 1495.2 L1754.2 1494.7 L1755.3 1495.1 L1756.6 1495.0 L1757.5 1493.8 L1758.6 1492.3 L1759.7 1492.2 L1760.8 1491.2 L1761.7 1489.9 L1763.0 1490.9 L1764.1 1492.3 L1765.2 1493.7 L1765.8 1494.6 L1766.3 1495.4 L1767.4 1495.2 L1768.5 1497.0 L1769.6 1498.0 L1770.5 1498.7 L1771.8 1499.2 L1772.9 1501.3 L1774.0 1500.9 L1775.1 1502.5 L1776.2 1502.0 L1777.3 1503.1 L1778.4 1501.4 L1779.8 1502.1 L1780.6 1502.7 L1781.7 1500.1 L1782.8 1499.9 L1783.9 1498.4 L1784.4 1499.4 L1785.0 1499.2 L1786.1 1501.5 L1787.2 1501.9 L1787.9 1503.1 L1788.3 1503.8 L1789.4 1501.5 L1790.5 1501.0 L1791.6 1502.0 L1792.5 1500.9 L1793.8 1499.4 L1794.9 1498.8 L1796.0 1498.2 L1797.1 1497.0 L1798.3 1497.0 L1799.3 1497.0 L1800.4 1500.1 L1801.5 1501.0 L1803.0 1502.0 L1803.7 1502.5 L1804.8 1502.6 L1805.9 1501.3 L1807.0 1502.0 L1807.6 1502.6 L1808.1 1503.0 L1809.2 1501.5 L1810.3 1500.9 L1811.4 1498.7 L1812.3 1498.5 L1813.6 1495.8 L1814.7 1495.7 L1815.7 1493.8 L1816.9 1494.6 L1818.0 1496.7 L1819.2 1497.3 L1820.2 1498.1 L1821.3 1498.1 L1822.7 1498.5 L1823.5 1499.7 L1824.6 1503.6 L1825.7 1505.6" fill="none" stroke="#0070C0" stroke-width="6.5" stroke-linejoin="round" stroke-linecap="round"/>
<path d="M207.7 742.6 L208.2 747.3 L209.3 756.5 L210.4 764.4 L211.6 772.8 L212.6 776.6 L213.7 780.8 L214.6 784.4 L215.9 788.7 L217.0 792.4 L218.1 795.9 L219.2 800.0 L220.3 804.0 L221.6 808.7 L222.5 810.7 L223.6 813.4 L224.7 816.0 L225.8 818.2 L226.2 819.1 L226.9 818.7 L228.0 818.0 L229.1 816.8 L230.2 816.2 L230.9 815.7 L231.3 816.2 L232.4 816.1 L233.5 816.9 L234.6 817.3 L235.5 818.0 L236.8 823.3 L237.9 827.1 L239.0 830.7 L240.1 831.7 L241.2 833.1 L242.3 833.9 L243.6 835.4 L244.5 835.7 L245.6 836.8 L246.7 837.5 L247.8 839.0 L248.3 838.8 L248.9 840.6 L250.0 841.3 L251.1 843.1 L252.2 846.0 L252.9 846.8 L253.3 847.4 L254.4 848.9 L255.5 851.2 L256.4 851.7 L257.7 848.6 L258.8 844.8 L259.9 842.3 L261.0 842.8 L262.1 843.0 L263.2 843.0 L264.5 843.5 L265.4 846.1 L266.5 848.5 L267.6 850.7 L268.7 853.2 L269.1 853.9 L269.8 855.2 L270.9 857.8 L272.0 859.8 L273.1 861.7 L273.8 863.2 L274.2 864.8 L275.3 867.3 L276.4 870.5 L277.5 873.8 L278.4 875.9 L279.7 874.9 L280.8 873.8 L281.9 873.3 L283.0 872.5 L284.1 874.1 L285.2 876.4 L286.3 877.9 L287.7 880.5 L288.5 881.6 L289.6 882.9 L290.7 884.2 L291.8 885.8 L292.3 886.4 L292.9 888.3 L294.0 892.1 L295.1 896.0 L295.8 897.9 L296.2 898.6 L297.3 901.7 L298.4 903.7 L299.5 906.0 L300.4 908.5 L301.7 908.0 L302.8 906.3 L303.9 905.2 L305.0 904.2 L306.2 903.9 L307.2 903.4 L308.3 902.1 L309.4 901.5 L310.9 901.4 L311.6 902.2 L312.7 903.5 L313.8 905.1 L314.9 906.1 L315.5 906.1 L316.0 908.1 L317.1 909.3 L318.2 912.6 L319.3 914.7 L320.4 918.1 L321.3 920.0 L322.6 918.5 L323.7 916.4 L324.8 915.2 L325.9 913.2 L327.1 911.9 L328.1 914.0 L329.2 915.7 L330.3 918.2 L331.7 921.1 L332.5 923.7 L333.6 926.2 L334.7 928.7 L335.8 931.0 L336.4 932.8 L336.9 933.6 L338.0 935.6 L339.1 938.7 L339.9 939.6 L340.2 939.9 L341.3 938.2 L342.4 938.4 L343.5 937.0 L344.5 937.4 L345.7 934.4 L346.8 932.6 L348.0 929.4 L349.0 929.7 L350.1 928.2 L351.4 928.1 L352.3 930.0 L353.4 932.6 L354.5 934.4 L355.6 935.5 L356.1 937.5 L356.7 938.2 L357.8 938.9 L358.9 940.5 L360.0 940.0 L361.1 941.2 L361.9 942.0 L363.3 941.6 L364.4 939.6 L365.5 938.6 L366.5 938.7 L367.7 938.7 L368.8 938.4 L369.9 938.6 L371.0 939.1 L372.3 938.5 L373.2 938.4 L374.3 941.5 L375.4 941.6 L375.8 942.2 L376.5 942.5 L377.6 946.1 L378.7 947.8 L380.0 948.8 L380.9 947.3 L382.0 947.8 L383.1 944.9 L384.2 944.7 L385.1 943.1 L386.4 942.5 L387.5 939.5 L388.6 938.1 L389.2 937.3 L389.7 938.1 L390.8 939.6 L391.9 941.4 L393.0 940.9 L394.3 943.1 L395.2 943.5 L396.3 944.3 L397.4 944.7 L398.5 945.2 L399.0 945.5 L399.6 946.6 L400.7 948.8 L401.8 950.6 L402.9 952.0 L403.6 953.6 L404.0 955.0 L405.1 958.2 L406.2 961.6 L407.1 964.1 L408.4 965.0 L409.5 966.7 L410.6 966.8 L411.7 968.8 L412.8 967.6 L413.9 965.3 L415.0 964.8 L416.1 962.9 L417.5 960.6 L418.3 960.4 L419.4 958.6 L420.5 957.5 L421.6 956.5 L422.7 955.4 L423.3 956.0 L423.8 957.0 L424.9 962.3 L425.7 963.9 L426.0 965.0 L427.1 964.8 L428.2 966.9 L429.3 966.2 L430.4 968.3 L431.4 968.7 L432.6 967.9 L433.7 968.1 L434.8 967.7 L435.9 967.4 L437.2 967.6 L438.1 967.6 L439.2 968.4 L440.3 970.4 L441.4 970.0 L441.9 970.9 L442.5 973.2 L443.6 975.8 L444.7 978.1 L445.4 979.3 L445.8 979.3 L446.9 978.1 L448.0 978.6 L449.1 978.0 L450.0 977.9 L451.3 977.3 L452.4 975.8 L453.5 975.7 L454.6 974.5 L455.7 976.1 L456.8 978.7 L457.9 980.2 L459.3 983.7 L460.1 987.2 L461.2 988.0 L462.3 991.3 L462.8 993.2 L463.4 991.1 L464.5 984.9 L465.6 981.2 L466.2 978.1 L466.7 977.7 L467.8 976.9 L468.9 975.6 L470.0 976.0 L471.1 974.4 L472.0 974.6 L473.3 979.2 L474.4 983.2 L475.5 987.2 L476.6 988.3 L477.7 990.4 L478.8 990.8 L479.9 992.0 L481.0 993.7 L482.5 995.4 L483.2 994.3 L484.3 994.5 L485.4 993.0 L486.5 992.9 L487.6 992.3 L488.7 990.4 L489.8 989.0 L490.6 989.6 L490.9 990.6 L492.0 990.6 L493.1 991.9 L494.2 991.0 L495.3 991.5 L496.4 993.0 L497.5 993.5 L498.6 993.4 L499.7 996.1 L500.8 995.4 L502.2 996.5 L503.0 996.4 L504.1 996.4 L505.2 994.5 L506.3 993.8 L506.8 994.3 L507.4 994.3 L508.5 995.7 L509.6 997.4 L510.7 998.5 L511.8 999.7 L512.6 1001.1 L514.0 1001.4 L515.1 1001.8 L516.2 1002.4 L517.3 1003.1 L518.4 1003.3 L519.6 1004.6 L520.6 1005.1 L521.7 1005.2 L522.8 1007.1 L523.9 1007.5 L525.0 1007.6 L526.1 1008.7 L527.2 1008.6 L527.7 1009.0 L528.3 1007.9 L529.4 1008.5 L530.0 1008.5 L530.5 1007.2 L531.6 1007.1 L532.7 1006.9 L533.8 1006.3 L534.6 1006.1 L536.0 1006.4 L537.1 1009.0 L538.2 1008.2 L539.3 1009.5 L540.4 1009.9 L541.6 1011.8 L542.6 1009.4 L543.7 1008.1 L544.8 1007.0 L546.2 1004.9 L547.0 1004.2 L548.1 1003.6 L549.2 1003.2 L550.3 1001.1 L550.9 1001.5 L551.4 1002.5 L552.5 1003.5 L553.6 1005.9 L554.7 1006.8 L555.5 1008.5 L556.9 1007.8 L558.0 1007.0 L559.1 1006.9 L560.1 1006.9 L561.3 1006.0 L562.4 1004.4 L563.5 1004.0 L564.8 1003.6 L565.7 1000.5 L567.1 995.7 L567.9 995.4 L569.0 993.8 L570.1 991.7 L571.2 992.2 L571.7 990.8 L572.3 992.8 L573.4 995.5 L574.5 995.7 L575.6 999.9 L576.4 1000.4 L576.7 999.8 L577.8 1001.6 L578.9 1002.7 L580.0 1003.2 L581.0 1003.6 L582.2 1003.1 L583.3 1002.0 L584.4 1001.4 L585.7 999.1 L586.6 999.3 L587.7 998.5 L588.8 999.0 L589.9 998.4 L591.0 998.0 L592.1 997.5 L592.6 998.1 L593.2 998.8 L594.3 1000.5 L595.4 1002.6 L596.1 1003.8 L596.5 1002.4 L597.6 1001.4 L598.7 997.9 L599.6 997.0 L600.9 999.3 L602.0 1000.4 L603.0 1002.5 L604.2 1001.1 L605.3 1001.1 L606.4 1000.9 L607.7 1000.3 L608.6 997.7 L609.7 996.6 L610.8 992.8 L611.9 992.0 L612.3 990.9 L613.0 990.2 L614.1 990.0 L615.2 989.5 L616.3 989.2 L617.0 989.9 L617.4 991.2 L618.5 994.2 L619.6 996.8 L620.4 997.9 L621.8 1000.0 L622.9 1000.3 L624.0 1000.9 L625.1 1002.7 L626.2 1006.0 L627.3 1007.1 L628.6 1009.7 L629.5 1008.2 L630.6 1008.1 L632.0 1008.4 L632.8 1006.6 L633.9 1002.6 L635.0 999.2 L636.1 996.3 L637.2 991.9 L637.8 990.9 L638.3 990.9 L639.4 990.9 L640.5 989.7 L641.8 989.8 L642.7 992.1 L643.8 995.9 L644.8 999.1 L646.0 1000.5 L647.1 1002.8 L648.2 1002.2 L648.7 1003.7 L649.3 1002.3 L650.4 1001.3 L651.5 997.6 L652.9 995.8 L653.7 994.6 L654.8 993.8 L655.9 994.0 L657.0 993.5 L658.1 991.2 L658.7 990.9 L659.2 990.3 L660.3 992.1 L661.4 992.1 L662.5 992.8 L663.3 993.3 L664.7 996.2 L665.8 997.1 L666.8 998.1 L668.0 996.8 L669.1 996.6 L670.2 994.3 L671.4 993.2 L672.4 991.2 L673.5 991.5 L674.6 990.3 L675.7 990.1 L676.8 988.1 L677.2 987.5 L677.9 988.5 L679.0 988.3 L680.1 989.0 L681.2 988.9 L681.9 989.7 L682.3 989.8 L683.4 990.2 L684.5 990.1 L685.6 991.9 L686.5 992.2 L687.8 990.7 L688.9 990.9 L690.0 989.6 L691.2 988.7 L692.2 987.8 L693.3 987.4 L694.4 986.0 L695.8 984.1 L696.6 982.4 L697.7 981.1 L698.8 979.9 L699.9 978.8 L700.4 978.1 L701.0 978.1 L702.1 977.9 L703.2 977.1 L704.3 978.3 L705.4 978.0 L706.2 978.4 L707.6 981.4 L708.7 982.3 L709.8 982.4 L710.9 985.8 L712.0 986.4 L713.1 984.8 L714.2 983.7 L715.3 980.8 L716.7 979.5 L717.5 979.0 L718.6 979.7 L719.7 978.6 L720.1 978.1 L720.8 979.4 L721.9 982.3 L723.0 985.8 L723.6 986.5 L724.1 987.0 L725.2 985.7 L726.3 984.8 L727.4 984.7 L728.3 985.3 L729.6 982.1 L730.7 980.6 L731.8 977.3 L732.2 977.0 L732.9 977.5 L734.0 978.9 L735.1 981.3 L736.4 981.9 L737.3 984.8 L738.4 986.6 L739.9 991.0 L740.6 991.9 L741.7 990.8 L742.8 991.1 L743.9 990.6 L745.0 989.9 L746.1 990.7 L746.8 989.8 L747.2 988.0 L748.3 985.5 L749.4 981.4 L750.5 977.4 L751.4 974.7 L752.7 974.0 L753.8 974.6 L754.9 974.4 L756.1 973.7 L757.1 975.2 L758.2 978.0 L759.6 979.4 L760.4 977.6 L761.5 977.5 L762.6 976.9 L763.7 975.7 L764.2 974.2 L764.8 974.1 L765.9 974.7 L767.0 973.6 L768.1 974.8 L768.8 973.7 L769.2 974.5 L770.3 974.7 L771.4 977.2 L772.5 978.4 L773.5 979.3 L774.7 979.0 L775.8 979.2 L776.9 979.1 L778.0 977.8 L779.3 978.3 L780.2 977.8 L781.3 978.0 L782.4 976.2 L783.5 977.1 L784.6 976.4 L785.1 975.8 L785.7 979.4 L786.8 982.8 L787.4 985.4 L787.9 984.7 L789.0 986.1 L790.1 986.2 L791.2 986.6 L792.3 986.0 L793.4 986.1 L794.3 986.4 L795.6 983.7 L796.7 980.8 L797.8 977.0 L798.9 977.5 L800.0 979.5 L801.1 979.2 L802.5 980.4 L803.3 981.5 L804.4 984.3 L805.5 988.4 L805.9 988.6 L806.6 990.1 L807.7 992.8 L808.8 997.3 L809.4 997.8 L809.9 997.0 L811.0 994.7 L812.1 991.1 L813.2 987.5 L814.1 986.4 L815.4 985.9 L816.5 984.3 L817.6 983.5 L818.7 983.6 L819.4 983.1 L819.8 983.9 L820.9 984.2 L822.0 986.7 L823.1 988.4 L824.5 989.8 L825.3 991.0 L826.4 993.1 L827.5 994.5 L828.6 994.6 L829.1 995.7 L829.7 996.1 L830.8 995.6 L831.9 994.3 L833.0 994.3 L833.8 993.3 L834.1 993.7 L835.2 994.4 L836.3 996.3 L837.4 997.6 L838.4 998.0 L839.6 997.8 L840.7 998.0 L841.8 998.0 L843.0 998.0 L844.0 999.5 L845.1 1001.6 L846.2 1005.0 L847.3 1007.3 L847.7 1007.3 L848.4 1008.3 L849.5 1008.7 L850.6 1010.0 L851.7 1009.8 L852.3 1010.7 L852.8 1010.5 L853.9 1010.2 L855.0 1007.8 L856.1 1008.5 L857.0 1007.3 L858.3 1010.7 L859.4 1012.6 L860.5 1013.4 L861.6 1015.4 L862.7 1012.2 L863.8 1010.7 L864.9 1007.9 L866.2 1006.2 L867.1 1005.2 L868.2 1003.5 L869.3 1003.0 L869.7 1002.7 L870.4 1004.6 L871.5 1004.8 L872.6 1007.9 L873.7 1010.1 L874.3 1010.9 L874.8 1011.8 L875.9 1014.1 L877.0 1016.5 L877.8 1017.7 L879.2 1016.7 L880.3 1016.4 L881.4 1017.0 L882.5 1016.5 L883.6 1018.1 L884.7 1018.8 L885.8 1021.3 L886.9 1022.5 L888.3 1023.6 L889.1 1022.1 L890.2 1021.8 L891.3 1021.3 L892.4 1019.5 L892.9 1018.8 L893.5 1020.2 L894.6 1020.1 L895.7 1021.9 L896.8 1023.6 L897.9 1023.1 L898.7 1024.5 L900.1 1025.8 L901.2 1028.4 L902.3 1028.5 L903.3 1030.5 L904.5 1031.1 L905.6 1030.8 L906.7 1030.8 L907.8 1031.2 L908.9 1031.1 L910.3 1031.6 L911.1 1033.2 L912.2 1032.3 L913.3 1035.2 L914.4 1035.1 L915.5 1035.8 L916.6 1036.5 L917.2 1037.3 L917.7 1037.0 L918.8 1037.1 L919.9 1035.5 L921.0 1034.9 L921.9 1035.0 L923.2 1036.1 L924.3 1035.3 L925.4 1036.0 L926.5 1036.6 L927.6 1037.2 L928.8 1037.4 L930.0 1037.3 L930.9 1037.9 L932.0 1038.3 L933.1 1037.4 L934.2 1038.7 L934.6 1038.7 L935.3 1040.0 L936.4 1040.9 L937.5 1041.4 L938.6 1041.4 L939.3 1043.3 L939.7 1042.5 L940.8 1043.8 L941.9 1045.4 L942.8 1046.2 L944.1 1045.3 L945.2 1044.0 L946.3 1043.3 L947.4 1040.9 L948.5 1039.4 L949.6 1038.2 L950.7 1038.7 L952.0 1037.3 L952.9 1037.7 L954.0 1040.0 L955.1 1041.2 L955.5 1041.5 L956.2 1042.1 L957.3 1041.9 L958.4 1040.9 L959.5 1040.0 L960.1 1039.5 L960.6 1040.0 L961.7 1038.5 L962.8 1036.1 L963.9 1034.8 L964.3 1035.6 L965.0 1036.9 L966.1 1038.7 L967.2 1039.7 L968.3 1041.6 L969.4 1040.7 L970.5 1040.7 L971.6 1039.8 L972.9 1039.3 L973.8 1037.5 L974.9 1035.5 L976.4 1032.8 L977.1 1029.6 L978.2 1025.0 L979.2 1021.2 L980.4 1012.3 L981.5 1004.9 L982.9 986.4 L983.8 944.6 L984.7 898.3 L986.1 863.5 L987.0 848.2 L987.5 840.3 L988.1 835.9 L989.2 828.2 L989.8 824.0 L990.3 825.4 L991.4 830.1 L992.1 833.2 L992.5 841.2 L993.5 863.5 L994.9 898.3 L996.1 921.4 L996.8 949.3 L997.7 972.5 L999.1 991.0 L1000.2 1003.9 L1000.7 1009.6 L1001.3 1011.0 L1002.4 1013.5 L1003.5 1016.1 L1004.2 1017.7 L1004.6 1017.1 L1005.7 1015.8 L1006.8 1014.4 L1007.9 1013.1 L1008.8 1011.9 L1010.1 1012.8 L1011.2 1013.6 L1012.3 1013.2 L1013.4 1011.4 L1014.5 1010.1 L1015.3 1008.4 L1016.7 1012.5 L1018.1 1016.5 L1018.9 1017.5 L1020.0 1016.8 L1021.1 1017.9 L1021.6 1017.7 L1022.2 1016.9 L1023.3 1014.4 L1024.4 1013.4 L1025.1 1011.8 L1025.5 1010.0 L1026.6 1006.3 L1027.9 1002.6 L1028.8 999.2 L1030.2 994.5 L1031.0 994.1 L1032.1 994.0 L1033.2 993.4 L1033.9 993.3 L1034.3 991.8 L1035.4 987.6 L1036.7 982.9 L1037.6 981.8 L1038.7 979.9 L1040.1 978.2 L1040.9 974.3 L1042.0 970.0 L1042.5 967.9 L1043.1 966.8 L1044.2 966.5 L1045.3 966.5 L1045.9 965.5 L1046.4 966.2 L1047.5 966.9 L1048.6 967.6 L1049.4 968.9 L1050.8 971.2 L1051.9 974.5 L1052.9 976.0 L1054.1 976.0 L1055.2 978.1 L1056.4 978.2 L1057.4 977.6 L1058.5 976.7 L1059.6 975.8 L1061.0 974.8 L1061.8 973.2 L1062.9 970.9 L1064.0 968.7 L1064.5 967.8 L1065.1 961.4 L1066.2 950.5 L1066.8 944.6 L1067.3 934.2 L1068.0 921.4 L1068.4 907.6 L1069.1 886.7 L1069.5 880.0 L1070.5 863.5 L1071.9 828.7 L1072.8 807.0 L1073.3 796.3 L1073.9 792.7 L1075.0 786.2 L1075.6 783.4 L1076.1 788.0 L1077.2 797.2 L1077.9 803.2 L1078.3 813.8 L1078.9 828.7 L1079.4 842.7 L1080.3 863.5 L1081.7 898.3 L1082.6 921.4 L1083.5 944.6 L1084.9 962.4 L1085.4 967.8 L1086.0 974.9 L1087.2 987.5 L1088.2 992.6 L1088.8 995.6 L1089.3 994.9 L1090.4 993.0 L1091.9 991.0 L1092.6 987.9 L1093.7 983.5 L1094.2 981.7 L1094.8 977.9 L1095.9 971.5 L1097.0 965.5 L1098.1 952.6 L1099.3 940.0 L1100.4 898.3 L1101.6 851.9 L1102.8 805.5 L1103.9 735.9 L1104.4 620.0 L1104.7 585.7 L1105.4 520.2 L1105.8 456.1 L1107.0 275.2 L1108.0 200.1 L1108.9 136.0 L1110.2 72.1 L1111.0 36.7 L1111.3 53.8 L1112.4 105.9 L1113.1 136.0 L1113.5 182.9 L1114.5 275.2 L1115.7 397.8 L1117.0 520.2 L1117.4 620.0 L1117.9 662.7 L1118.3 689.6 L1119.0 726.6 L1119.7 759.1 L1120.1 792.9 L1120.6 828.7 L1121.5 875.1 L1122.3 898.9 L1122.9 916.8 L1123.4 924.4 L1124.8 944.6 L1125.6 953.1 L1126.6 963.2 L1127.8 970.9 L1129.0 978.3 L1130.0 985.2 L1131.3 993.3 L1132.2 996.5 L1133.3 1000.2 L1134.1 1002.6 L1134.4 1004.1 L1135.5 1008.5 L1136.4 1011.9 L1137.7 1014.7 L1138.8 1016.9 L1139.9 1018.8 L1141.0 1021.0 L1142.1 1022.9 L1142.9 1024.6 L1143.2 1025.6 L1144.5 1029.3 L1145.4 1027.8 L1146.5 1025.8 L1147.6 1024.3 L1148.7 1022.1 L1149.1 1021.3 L1149.8 1023.2 L1150.9 1023.4 L1151.4 1024.8 L1152.0 1024.4 L1153.1 1020.7 L1154.2 1019.3 L1154.9 1018.9 L1155.3 1018.9 L1156.4 1019.4 L1157.5 1022.2 L1158.4 1022.3 L1159.7 1020.4 L1160.8 1018.0 L1161.9 1016.5 L1163.0 1018.3 L1164.2 1021.2 L1165.2 1019.6 L1166.3 1018.9 L1167.7 1016.6 L1168.5 1013.4 L1169.6 1008.9 L1170.7 1004.8 L1171.8 1003.3 L1172.9 1001.9 L1173.5 1000.2 L1174.0 1001.9 L1175.1 1003.8 L1176.2 1006.2 L1177.0 1007.2 L1177.3 1007.0 L1178.4 1008.3 L1179.5 1007.7 L1180.4 1008.4 L1181.6 1014.2 L1182.8 1011.8 L1183.9 1007.5 L1185.0 1005.6 L1185.5 1003.8 L1186.1 1005.3 L1187.2 1007.6 L1188.3 1009.5 L1189.7 1010.8 L1190.5 1011.3 L1191.6 1011.3 L1192.7 1011.9 L1193.2 1011.9 L1193.8 1011.9 L1194.9 1014.3 L1196.0 1014.3 L1196.7 1015.3 L1197.1 1014.6 L1198.2 1013.7 L1199.3 1012.2 L1200.1 1011.8 L1201.5 1014.4 L1202.6 1016.2 L1203.7 1017.5 L1204.8 1019.9 L1205.9 1019.6 L1207.0 1018.2 L1208.3 1017.6 L1209.2 1017.5 L1210.3 1018.3 L1211.7 1018.9 L1212.5 1019.5 L1213.6 1020.4 L1214.7 1021.3 L1215.8 1023.4 L1216.4 1023.5 L1216.9 1025.2 L1218.0 1028.4 L1219.1 1031.2 L1219.9 1032.9 L1220.2 1033.7 L1221.3 1033.8 L1222.4 1035.8 L1223.3 1036.3 L1224.6 1036.8 L1225.7 1037.0 L1226.8 1037.0 L1228.0 1037.4 L1229.0 1036.5 L1230.1 1035.2 L1231.4 1033.9 L1232.3 1034.7 L1233.4 1038.3 L1234.5 1040.5 L1235.6 1043.0 L1236.1 1043.2 L1236.7 1043.3 L1237.8 1042.8 L1238.9 1043.0 L1239.6 1043.2 L1240.0 1043.3 L1241.1 1039.6 L1242.2 1039.1 L1243.3 1036.4 L1244.2 1035.2 L1245.5 1034.5 L1246.6 1034.2 L1247.7 1032.6 L1248.8 1035.3 L1249.9 1037.0 L1251.2 1041.0 L1252.1 1040.3 L1253.2 1041.7 L1254.6 1040.8 L1255.4 1042.6 L1256.5 1046.2 L1257.0 1047.7 L1257.6 1046.8 L1258.7 1046.4 L1259.8 1046.4 L1260.9 1045.3 L1261.6 1044.4 L1262.0 1044.7 L1263.1 1043.0 L1264.2 1043.4 L1265.3 1042.3 L1266.7 1040.7 L1267.5 1042.3 L1268.6 1043.0 L1269.7 1045.0 L1270.9 1045.6 L1271.9 1047.2 L1273.0 1046.6 L1274.3 1049.0 L1275.2 1049.0 L1276.3 1046.0 L1277.4 1046.0 L1277.8 1045.4 L1278.5 1045.6 L1279.6 1044.9 L1280.7 1044.0 L1281.8 1042.0 L1282.9 1042.1 L1284.0 1044.4 L1285.1 1044.7 L1286.2 1046.3 L1287.1 1049.0 L1288.4 1050.8 L1289.5 1051.5 L1290.6 1051.4 L1291.7 1053.3 L1292.9 1055.6 L1293.9 1052.8 L1295.0 1050.7 L1296.4 1048.4 L1297.2 1048.6 L1298.3 1047.4 L1299.4 1049.0 L1300.5 1048.8 L1301.0 1048.6 L1301.6 1049.7 L1302.7 1051.9 L1303.8 1052.9 L1304.5 1053.5 L1304.9 1054.0 L1306.0 1054.3 L1307.1 1052.5 L1308.2 1051.9 L1309.1 1052.4 L1310.4 1051.5 L1311.5 1049.2 L1312.6 1049.1 L1313.1 1048.4 L1313.7 1048.8 L1314.8 1048.2 L1315.9 1050.6 L1317.2 1050.3 L1318.1 1049.9 L1319.2 1048.8 L1320.3 1048.7 L1321.4 1049.8 L1321.9 1048.8 L1322.5 1049.3 L1323.6 1049.2 L1324.7 1049.9 L1325.8 1049.7 L1326.5 1050.2 L1326.9 1051.4 L1328.0 1051.2 L1329.3 1052.4 L1330.0 1051.9 L1331.3 1051.2 L1332.4 1049.1 L1333.5 1048.5 L1334.6 1046.7 L1335.7 1045.3 L1336.5 1044.4 L1337.9 1043.2 L1339.0 1043.0 L1340.1 1043.7 L1341.2 1041.5 L1341.6 1042.1 L1342.3 1042.4 L1343.4 1045.5 L1344.4 1046.1 L1345.6 1047.3 L1346.7 1048.4 L1348.1 1048.5 L1348.9 1048.3 L1350.0 1050.8 L1351.1 1051.7 L1352.0 1051.9 L1353.3 1051.2 L1354.4 1052.5 L1355.5 1052.3 L1356.0 1053.2 L1356.6 1051.0 L1357.7 1048.5 L1359.0 1045.4 L1359.9 1047.0 L1361.0 1046.4 L1362.5 1048.2 L1363.2 1047.3 L1364.3 1046.8 L1365.4 1045.2 L1365.9 1043.7 L1366.5 1045.4 L1367.6 1045.6 L1368.7 1045.3 L1369.9 1046.6 L1370.9 1047.0 L1372.0 1047.6 L1373.1 1047.6 L1374.2 1047.3 L1375.2 1047.4 L1376.4 1049.8 L1377.5 1051.5 L1378.2 1052.2 L1378.6 1050.5 L1379.7 1049.1 L1380.8 1048.1 L1381.5 1046.7 L1381.9 1047.3 L1383.0 1045.6 L1384.1 1044.0 L1385.2 1043.2 L1386.3 1042.8 L1387.4 1044.3 L1388.5 1044.8 L1389.1 1044.9 L1389.6 1044.4 L1390.7 1045.9 L1391.8 1048.2 L1393.1 1048.3 L1394.0 1046.2 L1395.1 1046.7 L1396.2 1045.0 L1396.8 1043.7 L1397.3 1043.2 L1398.4 1042.8 L1399.5 1042.4 L1400.6 1042.0 L1401.9 1041.5 L1402.8 1039.9 L1403.9 1038.0 L1405.4 1035.7 L1406.1 1032.6 L1407.2 1028.2 L1407.7 1026.4 L1408.3 1014.7 L1408.8 1005.5 L1409.4 993.7 L1410.0 982.3 L1410.5 974.8 L1411.6 959.1 L1413.0 931.3 L1413.8 919.7 L1414.6 908.1 L1416.0 906.5 L1417.1 904.7 L1418.1 904.0 L1419.3 909.9 L1420.4 915.3 L1420.9 917.4 L1421.5 928.0 L1422.3 940.6 L1423.9 963.8 L1424.8 976.9 L1425.5 987.0 L1425.9 991.4 L1427.0 1003.8 L1427.4 1007.8 L1428.1 1013.0 L1429.2 1020.7 L1429.7 1024.1 L1430.3 1027.8 L1431.4 1034.4 L1432.0 1038.0 L1432.5 1039.2 L1433.6 1042.0 L1434.8 1044.9 L1435.8 1046.2 L1436.9 1047.5 L1438.0 1048.8 L1438.5 1049.5 L1439.1 1048.9 L1440.2 1048.3 L1441.3 1046.9 L1442.5 1046.1 L1443.5 1046.2 L1444.6 1047.0 L1445.9 1048.5 L1446.8 1049.6 L1447.9 1049.8 L1449.0 1048.1 L1450.1 1049.2 L1451.2 1049.6 L1452.3 1047.7 L1453.4 1048.7 L1454.1 1047.7 L1454.5 1048.5 L1455.6 1047.7 L1456.7 1050.5 L1457.8 1049.2 L1458.7 1050.9 L1460.0 1052.4 L1461.1 1051.7 L1462.2 1052.9 L1463.3 1052.9 L1464.4 1052.7 L1465.5 1053.5 L1466.6 1053.0 L1467.7 1053.0 L1469.1 1053.1 L1469.9 1055.7 L1471.0 1058.3 L1471.4 1058.7 L1472.1 1058.8 L1473.2 1058.4 L1474.3 1059.0 L1474.9 1057.6 L1475.4 1057.2 L1476.5 1059.6 L1477.6 1059.5 L1478.4 1060.6 L1479.8 1060.6 L1480.9 1059.2 L1482.0 1056.9 L1483.0 1056.8 L1484.2 1057.3 L1485.3 1057.5 L1485.8 1058.4 L1486.4 1058.5 L1487.5 1057.1 L1488.6 1053.8 L1489.5 1053.6 L1490.8 1055.5 L1491.9 1054.8 L1493.0 1056.0 L1493.5 1056.6 L1494.1 1058.0 L1495.2 1058.8 L1496.3 1058.5 L1497.0 1059.3 L1497.4 1058.7 L1498.5 1059.3 L1499.6 1060.2 L1500.7 1059.7 L1501.6 1060.7 L1502.9 1061.9 L1504.0 1061.1 L1505.1 1060.6 L1506.2 1062.7 L1507.4 1062.3 L1508.4 1061.8 L1509.5 1060.3 L1510.6 1061.5 L1511.7 1059.6 L1512.8 1059.2 L1513.2 1059.5 L1513.9 1060.4 L1515.0 1061.2 L1516.1 1061.6 L1517.2 1060.4 L1517.8 1061.7 L1518.3 1061.4 L1519.4 1061.6 L1520.5 1059.8 L1521.6 1058.9 L1522.5 1058.9 L1523.8 1057.7 L1524.9 1057.1 L1525.9 1056.1 L1527.1 1056.5 L1528.2 1057.0 L1529.4 1056.9 L1530.4 1058.9 L1531.5 1059.0 L1532.6 1059.3 L1534.1 1061.3 L1534.8 1061.4 L1535.9 1061.2 L1537.0 1059.5 L1537.5 1059.9 L1538.1 1062.1 L1539.2 1065.3 L1539.9 1065.7 L1540.3 1066.2 L1541.4 1064.9 L1542.5 1063.6 L1543.3 1062.5 L1544.7 1063.4 L1545.8 1064.3 L1546.8 1064.8 L1548.0 1062.9 L1549.1 1061.9 L1550.3 1059.8 L1551.3 1059.7 L1552.4 1060.4 L1553.5 1061.7 L1554.9 1061.2 L1555.7 1062.4 L1556.8 1062.8 L1557.9 1063.1 L1559.0 1063.3 L1559.6 1063.1 L1560.1 1062.9 L1561.2 1061.9 L1562.3 1060.1 L1563.4 1061.3 L1564.2 1060.0 L1565.6 1060.7 L1566.7 1059.8 L1567.7 1059.4 L1568.9 1059.8 L1570.0 1061.0 L1571.2 1061.0 L1572.2 1059.6 L1573.3 1057.3 L1573.9 1056.2 L1574.4 1055.5 L1575.5 1056.0 L1576.6 1057.8 L1577.7 1059.5 L1578.1 1059.0 L1578.8 1058.0 L1579.9 1057.9 L1581.0 1058.2 L1582.1 1058.4 L1582.8 1057.7 L1583.2 1057.5 L1584.3 1057.3 L1585.4 1057.7 L1586.5 1057.6 L1586.9 1057.7 L1587.6 1059.2 L1588.7 1059.6 L1589.8 1060.4 L1590.9 1060.9 L1592.0 1061.1 L1593.1 1060.6 L1594.2 1058.1 L1595.3 1058.3 L1596.7 1057.2 L1597.5 1056.1 L1598.6 1056.4 L1599.7 1057.5 L1600.8 1058.0 L1601.3 1056.9 L1601.9 1056.5 L1603.0 1056.1 L1604.1 1055.2 L1605.2 1054.9 L1606.3 1055.3 L1607.1 1054.3 L1608.5 1053.5 L1609.6 1054.8 L1610.7 1054.1 L1611.7 1054.2 L1612.9 1053.9 L1614.0 1054.6 L1615.1 1054.4 L1616.4 1054.2 L1617.3 1052.7 L1618.4 1050.2 L1619.9 1048.3 L1620.6 1047.4 L1621.7 1046.1 L1622.8 1045.2 L1623.3 1044.9 L1623.9 1045.0 L1625.0 1045.1 L1626.1 1045.3 L1626.8 1045.4 L1627.2 1044.6 L1628.3 1042.7 L1629.4 1040.7 L1630.3 1039.1 L1631.6 1034.4 L1632.6 1031.0 L1633.8 1011.8 L1634.2 1005.5 L1634.9 997.1 L1636.0 983.9 L1636.6 977.7 L1637.1 969.0 L1638.4 949.9 L1639.3 933.7 L1640.3 917.4 L1641.5 892.0 L1641.9 884.9 L1642.6 874.7 L1643.5 862.9 L1644.8 861.7 L1645.9 861.7 L1646.5 860.5 L1647.0 863.1 L1648.1 869.6 L1648.8 873.3 L1649.2 878.9 L1650.5 896.5 L1651.4 914.2 L1651.9 922.0 L1652.5 933.6 L1653.5 949.9 L1654.7 971.3 L1655.1 977.7 L1655.8 987.7 L1657.0 1003.2 L1658.0 1010.7 L1659.3 1019.4 L1660.2 1024.7 L1661.6 1032.2 L1662.4 1033.0 L1663.5 1034.1 L1664.6 1035.2 L1665.1 1035.7 L1665.7 1036.1 L1666.8 1036.9 L1668.1 1038.0 L1669.0 1040.2 L1670.4 1043.8 L1671.2 1044.2 L1672.3 1045.7 L1673.2 1046.1 L1674.5 1051.3 L1675.5 1054.2 L1676.7 1056.2 L1677.8 1057.0 L1678.9 1056.1 L1680.0 1055.7 L1681.1 1055.4 L1682.0 1055.4 L1683.3 1055.6 L1684.4 1054.4 L1685.5 1054.8 L1685.9 1054.6 L1686.6 1055.9 L1687.7 1058.9 L1689.0 1060.2 L1689.9 1060.4 L1691.0 1060.4 L1692.1 1061.1 L1692.9 1062.3 L1694.3 1062.4 L1695.4 1061.8 L1696.5 1062.1 L1697.5 1061.1 L1698.7 1061.0 L1699.8 1060.7 L1700.9 1059.8 L1701.5 1059.2 L1702.0 1059.9 L1703.1 1061.4 L1704.2 1064.2 L1705.2 1065.3 L1706.4 1065.1 L1707.5 1066.1 L1708.6 1068.2 L1709.1 1067.7 L1709.7 1067.8 L1710.8 1068.8 L1711.9 1068.6 L1713.0 1067.6 L1713.8 1068.1 L1714.1 1067.0 L1715.2 1065.7 L1716.3 1066.6 L1716.8 1065.2 L1717.4 1067.0 L1718.5 1067.2 L1719.6 1069.1 L1720.0 1070.5 L1720.7 1070.2 L1721.8 1070.4 L1722.9 1068.6 L1724.2 1068.2 L1725.1 1069.9 L1726.2 1070.2 L1727.0 1070.5 L1728.4 1067.4 L1729.3 1064.5 L1730.6 1064.9 L1731.5 1065.6 L1732.8 1064.1 L1733.9 1063.9 L1734.5 1064.4 L1735.0 1064.5 L1736.1 1064.9 L1737.2 1064.7 L1738.3 1064.2 L1739.4 1065.2 L1740.3 1064.6 L1741.6 1064.6 L1742.7 1065.0 L1743.8 1065.2 L1744.9 1065.9 L1746.1 1066.0 L1747.1 1066.9 L1748.2 1067.7 L1749.3 1067.8 L1750.4 1067.5 L1751.5 1067.7 L1751.9 1068.5 L1752.6 1067.1 L1753.7 1067.1 L1754.8 1067.9 L1755.4 1067.2 L1755.9 1066.5 L1757.0 1069.0 L1758.1 1068.9 L1758.9 1069.8 L1760.3 1067.1 L1761.4 1067.1 L1762.5 1064.8 L1763.5 1064.8 L1764.7 1065.0 L1765.8 1064.3 L1766.9 1065.4 L1768.0 1065.7 L1769.3 1066.0 L1770.2 1067.2 L1771.3 1067.4 L1772.4 1067.6 L1773.5 1066.5 L1774.0 1067.3 L1774.6 1066.3 L1775.7 1066.8 L1776.8 1065.3 L1777.9 1064.7 L1779.0 1063.3 L1779.8 1063.6 L1780.1 1063.7 L1781.2 1062.9 L1782.3 1062.2 L1783.2 1063.3 L1784.5 1063.2 L1785.6 1061.8 L1786.7 1060.8 L1787.8 1060.9 L1788.9 1063.1 L1790.0 1063.6 L1791.4 1063.0 L1792.2 1064.1 L1793.3 1065.5 L1794.4 1065.5 L1795.5 1068.5 L1796.0 1067.7 L1796.6 1067.5 L1797.7 1067.0 L1798.8 1066.5 L1799.9 1065.0 L1800.6 1064.3 L1801.0 1064.5 L1802.1 1063.4 L1803.2 1064.4 L1804.3 1063.3 L1805.4 1063.4 L1806.5 1062.2 L1807.6 1063.3 L1808.7 1062.7 L1809.9 1063.2 L1810.9 1062.8 L1812.0 1060.8 L1813.4 1059.1 L1814.2 1058.6 L1815.3 1058.6 L1816.4 1058.0 L1816.9 1058.0 L1817.5 1057.8 L1818.6 1057.6 L1819.7 1057.0 L1820.4 1056.8 L1820.8 1054.9 L1821.9 1049.5 L1822.7 1046.4 L1824.3 1029.0" fill="none" stroke="#FF0000" stroke-width="6.5" stroke-linejoin="round" stroke-linecap="round" clip-path="url(#cl)"/>
<path d="M197.0 208.3 L197.7 261.2 L198.9 284.3 L199.8 294.7 L200.9 307.4 L201.9 319.1 L202.6 342.3 L203.1 350.4 L204.2 368.7 L204.7 377.1 L205.6 393.3 L206.4 400.5 L207.5 410.7 L208.8 423.5 L209.7 438.9 L210.7 458.3 L211.6 474.5 L213.0 485.2 L213.9 493.0 L215.3 509.3 L216.3 526.6 L217.0 539.4 L217.4 546.8 L218.1 560.3 L219.3 574.2 L220.7 584.6 L221.1 588.1 L221.8 590.8 L222.8 595.1 L224.0 605.7 L224.6 611.3 L225.1 613.6 L226.2 619.1 L226.9 622.9 L228.4 612.8 L229.2 606.7 L230.6 616.1 L231.7 623.9 L232.5 629.9 L233.9 648.7 L234.3 655.4 L235.0 666.3 L235.7 680.0 L237.1 703.2 L238.3 714.5 L239.0 721.7 L239.4 723.5 L240.5 728.7 L241.6 733.8 L242.5 738.0 L243.8 742.0 L244.9 745.4 L245.5 747.2 L246.0 750.7 L247.1 758.8 L248.2 763.1 L249.3 767.5 L250.6 772.8 L251.5 778.3 L252.4 784.4 L253.7 796.7 L254.1 800.6 L254.8 804.9 L255.9 811.7 L257.1 819.1 L258.1 822.4 L259.2 826.1 L259.9 828.4 L260.3 829.5 L261.4 832.4 L262.5 835.4 L263.3 837.7 L264.5 851.6 L265.8 859.2 L266.8 865.5 L268.0 873.6 L269.1 881.7 L270.3 895.7 L271.3 899.1 L272.6 903.8 L273.5 900.5 L274.6 896.2 L275.6 892.2 L276.8 896.5 L277.9 900.6 L278.4 902.6 L279.0 907.1 L280.1 915.9 L280.7 921.2 L281.2 923.7 L282.3 930.4 L283.0 935.1 L284.5 943.4 L285.8 951.3 L286.5 960.6 L287.8 955.4 L288.9 951.0 L290.0 946.4 L290.5 944.4 L291.1 947.3 L292.3 953.6 L293.3 959.9 L294.4 967.3 L295.1 972.2 L295.5 973.5 L296.6 977.7 L297.7 981.7 L298.8 986.1 L299.9 991.4 L301.0 996.9 L301.6 1000.0 L302.1 1001.5 L303.2 1005.2 L304.4 1009.3 L305.4 1014.5 L306.5 1020.5 L307.4 1025.5 L308.7 1014.1 L309.7 1004.6 L310.9 1010.4 L312.0 1016.2 L313.1 1023.5 L314.3 1032.5 L315.3 1035.7 L316.4 1039.2 L317.5 1042.9 L317.8 1044.1 L318.6 1045.3 L319.7 1046.7 L320.1 1047.6 L320.8 1046.0 L321.9 1042.8 L323.0 1039.8 L323.6 1038.2 L324.1 1039.9 L325.2 1044.3 L326.3 1048.8 L327.1 1051.1 L328.5 1052.0 L329.6 1053.1 L330.7 1054.7 L331.8 1056.2 L332.9 1056.8 L334.0 1049.4 L335.2 1041.7 L336.2 1045.0 L337.3 1047.8 L338.7 1053.3 L339.5 1054.6 L340.6 1058.1 L341.7 1060.9 L342.8 1063.8 L343.3 1064.9 L343.9 1064.5 L345.0 1064.4 L346.1 1064.0 L347.2 1063.4 L348.3 1062.7 L349.1 1062.7 L350.5 1067.1 L351.6 1070.6 L352.6 1074.2 L353.8 1076.2 L354.9 1079.0 L356.1 1081.1 L357.1 1081.2 L358.2 1080.9 L359.3 1082.8 L360.4 1083.5 L361.5 1083.7 L361.9 1083.5 L362.6 1081.1 L363.7 1076.4 L364.8 1071.8 L365.9 1067.4 L367.0 1063.2 L367.7 1060.2 L368.1 1061.8 L369.2 1065.0 L370.3 1070.8 L371.2 1072.9 L372.5 1062.5 L373.6 1052.0 L374.7 1042.4 L375.8 1033.2 L376.3 1029.0 L376.9 1035.7 L378.0 1048.1 L379.3 1062.6 L380.2 1072.4 L381.6 1088.1 L382.4 1091.0 L383.5 1094.8 L384.6 1098.4 L385.7 1102.4 L386.2 1104.3 L386.8 1108.6 L387.4 1113.6 L387.9 1112.4 L389.0 1109.7 L390.1 1107.0 L391.2 1104.3 L391.6 1103.2 L392.3 1106.0 L393.4 1110.1 L394.5 1114.2 L395.5 1118.3 L396.7 1118.5 L397.8 1120.0 L398.9 1119.5 L400.1 1120.6 L401.1 1123.9 L402.2 1127.3 L403.3 1130.6 L403.6 1132.2 L404.4 1130.6 L405.5 1129.0 L406.6 1127.5 L407.7 1126.9 L408.3 1125.2 L408.8 1126.0 L409.9 1131.0 L411.0 1134.5 L411.7 1136.8 L413.2 1135.7 L414.3 1134.2 L415.4 1133.2 L416.5 1131.7 L417.5 1130.0 L418.7 1128.0 L419.8 1125.8 L421.0 1124.2 L422.0 1128.4 L423.1 1133.1 L424.2 1137.5 L425.3 1140.1 L425.7 1142.5 L426.4 1140.5 L427.5 1139.2 L428.6 1138.5 L429.1 1136.7 L429.7 1136.6 L430.8 1138.0 L431.9 1138.6 L433.0 1139.2 L433.8 1139.2 L435.2 1141.6 L436.3 1141.6 L437.4 1142.4 L438.4 1143.7 L439.6 1142.6 L440.7 1140.0 L441.9 1138.0 L442.9 1138.1 L444.0 1139.6 L445.1 1139.1 L446.2 1140.4 L446.5 1140.4 L447.3 1143.3 L448.4 1144.8 L449.5 1148.7 L450.0 1150.7 L450.6 1151.9 L451.7 1153.2 L452.8 1152.8 L453.9 1155.4 L454.6 1155.3 L456.1 1152.5 L457.2 1151.9 L458.3 1150.2 L459.3 1148.4 L460.5 1149.0 L461.6 1152.0 L462.8 1153.1 L463.8 1150.4 L464.9 1148.0 L466.0 1145.1 L467.4 1141.5 L468.2 1142.6 L469.3 1145.1 L470.4 1145.6 L471.5 1148.1 L472.0 1148.4 L472.6 1145.8 L473.7 1138.7 L474.8 1133.3 L475.5 1128.8 L475.9 1129.5 L477.0 1131.8 L478.1 1134.7 L479.2 1136.8 L480.1 1139.1 L481.4 1137.3 L482.5 1135.7 L483.6 1134.1 L484.8 1132.2 L485.8 1129.7 L486.9 1127.0 L488.0 1124.2 L489.1 1121.4 L489.4 1120.6 L490.2 1115.6 L491.3 1108.3 L492.4 1100.7 L492.9 1097.4 L493.5 1089.2 L494.6 1072.2 L495.2 1062.4 L495.7 1058.6 L496.8 1049.9 L498.0 1038.4 L499.0 1048.0 L500.1 1059.6 L500.6 1064.9 L501.2 1076.1 L502.3 1097.8 L502.9 1109.0 L503.4 1113.8 L504.5 1124.9 L505.7 1136.8 L506.7 1135.6 L507.8 1134.2 L508.9 1132.8 L510.3 1131.0 L511.1 1132.8 L512.2 1135.2 L513.3 1137.7 L514.4 1140.1 L514.9 1141.4 L515.5 1142.6 L516.6 1145.5 L517.7 1147.8 L518.8 1151.6 L519.6 1153.1 L521.0 1151.9 L522.1 1151.7 L523.2 1150.9 L524.2 1150.7 L525.4 1156.1 L526.5 1160.0 L527.6 1157.0 L528.7 1153.5 L530.0 1148.7 L530.9 1151.7 L532.0 1154.0 L533.1 1154.8 L533.5 1156.9 L534.2 1156.0 L535.3 1152.1 L536.4 1149.4 L537.5 1148.4 L538.1 1146.5 L538.6 1151.0 L539.3 1158.1 L539.7 1156.5 L540.8 1155.7 L541.9 1154.0 L542.8 1153.2 L544.1 1160.3 L545.1 1164.9 L546.3 1165.6 L547.4 1165.7 L548.6 1166.1 L549.6 1159.4 L550.7 1151.9 L551.8 1144.2 L553.2 1134.9 L554.0 1131.5 L555.1 1125.7 L556.0 1120.8 L557.3 1117.9 L558.4 1116.5 L559.0 1115.0 L559.5 1118.3 L560.6 1126.5 L562.0 1137.2 L562.8 1141.8 L563.9 1150.3 L564.3 1153.3 L565.0 1151.3 L566.1 1148.4 L567.2 1145.1 L568.3 1141.8 L569.4 1143.5 L570.6 1145.3 L571.6 1150.4 L572.9 1156.9 L573.8 1157.6 L574.9 1160.0 L576.0 1160.9 L577.1 1162.6 L578.2 1157.5 L579.3 1154.3 L579.9 1151.1 L580.4 1147.8 L581.5 1139.0 L582.2 1133.5 L582.6 1133.8 L583.7 1132.8 L584.8 1131.6 L585.7 1131.3 L587.0 1135.4 L588.1 1139.9 L589.1 1142.9 L590.3 1144.5 L591.4 1145.4 L592.1 1146.4 L593.6 1138.6 L594.9 1130.2 L595.8 1133.0 L596.9 1139.7 L598.0 1142.3 L598.4 1145.3 L599.1 1144.0 L600.2 1143.3 L601.4 1140.7 L602.4 1135.6 L603.5 1129.3 L604.2 1126.7 L604.6 1127.5 L605.7 1128.6 L606.8 1131.3 L607.7 1132.4 L609.0 1135.7 L610.1 1140.0 L611.2 1144.0 L612.3 1142.5 L613.4 1140.5 L614.5 1137.2 L615.8 1134.7 L616.7 1136.5 L617.8 1135.8 L618.9 1137.5 L619.3 1138.1 L620.0 1139.7 L621.1 1142.0 L622.2 1143.7 L622.8 1145.2 L623.3 1142.7 L624.4 1137.2 L625.5 1130.1 L626.6 1125.9 L627.4 1120.9 L628.8 1124.4 L630.2 1127.9 L631.0 1124.3 L632.1 1121.0 L633.2 1116.2 L634.3 1122.3 L635.4 1128.8 L636.5 1135.4 L637.1 1138.9 L637.6 1138.3 L638.7 1134.1 L639.8 1132.6 L640.9 1128.9 L641.3 1127.8 L642.0 1129.3 L643.1 1130.8 L644.2 1131.0 L644.8 1132.6 L645.3 1131.6 L646.4 1125.6 L647.5 1121.2 L648.6 1116.7 L649.4 1113.8 L650.8 1123.7 L651.7 1131.2 L653.0 1127.4 L654.1 1125.1 L655.2 1121.0 L656.4 1117.3 L657.4 1118.3 L658.5 1117.8 L659.9 1119.8 L660.7 1121.1 L661.8 1122.7 L662.9 1123.8 L664.0 1125.6 L664.5 1126.7 L665.1 1125.8 L666.2 1123.7 L667.3 1119.9 L668.4 1118.6 L669.1 1116.3 L670.6 1111.7 L671.7 1109.2 L672.8 1106.4 L673.9 1102.5 L674.9 1099.9 L676.1 1103.9 L677.2 1108.2 L678.3 1112.4 L679.4 1115.9 L680.7 1121.9 L681.6 1117.9 L682.7 1111.3 L683.0 1109.2 L683.8 1107.3 L684.9 1106.2 L686.0 1104.5 L687.1 1103.2 L687.7 1102.4 L688.2 1103.6 L689.3 1106.4 L690.4 1107.7 L691.5 1111.2 L692.6 1113.0 L693.5 1115.2 L694.8 1110.2 L695.9 1104.1 L697.0 1099.8 L698.1 1095.3 L699.2 1098.7 L700.3 1100.3 L701.4 1102.7 L702.8 1107.1 L703.6 1103.5 L704.7 1101.7 L705.8 1098.2 L706.9 1093.5 L708.1 1090.8 L709.1 1094.9 L710.2 1099.4 L711.3 1105.1 L712.0 1108.2 L713.5 1108.4 L714.6 1108.8 L715.5 1110.4 L716.8 1105.8 L717.9 1101.0 L719.0 1096.8 L720.1 1093.1 L720.6 1090.7 L721.2 1093.5 L722.3 1098.2 L723.6 1104.6 L724.5 1103.0 L725.6 1100.0 L726.6 1098.8 L727.8 1108.0 L728.9 1116.0 L729.4 1120.9 L730.0 1122.5 L731.3 1127.8 L732.2 1126.2 L733.3 1124.4 L734.1 1123.1 L735.5 1115.5 L736.4 1110.4 L737.7 1116.4 L738.8 1121.5 L739.9 1125.6 L741.0 1122.3 L742.1 1118.8 L742.9 1116.4 L744.3 1121.9 L745.7 1127.9 L746.5 1126.4 L747.6 1126.1 L748.7 1124.1 L749.1 1123.1 L749.8 1124.6 L750.9 1128.6 L752.1 1132.4 L753.1 1130.9 L754.2 1129.9 L755.3 1128.2 L756.4 1126.3 L757.2 1125.4 L758.6 1116.6 L759.7 1108.9 L760.7 1101.0 L761.9 1109.7 L763.0 1117.5 L764.1 1125.5 L764.7 1130.1 L765.2 1127.1 L766.3 1124.9 L767.4 1118.8 L768.5 1115.4 L769.6 1110.8 L770.0 1109.3 L770.7 1114.6 L771.8 1123.3 L772.3 1127.8 L772.9 1127.7 L774.0 1127.1 L775.1 1127.0 L776.2 1125.9 L777.0 1125.5 L778.4 1138.4 L779.3 1146.4 L780.6 1149.5 L781.6 1152.2 L782.8 1146.1 L783.9 1140.9 L784.4 1138.2 L785.0 1139.1 L786.1 1141.0 L787.2 1143.1 L787.9 1144.0 L788.3 1147.6 L789.7 1157.9 L790.5 1155.8 L791.6 1152.6 L792.7 1150.0 L793.2 1148.6 L793.8 1151.3 L794.9 1155.7 L796.2 1161.5 L797.1 1157.2 L798.2 1153.0 L799.0 1148.8 L800.4 1154.4 L801.5 1158.7 L802.6 1163.5 L803.2 1166.1 L803.7 1165.9 L804.8 1166.4 L805.9 1166.3 L807.1 1166.1 L808.1 1162.9 L809.2 1159.1 L810.6 1154.5 L811.4 1157.2 L812.5 1160.1 L813.6 1163.9 L814.1 1164.8 L814.7 1159.4 L815.8 1146.0 L817.1 1132.4 L818.0 1124.3 L819.1 1114.3 L819.9 1106.9 L821.3 1120.3 L822.6 1132.4 L823.5 1142.1 L824.5 1155.6 L825.7 1164.5 L826.8 1172.2 L828.0 1181.2 L829.0 1178.1 L830.1 1174.9 L831.2 1171.6 L832.6 1167.2 L833.4 1172.4 L834.5 1180.3 L834.9 1183.5 L835.6 1184.7 L836.7 1185.8 L837.8 1188.2 L838.4 1189.2 L838.9 1188.1 L840.0 1185.3 L841.2 1181.2 L842.2 1185.0 L843.3 1188.8 L844.2 1191.6 L845.5 1188.7 L846.6 1184.7 L847.7 1182.0 L848.1 1181.1 L848.8 1182.8 L849.9 1184.4 L851.2 1186.9 L852.1 1188.7 L853.2 1191.2 L854.3 1192.7 L854.6 1193.9 L855.4 1195.5 L856.5 1199.3 L857.4 1203.2 L858.7 1206.4 L859.8 1208.6 L860.4 1210.2 L860.9 1208.9 L862.0 1203.7 L863.1 1199.5 L864.2 1194.2 L865.1 1190.6 L866.4 1191.9 L867.5 1191.4 L868.6 1192.8 L869.7 1191.5 L870.8 1190.7 L871.9 1189.5 L873.2 1188.1 L874.1 1189.9 L875.2 1191.0 L876.0 1192.8 L877.4 1190.1 L878.5 1186.8 L879.0 1185.7 L879.6 1178.5 L880.1 1169.6 L880.7 1167.9 L881.8 1163.6 L882.9 1160.3 L884.0 1163.8 L885.1 1168.2 L885.9 1171.9 L887.3 1176.2 L888.4 1179.2 L889.4 1183.4 L890.6 1180.0 L891.7 1176.8 L892.9 1173.0 L893.9 1175.6 L895.2 1178.9 L896.1 1184.7 L897.2 1191.6 L898.3 1199.1 L898.7 1202.1 L899.4 1202.9 L900.5 1203.9 L901.6 1205.0 L902.2 1206.6 L902.7 1207.3 L903.8 1206.3 L904.9 1204.9 L906.0 1204.1 L907.1 1203.1 L908.0 1202.0 L909.3 1195.8 L910.4 1191.0 L911.4 1185.8 L912.6 1182.6 L913.8 1178.9 L914.8 1183.1 L916.1 1189.2 L917.0 1183.9 L918.1 1176.3 L919.2 1170.2 L919.6 1167.3 L920.3 1164.1 L921.4 1160.7 L921.9 1158.0 L922.5 1159.8 L923.6 1162.8 L924.7 1166.9 L925.4 1169.5 L925.8 1170.2 L926.9 1171.0 L927.7 1171.9 L929.3 1188.1 L930.0 1191.3 L931.3 1186.6 L932.4 1181.6 L933.5 1177.4 L934.6 1164.7 L935.8 1149.6 L936.8 1140.4 L938.1 1127.5 L939.0 1125.7 L939.7 1124.5 L941.2 1140.1 L941.6 1144.9 L942.3 1154.7 L943.4 1172.8 L944.5 1182.8 L945.1 1189.0 L945.6 1190.6 L946.7 1193.9 L948.1 1198.3 L948.9 1202.1 L950.0 1207.7 L950.4 1209.8 L951.1 1211.3 L952.0 1213.3 L953.3 1209.0 L954.3 1205.2 L955.5 1203.7 L956.6 1200.7 L957.8 1199.5 L958.8 1200.9 L959.9 1202.6 L961.3 1204.0 L962.1 1204.0 L963.2 1204.8 L964.3 1205.3 L965.4 1201.7 L966.5 1196.9 L967.1 1193.5 L967.6 1191.1 L968.7 1188.1 L969.9 1183.2 L970.9 1183.1 L972.0 1184.1 L972.9 1185.4 L974.2 1190.0 L975.3 1194.8 L975.9 1198.2 L976.4 1201.5 L977.5 1207.4 L978.2 1212.1 L979.7 1208.0 L981.0 1204.1 L981.9 1205.7 L983.0 1207.7 L984.1 1209.6 L984.5 1209.8 L985.2 1211.9 L986.3 1213.5 L987.5 1216.9 L988.5 1220.1 L989.6 1222.6 L990.3 1225.0 L990.7 1223.4 L991.8 1218.9 L993.1 1212.3 L994.0 1210.9 L995.1 1211.7 L996.2 1211.4 L997.2 1209.8 L998.4 1211.1 L999.5 1213.2 L1000.7 1215.5 L1001.7 1216.9 L1002.8 1219.3 L1004.2 1221.4 L1005.0 1221.1 L1006.1 1219.2 L1007.2 1217.6 L1007.7 1216.8 L1008.3 1217.9 L1009.4 1220.0 L1010.5 1222.2 L1011.2 1223.8 L1011.6 1223.8 L1012.7 1223.5 L1013.8 1223.2 L1014.9 1224.2 L1015.3 1223.7 L1016.0 1228.4 L1017.0 1235.3 L1018.2 1238.1 L1019.3 1240.0 L1020.4 1238.5 L1021.5 1235.7 L1022.6 1234.7 L1023.9 1232.0 L1024.8 1233.2 L1025.9 1236.0 L1027.0 1237.3 L1027.4 1238.9 L1028.1 1239.3 L1029.2 1240.9 L1030.3 1241.9 L1030.9 1242.1 L1031.4 1242.5 L1032.5 1243.4 L1033.6 1245.9 L1034.7 1245.5 L1035.5 1247.0 L1036.9 1244.5 L1038.0 1240.6 L1039.0 1237.8 L1040.2 1238.2 L1041.3 1241.0 L1042.4 1242.1 L1043.6 1242.3 L1044.6 1241.5 L1045.7 1239.5 L1046.8 1238.2 L1047.9 1236.0 L1048.3 1236.4 L1049.0 1237.5 L1050.1 1240.8 L1051.2 1242.8 L1052.3 1243.5 L1052.9 1245.7 L1053.4 1246.5 L1054.5 1246.3 L1055.6 1244.7 L1056.4 1245.8 L1057.8 1248.1 L1058.9 1248.1 L1059.9 1249.1 L1061.1 1247.5 L1062.2 1244.0 L1063.3 1241.1 L1064.4 1241.8 L1065.5 1243.0 L1066.6 1242.2 L1068.0 1243.6 L1068.8 1242.9 L1069.9 1240.5 L1071.0 1239.0 L1072.1 1235.6 L1073.3 1234.1 L1074.3 1236.2 L1075.4 1236.5 L1076.5 1236.2 L1077.2 1237.6 L1078.7 1237.2 L1079.8 1237.7 L1080.7 1236.4 L1082.0 1238.6 L1083.1 1241.4 L1084.2 1244.7 L1085.3 1239.6 L1086.4 1236.7 L1087.5 1232.2 L1088.1 1229.5 L1088.6 1231.2 L1089.7 1234.6 L1090.8 1238.4 L1091.2 1240.1 L1091.9 1238.0 L1093.0 1235.8 L1094.1 1232.6 L1095.2 1229.9 L1095.8 1228.4 L1096.3 1226.5 L1097.4 1221.2 L1098.8 1214.5 L1099.6 1215.7 L1100.7 1216.1 L1101.8 1216.7 L1102.8 1216.8 L1104.0 1214.5 L1105.1 1212.0 L1106.2 1210.9 L1107.3 1215.7 L1108.4 1220.8 L1109.0 1223.9 L1109.5 1226.7 L1110.6 1234.4 L1111.3 1238.8 L1112.8 1238.9 L1113.9 1239.4 L1114.3 1240.0 L1115.0 1238.7 L1116.1 1237.2 L1117.2 1235.3 L1118.3 1232.7 L1119.0 1231.9 L1119.4 1232.2 L1120.5 1233.7 L1121.6 1233.4 L1122.7 1234.5 L1123.6 1235.2 L1124.9 1236.2 L1126.0 1237.0 L1127.1 1238.1 L1128.3 1240.0 L1129.3 1240.4 L1130.4 1240.3 L1131.5 1241.9 L1132.9 1242.3 L1133.7 1242.1 L1134.8 1240.7 L1135.9 1238.4 L1136.4 1238.9 L1137.0 1239.5 L1138.1 1239.5 L1139.2 1241.6 L1139.9 1242.2 L1140.3 1241.3 L1141.4 1240.5 L1142.5 1239.7 L1143.3 1238.9 L1144.7 1240.8 L1145.8 1243.0 L1146.8 1245.8 L1148.0 1240.0 L1149.1 1235.0 L1150.3 1228.4 L1151.3 1228.6 L1152.4 1228.8 L1153.8 1229.5 L1154.6 1227.8 L1155.7 1226.2 L1156.8 1225.0 L1157.2 1223.7 L1157.9 1224.7 L1159.0 1228.2 L1160.1 1231.3 L1160.7 1232.0 L1161.2 1232.1 L1162.3 1231.3 L1163.4 1232.6 L1164.2 1232.9 L1165.6 1230.1 L1166.7 1228.4 L1167.7 1226.0 L1168.9 1227.4 L1170.0 1229.7 L1171.2 1230.8 L1172.2 1232.0 L1173.5 1233.0 L1174.4 1229.0 L1175.5 1224.7 L1176.6 1219.1 L1177.0 1217.9 L1177.7 1217.0 L1178.8 1217.7 L1179.9 1217.9 L1181.0 1217.3 L1182.1 1215.7 L1182.8 1215.5 L1183.2 1215.8 L1184.3 1216.9 L1185.4 1219.0 L1186.2 1220.3 L1187.6 1223.9 L1188.6 1228.6 L1189.8 1225.9 L1190.9 1222.7 L1192.0 1221.0 L1193.2 1219.2 L1194.2 1219.7 L1195.3 1222.7 L1196.7 1223.8 L1197.5 1221.7 L1198.6 1220.2 L1199.0 1219.2 L1199.7 1220.6 L1200.8 1223.0 L1201.3 1225.0 L1201.9 1221.8 L1203.0 1216.1 L1204.1 1210.4 L1204.8 1207.7 L1205.2 1206.2 L1206.3 1206.8 L1207.4 1206.1 L1208.5 1205.8 L1209.6 1205.4 L1210.6 1205.2 L1211.8 1209.8 L1212.9 1212.5 L1213.4 1214.6 L1214.0 1215.2 L1215.1 1217.9 L1216.4 1221.4 L1217.3 1218.2 L1218.4 1213.0 L1219.5 1209.0 L1220.6 1204.0 L1221.0 1202.9 L1221.7 1205.6 L1222.8 1208.4 L1223.9 1212.9 L1224.5 1215.6 L1225.0 1214.5 L1226.1 1212.1 L1227.2 1211.3 L1228.0 1209.8 L1229.4 1215.7 L1230.5 1219.0 L1231.4 1222.5 L1232.7 1220.5 L1233.8 1220.4 L1234.9 1218.0 L1236.0 1221.4 L1237.1 1227.7 L1237.9 1230.7 L1239.3 1225.5 L1240.4 1219.5 L1241.5 1215.4 L1241.9 1213.2 L1242.6 1214.2 L1243.7 1215.8 L1244.8 1218.2 L1245.4 1219.1 L1245.9 1221.5 L1247.0 1225.3 L1248.1 1231.0 L1248.8 1233.2 L1250.3 1230.2 L1251.4 1227.7 L1252.5 1227.0 L1253.5 1225.0 L1254.7 1228.2 L1255.8 1230.2 L1256.9 1232.5 L1258.1 1236.5 L1259.1 1233.4 L1260.2 1231.8 L1261.3 1228.5 L1262.4 1227.5 L1262.8 1226.0 L1263.5 1225.4 L1264.6 1223.2 L1265.7 1224.0 L1266.8 1222.9 L1268.1 1220.3 L1269.0 1224.1 L1270.1 1228.5 L1270.9 1233.2 L1272.3 1239.4 L1273.2 1243.5 L1274.5 1237.5 L1275.6 1233.9 L1276.7 1228.5 L1277.8 1232.2 L1278.9 1237.0 L1280.1 1242.3 L1281.1 1241.1 L1282.2 1237.2 L1283.3 1236.5 L1283.6 1235.4 L1284.4 1235.8 L1285.5 1238.2 L1286.6 1238.5 L1287.1 1240.0 L1287.7 1237.7 L1288.8 1233.4 L1289.9 1230.6 L1291.0 1234.4 L1292.1 1236.9 L1293.2 1240.8 L1294.1 1243.6 L1295.4 1242.5 L1296.5 1239.2 L1297.6 1238.5 L1298.7 1236.4 L1299.8 1239.4 L1300.9 1240.2 L1302.2 1243.5 L1303.1 1241.8 L1304.2 1241.0 L1305.3 1239.1 L1306.4 1238.9 L1306.8 1237.8 L1307.5 1238.0 L1308.6 1235.0 L1309.7 1234.1 L1310.8 1234.2 L1311.4 1233.0 L1311.9 1232.2 L1313.0 1231.4 L1314.1 1228.6 L1315.2 1228.0 L1316.1 1226.0 L1317.4 1229.4 L1318.5 1232.1 L1319.6 1235.4 L1320.7 1238.7 L1321.8 1240.9 L1323.0 1244.5 L1324.0 1244.0 L1325.1 1243.5 L1326.2 1243.0 L1327.0 1243.3 L1328.4 1236.3 L1329.3 1230.7 L1330.0 1237.4 L1330.6 1234.9 L1331.7 1232.1 L1332.8 1229.0 L1334.2 1225.5 L1335.0 1226.5 L1336.1 1230.4 L1337.2 1233.5 L1338.1 1235.2 L1339.4 1239.0 L1340.5 1244.3 L1341.1 1246.6 L1341.6 1246.8 L1342.7 1249.6 L1343.8 1250.7 L1344.4 1251.8 L1344.9 1250.5 L1346.0 1247.8 L1347.4 1243.1 L1348.2 1243.7 L1349.3 1244.5 L1350.4 1245.2 L1351.5 1245.8 L1352.0 1246.6 L1352.6 1247.1 L1353.7 1245.5 L1354.8 1245.7 L1355.9 1245.0 L1357.0 1246.2 L1357.8 1245.5 L1359.2 1254.4 L1359.7 1258.3 L1360.3 1258.5 L1361.4 1259.4 L1362.5 1260.5 L1363.6 1261.7 L1364.7 1259.1 L1365.9 1253.5 L1366.9 1256.0 L1368.0 1258.2 L1369.1 1259.5 L1370.2 1262.6 L1370.6 1263.0 L1371.3 1259.8 L1372.4 1256.7 L1373.5 1253.6 L1374.1 1251.5 L1374.6 1252.4 L1375.7 1254.6 L1376.8 1257.8 L1377.5 1259.3 L1379.0 1259.8 L1380.1 1262.4 L1381.5 1262.9 L1382.3 1264.2 L1383.4 1263.8 L1384.5 1265.8 L1385.7 1266.5 L1386.7 1263.1 L1387.8 1261.2 L1389.1 1257.9 L1390.0 1259.8 L1391.1 1261.6 L1392.2 1263.9 L1393.3 1266.3 L1393.8 1267.4 L1394.4 1265.9 L1395.5 1265.4 L1396.6 1262.9 L1397.7 1262.3 L1398.4 1260.5 L1398.8 1260.5 L1399.9 1260.6 L1401.0 1260.0 L1402.1 1259.1 L1403.0 1258.8 L1404.3 1260.7 L1405.4 1261.8 L1406.5 1257.9 L1407.6 1254.6 L1408.8 1251.7 L1409.8 1252.5 L1410.9 1252.3 L1412.0 1251.7 L1412.3 1251.8 L1413.1 1250.0 L1414.2 1250.8 L1415.3 1248.8 L1416.4 1253.6 L1417.7 1260.5 L1418.6 1261.2 L1419.7 1262.9 L1420.9 1265.2 L1421.9 1264.3 L1423.0 1262.7 L1424.1 1260.6 L1424.6 1260.1 L1425.2 1261.5 L1426.3 1263.3 L1427.4 1266.6 L1428.6 1268.6 L1429.6 1269.6 L1430.7 1271.1 L1431.8 1272.4 L1432.9 1273.3 L1433.9 1274.9 L1435.1 1274.0 L1436.2 1272.9 L1436.7 1272.2 L1437.3 1268.8 L1438.4 1264.7 L1439.0 1263.5 L1439.5 1264.1 L1440.6 1263.4 L1441.7 1261.2 L1442.5 1261.7 L1443.9 1264.3 L1445.0 1264.8 L1446.1 1267.9 L1447.1 1268.8 L1448.3 1265.7 L1449.4 1262.4 L1450.1 1260.5 L1451.6 1261.4 L1452.7 1261.1 L1453.8 1262.2 L1454.9 1261.5 L1456.0 1261.9 L1456.4 1263.0 L1457.1 1263.4 L1458.2 1266.6 L1459.3 1269.5 L1460.4 1270.1 L1461.0 1272.2 L1461.5 1272.6 L1462.6 1270.4 L1463.7 1270.4 L1464.8 1269.1 L1465.7 1269.5 L1467.0 1268.0 L1468.1 1266.9 L1469.1 1267.7 L1470.3 1267.8 L1471.4 1269.1 L1472.5 1269.8 L1473.8 1272.3 L1474.7 1270.7 L1475.8 1269.2 L1476.9 1268.6 L1478.0 1266.5 L1478.4 1266.4 L1479.1 1266.4 L1480.2 1268.8 L1481.3 1269.5 L1482.6 1271.0 L1483.5 1270.3 L1484.9 1266.4 L1485.7 1267.6 L1486.8 1269.0 L1488.1 1270.9 L1489.0 1274.9 L1490.0 1280.2 L1491.2 1278.9 L1492.3 1277.9 L1493.4 1277.4 L1494.2 1278.0 L1495.6 1272.5 L1497.0 1267.6 L1497.8 1265.7 L1498.9 1265.0 L1500.0 1263.1 L1500.4 1262.9 L1501.1 1264.6 L1502.2 1268.2 L1503.3 1270.0 L1504.4 1274.2 L1505.1 1275.7 L1505.5 1273.9 L1506.6 1272.7 L1507.4 1269.9 L1508.8 1265.9 L1509.9 1262.0 L1510.4 1259.4 L1511.0 1262.1 L1512.1 1264.7 L1513.2 1268.8 L1514.3 1266.8 L1515.4 1263.7 L1516.0 1261.7 L1516.5 1260.5 L1517.6 1256.3 L1518.3 1252.4 L1518.7 1253.8 L1519.8 1257.1 L1520.9 1262.2 L1522.0 1265.2 L1523.1 1264.5 L1524.2 1263.0 L1525.3 1262.9 L1525.9 1261.8 L1526.4 1261.9 L1527.5 1262.0 L1528.6 1262.0 L1529.4 1261.8 L1530.8 1257.7 L1532.2 1252.6 L1533.0 1250.4 L1534.1 1249.1 L1534.5 1248.6 L1535.2 1249.3 L1536.3 1253.5 L1537.4 1256.3 L1538.2 1258.1 L1539.6 1255.8 L1540.6 1255.8 L1541.8 1260.3 L1542.9 1264.5 L1543.3 1265.4 L1544.0 1267.2 L1545.1 1270.0 L1546.1 1271.8 L1547.3 1269.2 L1548.4 1265.5 L1549.5 1262.8 L1550.3 1261.7 L1551.7 1262.3 L1552.8 1261.3 L1553.9 1261.2 L1554.5 1260.9 L1555.0 1260.4 L1556.1 1263.0 L1557.2 1261.6 L1558.4 1263.2 L1559.4 1261.4 L1560.7 1257.6 L1561.6 1259.9 L1562.7 1261.0 L1563.8 1262.3 L1564.9 1264.5 L1565.4 1264.9 L1566.0 1264.8 L1567.1 1264.1 L1568.2 1263.2 L1569.3 1262.9 L1570.4 1264.8 L1571.5 1266.3 L1572.6 1267.9 L1573.5 1268.7 L1574.8 1271.1 L1575.8 1274.1 L1577.0 1276.6 L1578.1 1278.6 L1578.6 1279.2 L1579.2 1278.9 L1580.3 1277.6 L1581.4 1275.6 L1582.8 1274.6 L1583.6 1275.6 L1584.7 1277.1 L1585.8 1280.2 L1586.9 1281.3 L1588.0 1281.8 L1589.1 1281.2 L1590.2 1279.9 L1591.6 1278.6 L1592.4 1279.1 L1593.5 1278.3 L1594.6 1279.1 L1595.7 1277.2 L1596.8 1277.1 L1597.1 1278.0 L1597.9 1276.4 L1599.0 1276.5 L1600.1 1274.6 L1601.2 1274.1 L1602.3 1271.5 L1603.6 1270.2 L1604.5 1271.0 L1605.6 1273.8 L1606.7 1275.1 L1607.8 1276.4 L1608.9 1275.1 L1610.0 1274.0 L1611.1 1272.9 L1612.4 1270.9 L1613.3 1272.7 L1614.4 1273.0 L1615.5 1274.7 L1616.6 1273.8 L1617.5 1275.7 L1618.8 1274.1 L1619.9 1273.7 L1621.0 1273.9 L1622.1 1271.3 L1623.3 1271.1 L1624.3 1273.4 L1625.4 1278.9 L1626.3 1281.5 L1627.6 1279.5 L1628.7 1279.4 L1629.8 1277.9 L1630.3 1277.9 L1630.9 1279.3 L1632.0 1283.3 L1632.6 1285.0 L1633.1 1284.5 L1634.2 1283.9 L1635.3 1282.1 L1636.4 1281.1 L1637.2 1281.5 L1638.6 1282.4 L1639.7 1283.6 L1640.8 1283.6 L1641.2 1284.1 L1641.9 1282.3 L1643.0 1282.4 L1644.1 1280.7 L1645.4 1278.0 L1646.3 1277.8 L1647.4 1275.2 L1648.5 1274.4 L1648.8 1273.5 L1649.6 1275.8 L1650.7 1276.5 L1651.8 1279.5 L1652.3 1280.2 L1652.9 1282.3 L1654.0 1282.3 L1655.1 1284.9 L1656.2 1283.9 L1657.3 1280.9 L1658.4 1280.2 L1659.3 1279.1 L1660.6 1279.6 L1661.7 1280.8 L1662.8 1280.7 L1663.9 1282.6 L1665.0 1282.4 L1666.1 1283.6 L1667.2 1283.3 L1668.3 1284.1 L1669.7 1283.8 L1670.5 1284.2 L1671.6 1285.8 L1672.7 1285.5 L1673.8 1288.4 L1674.9 1288.5 L1675.5 1289.7 L1676.0 1287.7 L1677.1 1286.2 L1678.2 1285.5 L1679.3 1283.2 L1680.1 1281.4 L1681.5 1281.5 L1682.6 1282.0 L1683.6 1281.0 L1684.8 1283.1 L1685.9 1283.6 L1687.0 1285.8 L1688.3 1286.4 L1689.2 1287.0 L1690.3 1287.2 L1691.4 1289.3 L1692.5 1289.8 L1692.9 1290.2 L1693.6 1289.5 L1694.7 1285.4 L1695.8 1284.4 L1696.4 1282.7 L1696.9 1281.2 L1698.0 1280.6 L1699.1 1279.2 L1699.9 1278.6 L1701.3 1280.6 L1702.4 1281.8 L1703.5 1284.7 L1704.5 1285.8 L1705.7 1286.0 L1706.8 1285.3 L1707.9 1284.0 L1709.0 1282.2 L1710.3 1282.6 L1711.2 1282.1 L1712.3 1280.8 L1713.4 1278.7 L1713.8 1278.7 L1714.5 1278.7 L1715.6 1277.5 L1716.8 1277.3 L1717.8 1280.2 L1718.9 1282.6 L1719.6 1284.9 L1720.0 1286.6 L1721.1 1286.5 L1722.2 1289.6 L1723.0 1290.3 L1724.4 1289.6 L1725.5 1287.5 L1726.5 1287.3 L1727.7 1287.5 L1728.8 1287.4 L1729.3 1288.3 L1729.9 1287.5 L1731.0 1287.1 L1732.2 1287.6 L1733.2 1287.6 L1734.3 1290.0 L1735.7 1290.6 L1736.5 1291.2 L1737.6 1290.7 L1738.7 1289.5 L1739.9 1289.0 L1740.9 1285.2 L1742.2 1281.8 L1743.1 1281.9 L1744.2 1282.5 L1745.4 1284.3 L1746.4 1282.9 L1747.5 1283.6 L1748.4 1282.1 L1749.7 1283.2 L1750.8 1284.0 L1751.9 1284.4 L1753.0 1285.5 L1754.1 1287.0 L1755.2 1288.7 L1756.1 1290.0 L1757.4 1289.7 L1758.5 1287.1 L1759.6 1286.8 L1760.0 1285.9 L1760.7 1285.5 L1761.8 1288.6 L1762.9 1288.1 L1763.5 1289.6 L1764.0 1288.9 L1765.1 1290.0 L1766.2 1291.2 L1767.3 1291.2 L1767.7 1291.0 L1768.4 1290.7 L1769.5 1291.2 L1770.6 1290.0 L1771.6 1289.6 L1772.8 1288.7 L1773.9 1289.2 L1775.1 1287.1 L1776.1 1285.5 L1777.2 1285.3 L1778.6 1283.1 L1779.4 1281.9 L1780.5 1281.6 L1781.6 1282.7 L1782.7 1283.4 L1783.8 1286.9 L1784.4 1287.1 L1784.9 1286.9 L1786.0 1288.8 L1787.2 1289.9 L1788.2 1290.1 L1789.3 1291.7 L1790.2 1291.8 L1791.5 1292.7 L1792.6 1293.8 L1793.7 1293.5 L1794.8 1289.9 L1795.9 1288.0 L1797.2 1285.4 L1798.1 1286.9 L1799.2 1286.2 L1800.3 1288.2 L1800.6 1288.3 L1801.4 1286.7 L1802.5 1285.6 L1803.6 1284.6 L1804.7 1280.8 L1805.3 1280.7 L1805.8 1281.0 L1806.9 1285.0 L1808.0 1285.7 L1808.8 1287.5 L1810.2 1287.3 L1811.3 1286.7 L1812.3 1287.4 L1813.5 1289.6 L1814.6 1290.8 L1815.7 1291.2 L1816.8 1290.2 L1817.9 1290.8 L1819.2 1290.0 L1820.1 1289.1 L1821.2 1286.3 L1822.0 1285.8 L1823.4 1286.2 L1824.5 1286.4 L1825.7 1287.5" fill="none" stroke="#000000" stroke-width="6.5" stroke-linejoin="round" stroke-linecap="round" clip-path="url(#cl)"/>
<g font-size="56.5" text-anchor="middle">
<text x="132.2" y="2242.4" textLength="30.03" lengthAdjust="spacingAndGlyphs">0</text>
<text x="374.2" y="2242.4" textLength="60.06" lengthAdjust="spacingAndGlyphs">10</text>
<text x="616.1" y="2242.4" textLength="60.06" lengthAdjust="spacingAndGlyphs">20</text>
<text x="858.1" y="2242.4" textLength="60.06" lengthAdjust="spacingAndGlyphs">30</text>
<text x="1100.1" y="2242.4" textLength="60.06" lengthAdjust="spacingAndGlyphs">40</text>
<text x="1342.1" y="2242.4" textLength="60.06" lengthAdjust="spacingAndGlyphs">50</text>
<text x="1584.0" y="2242.4" textLength="60.06" lengthAdjust="spacingAndGlyphs">60</text>
<text x="1826.0" y="2242.4" textLength="60.06" lengthAdjust="spacingAndGlyphs">70</text>
</g>
<path d="M1269.5 109.6 L1378.7 109.6" stroke="#FF0000" stroke-width="7.5" fill="none"/>
<text x="1400.6" y="128.4" font-size="49" style="fill:#FF0000" textLength="282.0" lengthAdjust="spacingAndGlyphs">MoC-SC-pH7</text>
<path d="M1269.5 171.7 L1378.7 171.7" stroke="#000000" stroke-width="7.5" fill="none"/>
<text x="1400.6" y="193.6" font-size="49" style="fill:#000000" textLength="283.2" lengthAdjust="spacingAndGlyphs">MoC-SA-pH7</text>
<path d="M1269.5 242.5 L1378.7 242.5" stroke="#0070C0" stroke-width="7.5" fill="none"/>
<text x="1400.6" y="259.5" font-size="49" style="fill:#0070C0" textLength="284.0" lengthAdjust="spacingAndGlyphs">MoA-SC-pH5</text>
<path d="M1269.5 305.0 L1378.7 305.0" stroke="#7030A0" stroke-width="7.5" fill="none"/>
<text x="1400.6" y="324.4" font-size="49" style="fill:#7030A0" textLength="284.0" lengthAdjust="spacingAndGlyphs">MoA-SC-pH7</text>
<path d="M1269.5 373.7 L1378.7 373.7" stroke="#FFC000" stroke-width="7.5" fill="none"/>
<text x="1400.6" y="387.9" font-size="49" style="fill:#FFC000" textLength="311.7" lengthAdjust="spacingAndGlyphs">MoA-SC-pH10</text>
<path d="M1269.5 435.8 L1378.7 435.8" stroke="#00B050" stroke-width="7.5" fill="none"/>
<text x="1400.6" y="454.9" font-size="49" style="fill:#00B050" textLength="285.5" lengthAdjust="spacingAndGlyphs">MoA-SA-pH7</text>
<text transform="translate(73.8 1090.6) rotate(-90)" font-size="65.2" text-anchor="middle" textLength="420" lengthAdjust="spacingAndGlyphs">Intensity (a. u.)</text>
<text transform="translate(918.2 2309.6) scale(1.035 1)" font-size="64">2</text>
<text class="th" transform="translate(958 2309.6) scale(1.16 1)" font-size="63.5">θ</text>
</svg></body></html>
